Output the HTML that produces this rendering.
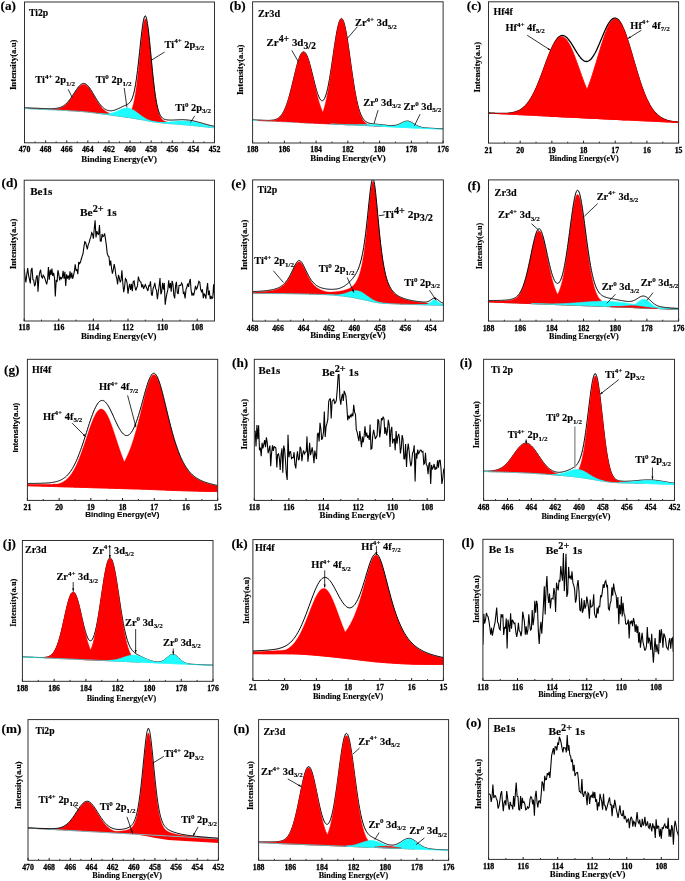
<!DOCTYPE html>
<html><head><meta charset="utf-8"><title>XPS spectra</title>
<style>html,body{margin:0;padding:0;background:#fff;}svg{display:block;will-change:transform;}text{stroke:#000;stroke-width:.14px;}.t text{stroke-width:.28px;}body{font-family:"Liberation Serif",serif;}</style></head>
<body>
<svg width="685" height="881" viewBox="0 0 685 881" font-family='"Liberation Serif", serif' font-weight="bold" fill="#000">
<rect width="685" height="881" fill="#fff"/>
<g id="pa">
<clipPath id="ca"><rect x="24.5" y="2" width="190" height="140.8"/></clipPath><g clip-path="url(#ca)"><path d="M27.5 108.5 28.5 108.5 29.5 108.6 30.5 108.6 31.5 108.7 32.5 108.7 33.5 108.8 34.5 108.8 35.5 108.9 36.5 108.9 37.5 109 38.5 109 39.5 109 40.5 109.1 41.5 109.1 42.5 109.2 43.5 109.2 44.5 109.2 45.5 109.3 46.5 109.3 47.5 109.3 48.5 109.3 49.5 109.4 50.5 109.4 51.5 109.4 52.5 109.3 53.5 109.3 54.5 109.2 55.5 109.1 56.5 109 57.5 108.8 58.5 108.6 59.5 108.3 60.5 108 61.5 107.6 62.5 107.1 63.5 106.5 64.5 105.8 65.5 105 66.5 104 67.5 103 68.5 101.9 69.5 100.6 70.5 99.3 71.5 97.9 72.5 96.4 73.5 94.9 74.5 93.3 75.5 91.8 76.5 90.3 77.5 88.9 78.5 87.6 79.5 86.5 80.5 85.6 81.5 84.9 82.5 84.4 83.5 84.2 84.5 84.3 85.5 84.7 86.5 85.3 87.5 86.2 88.5 87.3 89.5 88.6 90.5 90.1 91.5 91.7 92.5 93.4 93.5 95.1 94.5 96.8 95.5 98.5 96.5 100.2 97.5 101.8 98.5 103.3 99.5 104.7 100.5 106.1 101.5 107.3 102.5 108.4 103.5 109.4 104.5 110.2 105.5 111 106.5 111.7 107.5 112.3 108.5 112.8 109.5 113.3 110.5 113.7 111.5 114.1 112.5 114.4 113.5 114.7 114.5 114.9 115.5 115.1 116.5 115.3 117.5 115.5 118.5 115.7 119.5 115.9 120.5 116 121.5 116.2 122.5 116.4 123.5 116.5 124.5 116.7 125.5 116.8 126.5 117 127.5 117.1 128.5 117.3 129.5 117.5 130.5 117.6 131.5 117.8 132.5 117.9 133.5 118.1 134.5 118.3 135.5 118.5 136.5 118.6 137.5 118.8 138.5 119 139.5 119.2 140.5 119.4 L140.5 119.5 139.5 119.3 138.5 119.1 137.5 118.9 136.5 118.8 135.5 118.6 134.5 118.4 133.5 118.3 132.5 118.1 131.5 117.9 130.5 117.8 129.5 117.6 128.5 117.5 127.5 117.3 126.5 117.2 125.5 117.1 124.5 116.9 123.5 116.8 122.5 116.6 121.5 116.5 120.5 116.4 119.5 116.2 118.5 116.1 117.5 116 116.5 115.8 115.5 115.7 114.5 115.6 113.5 115.4 112.5 115.3 111.5 115.1 110.5 115 109.5 114.9 108.5 114.7 107.5 114.6 106.5 114.5 105.5 114.3 104.5 114.2 103.5 114.1 102.5 114 101.5 113.8 100.5 113.7 99.5 113.6 98.5 113.4 97.5 113.3 96.5 113.2 95.5 113 94.5 112.9 93.5 112.8 92.5 112.7 91.5 112.5 90.5 112.4 89.5 112.3 88.5 112.2 87.5 112.1 86.5 112 85.5 111.9 84.5 111.8 83.5 111.7 82.5 111.6 81.5 111.5 80.5 111.4 79.5 111.4 78.5 111.3 77.5 111.2 76.5 111.2 75.5 111.1 74.5 111 73.5 111 72.5 110.9 71.5 110.9 70.5 110.8 69.5 110.8 68.5 110.7 67.5 110.6 66.5 110.6 65.5 110.5 64.5 110.5 63.5 110.4 62.5 110.4 61.5 110.3 60.5 110.3 59.5 110.2 58.5 110.2 57.5 110.1 56.5 110.1 55.5 110 54.5 110 53.5 109.9 52.5 109.9 51.5 109.8 50.5 109.8 49.5 109.7 48.5 109.7 47.5 109.6 46.5 109.6 45.5 109.5 44.5 109.5 43.5 109.4 42.5 109.4 41.5 109.3 40.5 109.3 39.5 109.2 38.5 109.2 37.5 109.1 36.5 109.1 35.5 109 34.5 109 33.5 108.9 32.5 108.9 31.5 108.8 30.5 108.8 29.5 108.7 28.5 108.7 27.5 108.6Z" fill="#ff0000" stroke="#ff0000" stroke-width="0.3"/><path d="M67.5 110.5 68.5 110.6 69.5 110.6 70.5 110.7 71.5 110.7 72.5 110.8 73.5 110.8 74.5 110.9 75.5 110.9 76.5 111 77.5 111.1 78.5 111.1 79.5 111.2 80.5 111.3 81.5 111.4 82.5 111.4 83.5 111.5 84.5 111.6 85.5 111.7 86.5 111.8 87.5 111.9 88.5 112 89.5 112.1 90.5 112.2 91.5 112.3 92.5 112.4 93.5 112.5 94.5 112.6 95.5 112.8 96.5 112.9 97.5 113 98.5 113.1 99.5 113.2 100.5 113.3 101.5 113.5 102.5 113.6 103.5 113.7 104.5 113.8 105.5 113.9 106.5 114 107.5 114.1 108.5 114.2 109.5 114.3 110.5 114.4 111.5 114.5 112.5 114.6 113.5 114.7 114.5 114.8 115.5 114.9 116.5 115 117.5 115.1 118.5 115.1 119.5 115.2 120.5 115.3 121.5 115.3 122.5 115.3 123.5 115.3 124.5 115.3 125.5 115.1 126.5 114.9 127.5 114.6 128.5 114 129.5 113 130.5 111.7 131.5 109.7 132.5 107 133.5 103.4 134.5 98.7 135.5 92.8 136.5 85.7 137.5 77.5 138.5 68.2 139.5 58.4 140.5 48.3 141.5 38.8 142.5 30.3 143.5 23.8 144.5 19.7 145.5 18.6 146.5 20.7 147.5 25.7 148.5 33 149.5 42.1 150.5 52.2 151.5 62.6 152.5 72.7 153.5 82.1 154.5 90.5 155.5 97.7 156.5 103.6 157.5 108.4 158.5 112.1 159.5 114.9 160.5 117 161.5 118.6 162.5 119.7 163.5 120.4 164.5 121 165.5 121.5 166.5 121.8 167.5 122.1 168.5 122.3 169.5 122.5 170.5 122.6 171.5 122.8 172.5 122.9 173.5 123.1 174.5 123.2 175.5 123.3 176.5 123.4 177.5 123.5 178.5 123.7 179.5 123.8 180.5 123.9 181.5 124 182.5 124.1 183.5 124.2 184.5 124.3 185.5 124.4 186.5 124.5 187.5 124.6 188.5 124.7 189.5 124.8 190.5 124.9 191.5 125.1 192.5 125.2 193.5 125.3 194.5 125.4 195.5 125.5 196.5 125.6 197.5 125.8 198.5 125.9 199.5 126 200.5 126.1 201.5 126.2 202.5 126.4 203.5 126.5 204.5 126.6 205.5 126.7 206.5 126.8 207.5 126.9 208.5 127 209.5 127.2 210.5 127.3 211.5 127.4 212.5 127.5 213.5 127.6 214.5 127.7 L214.5 127.8 213.5 127.7 212.5 127.6 211.5 127.5 210.5 127.4 209.5 127.3 208.5 127.2 207.5 127.1 206.5 127 205.5 126.9 204.5 126.8 203.5 126.7 202.5 126.6 201.5 126.5 200.5 126.3 199.5 126.2 198.5 126.1 197.5 126 196.5 125.9 195.5 125.8 194.5 125.7 193.5 125.6 192.5 125.5 191.5 125.4 190.5 125.3 189.5 125.2 188.5 125.1 187.5 125 186.5 124.9 185.5 124.8 184.5 124.8 183.5 124.7 182.5 124.6 181.5 124.5 180.5 124.4 179.5 124.4 178.5 124.3 177.5 124.2 176.5 124.1 175.5 124.1 174.5 124 173.5 123.9 172.5 123.9 171.5 123.8 170.5 123.7 169.5 123.6 168.5 123.6 167.5 123.5 166.5 123.4 165.5 123.3 164.5 123.2 163.5 123.1 162.5 123 161.5 122.9 160.5 122.8 159.5 122.7 158.5 122.6 157.5 122.4 156.5 122.3 155.5 122.1 154.5 122 153.5 121.8 152.5 121.7 151.5 121.5 150.5 121.3 149.5 121.2 148.5 121 147.5 120.8 146.5 120.6 145.5 120.4 144.5 120.2 143.5 120 142.5 119.9 141.5 119.7 140.5 119.5 139.5 119.3 138.5 119.1 137.5 118.9 136.5 118.8 135.5 118.6 134.5 118.4 133.5 118.3 132.5 118.1 131.5 117.9 130.5 117.8 129.5 117.6 128.5 117.5 127.5 117.3 126.5 117.2 125.5 117.1 124.5 116.9 123.5 116.8 122.5 116.6 121.5 116.5 120.5 116.4 119.5 116.2 118.5 116.1 117.5 116 116.5 115.8 115.5 115.7 114.5 115.6 113.5 115.4 112.5 115.3 111.5 115.1 110.5 115 109.5 114.9 108.5 114.7 107.5 114.6 106.5 114.5 105.5 114.3 104.5 114.2 103.5 114.1 102.5 114 101.5 113.8 100.5 113.7 99.5 113.6 98.5 113.4 97.5 113.3 96.5 113.2 95.5 113 94.5 112.9 93.5 112.8 92.5 112.7 91.5 112.5 90.5 112.4 89.5 112.3 88.5 112.2 87.5 112.1 86.5 112 85.5 111.9 84.5 111.8 83.5 111.7 82.5 111.6 81.5 111.5 80.5 111.4 79.5 111.4 78.5 111.3 77.5 111.2 76.5 111.2 75.5 111.1 74.5 111 73.5 111 72.5 110.9 71.5 110.9 70.5 110.8 69.5 110.8 68.5 110.7 67.5 110.6Z" fill="#ff0000" stroke="#ff0000" stroke-width="0.3"/><path d="M99.5 113.4 100.5 113.5 101.5 113.6 102.5 113.7 103.5 113.7 104.5 113.8 105.5 113.8 106.5 113.7 107.5 113.7 108.5 113.6 109.5 113.5 110.5 113.3 111.5 113.1 112.5 112.8 113.5 112.5 114.5 112.1 115.5 111.8 116.5 111.4 117.5 110.9 118.5 110.5 119.5 110 120.5 109.6 121.5 109.1 122.5 108.8 123.5 108.4 124.5 108.2 125.5 108 126.5 107.9 127.5 107.9 128.5 108 129.5 108.2 130.5 108.5 131.5 108.9 132.5 109.4 133.5 109.9 134.5 110.6 135.5 111.3 136.5 112 137.5 112.7 138.5 113.5 139.5 114.3 140.5 115 141.5 115.8 142.5 116.5 143.5 117.1 144.5 117.7 145.5 118.3 146.5 118.9 147.5 119.4 148.5 119.8 149.5 120.2 150.5 120.6 151.5 120.9 152.5 121.2 153.5 121.5 154.5 121.7 155.5 121.9 156.5 122.1 157.5 122.3 L157.5 122.4 156.5 122.3 155.5 122.1 154.5 122 153.5 121.8 152.5 121.7 151.5 121.5 150.5 121.3 149.5 121.2 148.5 121 147.5 120.8 146.5 120.6 145.5 120.4 144.5 120.2 143.5 120 142.5 119.9 141.5 119.7 140.5 119.5 139.5 119.3 138.5 119.1 137.5 118.9 136.5 118.8 135.5 118.6 134.5 118.4 133.5 118.3 132.5 118.1 131.5 117.9 130.5 117.8 129.5 117.6 128.5 117.5 127.5 117.3 126.5 117.2 125.5 117.1 124.5 116.9 123.5 116.8 122.5 116.6 121.5 116.5 120.5 116.4 119.5 116.2 118.5 116.1 117.5 116 116.5 115.8 115.5 115.7 114.5 115.6 113.5 115.4 112.5 115.3 111.5 115.1 110.5 115 109.5 114.9 108.5 114.7 107.5 114.6 106.5 114.5 105.5 114.3 104.5 114.2 103.5 114.1 102.5 114 101.5 113.8 100.5 113.7 99.5 113.6Z" fill="#1ffcff" stroke="#1ffcff" stroke-width="0.3"/><path d="M149.5 121 150.5 121.2 151.5 121.3 152.5 121.5 153.5 121.6 154.5 121.7 155.5 121.8 156.5 121.9 157.5 122 158.5 122.1 159.5 122.1 160.5 122.1 161.5 122.2 162.5 122.2 163.5 122.2 164.5 122.2 165.5 122.1 166.5 122.1 167.5 122 168.5 122 169.5 121.9 170.5 121.8 171.5 121.7 172.5 121.6 173.5 121.5 174.5 121.4 175.5 121.3 176.5 121.2 177.5 121.1 178.5 121.1 179.5 121 180.5 120.9 181.5 120.9 182.5 120.9 183.5 120.9 184.5 120.9 185.5 120.9 186.5 120.9 187.5 121 188.5 121.1 189.5 121.2 190.5 121.4 191.5 121.5 192.5 121.7 193.5 121.9 194.5 122.1 195.5 122.3 196.5 122.5 197.5 122.8 198.5 123.1 199.5 123.3 200.5 123.6 201.5 123.9 202.5 124.2 203.5 124.4 204.5 124.7 205.5 125 206.5 125.3 207.5 125.5 208.5 125.8 209.5 126 210.5 126.2 211.5 126.5 212.5 126.7 213.5 126.9 214.5 127.1 L214.5 127.8 213.5 127.7 212.5 127.6 211.5 127.5 210.5 127.4 209.5 127.3 208.5 127.2 207.5 127.1 206.5 127 205.5 126.9 204.5 126.8 203.5 126.7 202.5 126.6 201.5 126.5 200.5 126.3 199.5 126.2 198.5 126.1 197.5 126 196.5 125.9 195.5 125.8 194.5 125.7 193.5 125.6 192.5 125.5 191.5 125.4 190.5 125.3 189.5 125.2 188.5 125.1 187.5 125 186.5 124.9 185.5 124.8 184.5 124.8 183.5 124.7 182.5 124.6 181.5 124.5 180.5 124.4 179.5 124.4 178.5 124.3 177.5 124.2 176.5 124.1 175.5 124.1 174.5 124 173.5 123.9 172.5 123.9 171.5 123.8 170.5 123.7 169.5 123.6 168.5 123.6 167.5 123.5 166.5 123.4 165.5 123.3 164.5 123.2 163.5 123.1 162.5 123 161.5 122.9 160.5 122.8 159.5 122.7 158.5 122.6 157.5 122.4 156.5 122.3 155.5 122.1 154.5 122 153.5 121.8 152.5 121.7 151.5 121.5 150.5 121.3 149.5 121.2Z" fill="#1ffcff" stroke="#1ffcff" stroke-width="0.3"/><path d="M24.5 108.5 25.5 108.5 26.5 108.6 27.5 108.6 28.5 108.7 29.5 108.7 30.5 108.8 31.5 108.8 32.5 108.9 33.5 108.9 34.5 109 35.5 109 36.5 109.1 37.5 109.1 38.5 109.2 39.5 109.2 40.5 109.3 41.5 109.3 42.5 109.4 43.5 109.4 44.5 109.5 45.5 109.5 46.5 109.6 47.5 109.6 48.5 109.7 49.5 109.7 50.5 109.8 51.5 109.8 52.5 109.9 53.5 109.9 54.5 110 55.5 110 56.5 110.1 57.5 110.1 58.5 110.2 59.5 110.2 60.5 110.3 61.5 110.3 62.5 110.4 63.5 110.4 64.5 110.5 65.5 110.5 66.5 110.6 67.5 110.6 68.5 110.7 69.5 110.8 70.5 110.8 71.5 110.9 72.5 110.9 73.5 111 74.5 111 75.5 111.1 76.5 111.2 77.5 111.2 78.5 111.3 79.5 111.4 80.5 111.4 81.5 111.5 82.5 111.6 83.5 111.7 84.5 111.8 85.5 111.9 86.5 112 87.5 112.1 88.5 112.2 89.5 112.3 90.5 112.4 91.5 112.5 92.5 112.7 93.5 112.8 94.5 112.9 95.5 113 96.5 113.2 97.5 113.3 98.5 113.4 99.5 113.6 100.5 113.7 101.5 113.8 102.5 114 103.5 114.1 104.5 114.2 105.5 114.3 106.5 114.5 107.5 114.6 108.5 114.7 109.5 114.9 110.5 115 111.5 115.1 112.5 115.3 113.5 115.4 114.5 115.6 115.5 115.7 116.5 115.8 117.5 116 118.5 116.1 119.5 116.2 120.5 116.4 121.5 116.5 122.5 116.6 123.5 116.8 124.5 116.9 125.5 117.1 126.5 117.2 127.5 117.3 128.5 117.5 129.5 117.6 130.5 117.8 131.5 117.9 132.5 118.1 133.5 118.3 134.5 118.4 135.5 118.6 136.5 118.8 137.5 118.9 138.5 119.1 139.5 119.3 140.5 119.5 141.5 119.7 142.5 119.9 143.5 120 144.5 120.2 145.5 120.4 146.5 120.6 147.5 120.8 148.5 121 149.5 121.2 150.5 121.3 151.5 121.5 152.5 121.7 153.5 121.8 154.5 122 155.5 122.1 156.5 122.3 157.5 122.4 158.5 122.6 159.5 122.7 160.5 122.8 161.5 122.9 162.5 123 163.5 123.1 164.5 123.2 165.5 123.3 166.5 123.4 167.5 123.5 168.5 123.6 169.5 123.6 170.5 123.7 171.5 123.8 172.5 123.9 173.5 123.9 174.5 124 175.5 124.1 176.5 124.1 177.5 124.2 178.5 124.3 179.5 124.4 180.5 124.4 181.5 124.5 182.5 124.6 183.5 124.7 184.5 124.8 185.5 124.8 186.5 124.9 187.5 125 188.5 125.1 189.5 125.2 190.5 125.3 191.5 125.4 192.5 125.5 193.5 125.6 194.5 125.7 195.5 125.8 196.5 125.9 197.5 126 198.5 126.1 199.5 126.2 200.5 126.3 201.5 126.5 202.5 126.6 203.5 126.7 204.5 126.8 205.5 126.9 206.5 127 207.5 127.1 208.5 127.2 209.5 127.3 210.5 127.4 211.5 127.5 212.5 127.6 213.5 127.7 214.5 127.8" fill="none" stroke="#1ffcff" stroke-width="0.8"/><path d="M24.5 107.7 25.5 107.8 26.5 107.8 27.5 107.8 28.5 107.9 29.5 107.9 30.5 108 31.5 108 32.5 108.1 33.5 108.1 34.5 108.2 35.5 108.2 36.5 108.2 37.5 108.3 38.5 108.3 39.5 108.4 40.5 108.4 41.5 108.5 42.5 108.5 43.5 108.5 44.5 108.6 45.5 108.6 46.5 108.6 47.5 108.6 48.5 108.7 49.5 108.7 50.5 108.7 51.5 108.7 52.5 108.6 53.5 108.6 54.5 108.5 55.5 108.4 56.5 108.3 57.5 108.1 58.5 107.9 59.5 107.6 60.5 107.3 61.5 106.9 62.5 106.4 63.5 105.8 64.5 105.1 65.5 104.3 66.5 103.3 67.5 102.3 68.5 101.2 69.5 99.9 70.5 98.6 71.5 97.1 72.5 95.7 73.5 94.1 74.5 92.6 75.5 91 76.5 89.6 77.5 88.2 78.5 86.9 79.5 85.7 80.5 84.8 81.5 84.1 82.5 83.6 83.5 83.4 84.5 83.5 85.5 83.9 86.5 84.5 87.5 85.4 88.5 86.5 89.5 87.8 90.5 89.3 91.5 90.8 92.5 92.5 93.5 94.2 94.5 95.9 95.5 97.6 96.5 99.2 97.5 100.8 98.5 102.3 99.5 103.7 100.5 105 101.5 106.1 102.5 107.1 103.5 108 104.5 108.8 105.5 109.4 106.5 109.9 107.5 110.3 108.5 110.6 109.5 110.7 110.5 110.8 111.5 110.8 112.5 110.6 113.5 110.4 114.5 110.2 115.5 109.8 116.5 109.4 117.5 109 118.5 108.5 119.5 108.1 120.5 107.6 121.5 107.1 122.5 106.6 123.5 106.1 124.5 105.7 125.5 105.3 126.5 104.8 127.5 104.3 128.5 103.7 129.5 102.8 130.5 101.6 131.5 99.9 132.5 97.5 133.5 94.3 134.5 90.1 135.5 84.7 136.5 78.2 137.5 70.5 138.5 61.9 139.5 52.6 140.5 43.1 141.5 34.1 142.5 26.2 143.5 20.1 144.5 16.5 145.5 15.8 146.5 18.2 147.5 23.5 148.5 31.1 149.5 40.4 150.5 50.6 151.5 61.1 152.5 71.4 153.5 80.9 154.5 89.3 155.5 96.5 156.5 102.4 157.5 107.2 158.5 110.9 159.5 113.6 160.5 115.7 161.5 117.1 162.5 118.1 163.5 118.8 164.5 119.3 165.5 119.6 166.5 119.8 167.5 119.9 168.5 120 169.5 120 170.5 120.1 171.5 120.1 172.5 120 173.5 120 174.5 120 175.5 119.9 176.5 119.9 177.5 119.8 178.5 119.8 179.5 119.8 180.5 119.7 181.5 119.7 182.5 119.7 183.5 119.7 184.5 119.8 185.5 119.8 186.5 119.9 187.5 120 188.5 120.1 189.5 120.2 190.5 120.4 191.5 120.5 192.5 120.7 193.5 120.9 194.5 121.2 195.5 121.4 196.5 121.6 197.5 121.9 198.5 122.2 199.5 122.5 200.5 122.7 201.5 123 202.5 123.3 203.5 123.6 204.5 123.9 205.5 124.2 206.5 124.4 207.5 124.7 208.5 125 209.5 125.2 210.5 125.5 211.5 125.7 212.5 125.9 213.5 126.1 214.5 126.3" fill="none" stroke="#000" stroke-width="1" stroke-linejoin="round"/></g>
<path d="M24.5 142.8 v-2.4M45.61 142.8 v-2.4M66.72 142.8 v-2.4M87.83 142.8 v-2.4M108.94 142.8 v-2.4M130.06 142.8 v-2.4M151.17 142.8 v-2.4M172.28 142.8 v-2.4M193.39 142.8 v-2.4M214.5 142.8 v-2.4" stroke="#000" stroke-width="0.9" fill="none"/><path d="M35.06 142.8 v-1.4M56.17 142.8 v-1.4M77.28 142.8 v-1.4M98.39 142.8 v-1.4M119.5 142.8 v-1.4M140.61 142.8 v-1.4M161.72 142.8 v-1.4M182.83 142.8 v-1.4M203.94 142.8 v-1.4" stroke="#000" stroke-width="0.8" fill="none"/><rect x="24.5" y="2" width="190" height="140.8" fill="none" stroke="#262626" stroke-width="0.95"/><g class="t" font-size="7.8" text-anchor="middle"><text x="24.5" y="152.2">470</text><text x="45.61" y="152.2">468</text><text x="66.72" y="152.2">466</text><text x="87.83" y="152.2">464</text><text x="108.94" y="152.2">462</text><text x="130.06" y="152.2">460</text><text x="151.17" y="152.2">458</text><text x="172.28" y="152.2">456</text><text x="193.39" y="152.2">454</text><text x="214.5" y="152.2">452</text></g><text x="119.1" y="161.6" font-size="8.8" text-anchor="middle" font-family='"Liberation Serif", serif'>Binding Energy(eV)</text><text transform="translate(16 64.8) rotate(-90)" font-size="8.8" text-anchor="middle" font-family='"Liberation Serif", serif'>Intensity(a.u)</text><text x="0.5" y="10.2" font-size="13.2">(a)</text><text x="29" y="15.6" font-size="9.7">Ti2p</text>
<line x1="68.16" y1="89.31" x2="72.19" y2="97.37" stroke="#000" stroke-width="0.8"/>
<line x1="124.23" y1="87.97" x2="126.92" y2="107.45" stroke="#000" stroke-width="0.8"/>
<line x1="164.53" y1="52.04" x2="151.09" y2="60.44" stroke="#000" stroke-width="0.8"/>
<line x1="194.74" y1="115.84" x2="190.38" y2="122.55" stroke="#000" stroke-width="0.8"/>
<text x="35.3" y="83.3" font-size="10.4" text-anchor="start"><tspan dy="0">Ti</tspan><tspan dy="-4.26" font-size="7.07">4+</tspan><tspan dy="4.26"> 2p</tspan><tspan dy="2.5" font-size="7.07">1/2</tspan></text>
<text x="95.7" y="83.3" font-size="10.4" text-anchor="start"><tspan dy="0">Ti</tspan><tspan dy="-4.26" font-size="7.07">0</tspan><tspan dy="4.26"> 2p</tspan><tspan dy="2.5" font-size="7.07">1/2</tspan></text>
<text x="164.5" y="47.7" font-size="10.4" text-anchor="start"><tspan dy="0">Ti</tspan><tspan dy="-4.26" font-size="7.07">4+</tspan><tspan dy="4.26"> 2p</tspan><tspan dy="2.5" font-size="7.07">3/2</tspan></text>
<text x="175.3" y="110.8" font-size="10.4" text-anchor="start"><tspan dy="0">Ti</tspan><tspan dy="-4.26" font-size="7.07">0</tspan><tspan dy="4.26"> 2p</tspan><tspan dy="2.5" font-size="7.07">3/2</tspan></text>
</g>
<g id="pb">
<clipPath id="cb"><rect x="252.6" y="1.8" width="190.5" height="141.2"/></clipPath><g clip-path="url(#cb)"><path d="M252.6 119.8 253.6 119.8 254.6 119.9 255.6 119.9 256.6 120 257.6 120 258.6 120.1 259.6 120.1 260.6 120.1 261.6 120.2 262.6 120.2 263.6 120.3 264.6 120.3 265.6 120.3 266.6 120.4 267.6 120.4 268.6 120.4 269.6 120.4 270.6 120.3 271.6 120.2 272.6 120.1 273.6 120 274.6 119.7 275.6 119.4 276.6 119 277.6 118.5 278.6 117.9 279.6 117.1 280.6 116 281.6 114.8 282.6 113.4 283.6 111.6 284.6 109.6 285.6 107.3 286.6 104.7 287.6 101.7 288.6 98.5 289.6 95 290.6 91.2 291.6 87.2 292.6 83.1 293.6 78.9 294.6 74.7 295.6 70.6 296.6 66.6 297.6 63 298.6 59.7 299.6 56.9 300.6 54.6 301.6 53 302.6 52 303.6 51.7 304.6 52.1 305.6 53.2 306.6 54.9 307.6 57.2 308.6 60.1 309.6 63.4 310.6 67.1 311.6 71 312.6 75 313.6 79.1 314.6 83.1 315.6 86.9 316.6 90.4 317.6 93.6 318.6 96.2 319.6 98.4 320.6 99.9 321.6 100.7 322.6 100.7 323.6 100 324.6 98.4 325.6 96 326.6 92.8 327.6 88.7 328.6 83.9 329.6 78.4 330.6 72.3 331.6 65.8 332.6 59 333.6 52.1 334.6 45.3 335.6 38.9 336.6 33 337.6 27.9 338.6 23.7 339.6 20.7 340.6 18.9 341.6 18.4 342.6 19.3 343.6 21.5 344.6 24.9 345.6 29.4 346.6 34.8 347.6 41 348.6 47.8 349.6 54.9 350.6 62.2 351.6 69.4 352.6 76.3 353.6 82.9 354.6 89.1 355.6 94.7 356.6 99.7 357.6 104.1 358.6 108 359.6 111.2 360.6 113.9 361.6 116.2 362.6 118 363.6 119.4 364.6 120.5 365.6 121.4 366.6 122.1 367.6 122.6 368.6 123 369.6 123.3 370.6 123.5 371.6 123.6 372.6 123.8 373.6 123.9 374.6 124 375.6 124.1 376.6 124.2 377.6 124.3 378.6 124.4 379.6 124.5 380.6 124.6 381.6 124.7 382.6 124.8 383.6 124.9 384.6 125 385.6 125.1 386.6 125.3 387.6 125.4 388.6 125.5 389.6 125.5 390.6 125.6 391.6 125.6 392.6 125.6 393.6 125.6 394.6 125.4 395.6 125.3 396.6 125 397.6 124.7 398.6 124.3 399.6 123.9 400.6 123.4 401.6 122.9 402.6 122.4 403.6 122 404.6 121.6 405.6 121.3 406.6 121.1 407.6 121.1 408.6 121.2 409.6 121.5 410.6 121.9 411.6 122.4 412.6 123 413.6 123.6 414.6 124.2 415.6 124.8 416.6 125.4 417.6 125.9 418.6 126.3 419.6 126.7 420.6 127 421.6 127.3 422.6 127.5 423.6 127.6 424.6 127.8 425.6 127.9 426.6 128 427.6 128 428.6 128.1 429.6 128.2 430.6 128.2 431.6 128.3 432.6 128.3 433.6 128.4 434.6 128.4 435.6 128.5 436.6 128.5 437.6 128.6 438.6 128.6 439.6 128.7 440.6 128.7 441.6 128.8 442.6 128.8 443.1 128.8" fill="none" stroke="#000" stroke-width="1" stroke-linejoin="round"/><path d="M252.6 120.2 253.6 120.3 254.6 120.3 255.6 120.4 256.6 120.4 257.6 120.5 258.6 120.5 259.6 120.6 260.6 120.6 261.6 120.7 262.6 120.7 263.6 120.7 264.6 120.8 265.6 120.8 266.6 120.9 267.6 120.9 268.6 121 269.6 121 270.6 121.1 271.6 121.1 272.6 121.2 273.6 121.2 274.6 121.3 275.6 121.3 276.6 121.4 277.6 121.4 278.6 121.5 279.6 121.5 280.6 121.6 281.6 121.6 282.6 121.7 283.6 121.7 284.6 121.7 285.6 121.8 286.6 121.8 287.6 121.9 288.6 121.9 289.6 122 290.6 122 291.6 122.1 292.6 122.1 293.6 122.2 294.6 122.2 295.6 122.3 296.6 122.3 297.6 122.4 298.6 122.4 299.6 122.5 300.6 122.5 301.6 122.6 302.6 122.6 303.6 122.6 304.6 122.7 305.6 122.7 306.6 122.8 307.6 122.8 308.6 122.9 309.6 122.9 310.6 123 311.6 123 312.6 123.1 313.6 123.1 314.6 123.2 315.6 123.2 316.6 123.3 317.6 123.3 318.6 123.4 319.6 123.4 320.6 123.5 321.6 123.5 322.6 123.6 323.6 123.6 324.6 123.6 325.6 123.7 326.6 123.7 327.6 123.8 328.6 123.8 329.6 123.9 330.6 123.9 331.6 124 332.6 124 333.6 124.1 334.6 124.1 335.6 124.2 336.6 124.2 337.6 124.3 338.6 124.3 339.6 124.4 340.6 124.4 341.6 124.5 342.6 124.5 343.6 124.6 344.6 124.6 345.6 124.6 346.6 124.7 347.6 124.7 348.6 124.8 349.6 124.8 350.6 124.9 351.6 124.9 352.6 125 353.6 125 354.6 125.1 355.6 125.1 356.6 125.2 357.6 125.2 358.6 125.3 359.6 125.3 360.6 125.4 361.6 125.4 362.6 125.5 363.6 125.5 364.6 125.5 365.6 125.6 366.6 125.6 367.6 125.7 368.6 125.7 369.6 125.8 370.6 125.8 371.6 125.9 372.6 125.9 373.6 126 374.6 126 375.6 126.1 376.6 126.1 377.6 126.2 378.6 126.2 379.6 126.3 380.6 126.3 381.6 126.4 382.6 126.4 383.6 126.5 384.6 126.5 385.6 126.5 386.6 126.6 387.6 126.6 388.6 126.7 389.6 126.7 390.6 126.8 391.6 126.8 392.6 126.9 393.6 126.9 394.6 127 395.6 127 396.6 127.1 397.6 127.1 398.6 127.2 399.6 127.2 400.6 127.3 401.6 127.3 402.6 127.4 403.6 127.4 404.6 127.4 405.6 127.5 406.6 127.5 407.6 127.6 408.6 127.6 409.6 127.7 410.6 127.7 411.6 127.8 412.6 127.8 413.6 127.9 414.6 127.9 415.6 128 416.6 128 417.6 128.1 418.6 128.1 419.6 128.2 420.6 128.2 421.6 128.3 422.6 128.3 423.6 128.4 424.6 128.4 425.6 128.4 426.6 128.5 427.6 128.5 428.6 128.6 429.6 128.6 430.6 128.7 431.6 128.7 432.6 128.8 433.6 128.8 434.6 128.9 435.6 128.9 436.6 129 437.6 129 438.6 129.1 439.6 129.1 440.6 129.2 441.6 129.2 442.6 129.3 443.1 129.3" fill="none" stroke="#1ffcff" stroke-width="0.8"/><path d="M257.6 120.5 258.6 120.5 259.6 120.6 260.6 120.6 261.6 120.6 262.6 120.7 263.6 120.7 264.6 120.8 265.6 120.8 266.6 120.8 267.6 120.8 268.6 120.8 269.6 120.8 270.6 120.8 271.6 120.7 272.6 120.6 273.6 120.4 274.6 120.2 275.6 119.9 276.6 119.5 277.6 119 278.6 118.3 279.6 117.5 280.6 116.5 281.6 115.3 282.6 113.8 283.6 112.1 284.6 110.1 285.6 107.7 286.6 105.1 287.6 102.2 288.6 98.9 289.6 95.4 290.6 91.6 291.6 87.7 292.6 83.5 293.6 79.3 294.6 75.1 295.6 71 296.6 67.1 297.6 63.4 298.6 60.2 299.6 57.4 300.6 55.1 301.6 53.4 302.6 52.5 303.6 52.1 304.6 52.5 305.6 53.6 306.6 55.4 307.6 57.7 308.6 60.6 309.6 64 310.6 67.7 311.6 71.8 312.6 76 313.6 80.3 314.6 84.6 315.6 88.8 316.6 92.9 317.6 96.7 318.6 100.4 319.6 103.7 320.6 106.7 321.6 109.5 322.6 111.9 323.6 114 324.6 115.8 325.6 117.4 326.6 118.7 327.6 119.8 328.6 120.7 329.6 121.4 330.6 122.1 331.6 122.6 332.6 123 333.6 123.3 334.6 123.5 335.6 123.7 336.6 123.9 337.6 124 338.6 124.2 339.6 124.2 340.6 124.3 341.6 124.4 342.6 124.5 343.6 124.5 344.6 124.6 345.6 124.6 346.6 124.7 347.6 124.7 348.6 124.8 349.6 124.8 L349.6 124.8 348.6 124.8 347.6 124.7 346.6 124.7 345.6 124.6 344.6 124.6 343.6 124.6 342.6 124.5 341.6 124.5 340.6 124.4 339.6 124.4 338.6 124.3 337.6 124.3 336.6 124.2 335.6 124.2 334.6 124.1 333.6 124.1 332.6 124 331.6 124 330.6 123.9 329.6 123.9 328.6 123.8 327.6 123.8 326.6 123.7 325.6 123.7 324.6 123.6 323.6 123.6 322.6 123.6 321.6 123.5 320.6 123.5 319.6 123.4 318.6 123.4 317.6 123.3 316.6 123.3 315.6 123.2 314.6 123.2 313.6 123.1 312.6 123.1 311.6 123 310.6 123 309.6 122.9 308.6 122.9 307.6 122.8 306.6 122.8 305.6 122.7 304.6 122.7 303.6 122.6 302.6 122.6 301.6 122.6 300.6 122.5 299.6 122.5 298.6 122.4 297.6 122.4 296.6 122.3 295.6 122.3 294.6 122.2 293.6 122.2 292.6 122.1 291.6 122.1 290.6 122 289.6 122 288.6 121.9 287.6 121.9 286.6 121.8 285.6 121.8 284.6 121.7 283.6 121.7 282.6 121.7 281.6 121.6 280.6 121.6 279.6 121.5 278.6 121.5 277.6 121.4 276.6 121.4 275.6 121.3 274.6 121.3 273.6 121.2 272.6 121.2 271.6 121.1 270.6 121.1 269.6 121 268.6 121 267.6 120.9 266.6 120.9 265.6 120.8 264.6 120.8 263.6 120.7 262.6 120.7 261.6 120.7 260.6 120.6 259.6 120.6 258.6 120.5 257.6 120.5Z" fill="#ff0000" stroke="#ff0000" stroke-width="0.5"/><path d="M299.6 122.5 300.6 122.5 301.6 122.5 302.6 122.6 303.6 122.6 304.6 122.7 305.6 122.7 306.6 122.7 307.6 122.8 308.6 122.8 309.6 122.8 310.6 122.7 311.6 122.7 312.6 122.6 313.6 122.4 314.6 122.2 315.6 121.8 316.6 121.3 317.6 120.6 318.6 119.7 319.6 118.5 320.6 117 321.6 115.2 322.6 112.9 323.6 110.1 324.6 106.7 325.6 102.8 326.6 98.3 327.6 93.2 328.6 87.5 329.6 81.3 330.6 74.7 331.6 67.7 332.6 60.5 333.6 53.4 334.6 46.4 335.6 39.8 336.6 33.8 337.6 28.6 338.6 24.3 339.6 21.3 340.6 19.5 341.6 19 342.6 19.8 343.6 22 344.6 25.4 345.6 29.9 346.6 35.4 347.6 41.6 348.6 48.4 349.6 55.5 350.6 62.8 351.6 70.1 352.6 77.1 353.6 83.7 354.6 89.9 355.6 95.6 356.6 100.7 357.6 105.2 358.6 109.1 359.6 112.4 360.6 115.2 361.6 117.5 362.6 119.4 363.6 120.9 364.6 122.1 365.6 123 366.6 123.8 367.6 124.4 368.6 124.8 369.6 125.1 370.6 125.4 371.6 125.6 372.6 125.7 373.6 125.8 374.6 125.9 375.6 126 376.6 126.1 377.6 126.1 378.6 126.2 379.6 126.3 380.6 126.3 381.6 126.4 382.6 126.4 383.6 126.5 L383.6 126.5 382.6 126.4 381.6 126.4 380.6 126.3 379.6 126.3 378.6 126.2 377.6 126.2 376.6 126.1 375.6 126.1 374.6 126 373.6 126 372.6 125.9 371.6 125.9 370.6 125.8 369.6 125.8 368.6 125.7 367.6 125.7 366.6 125.6 365.6 125.6 364.6 125.5 363.6 125.5 362.6 125.5 361.6 125.4 360.6 125.4 359.6 125.3 358.6 125.3 357.6 125.2 356.6 125.2 355.6 125.1 354.6 125.1 353.6 125 352.6 125 351.6 124.9 350.6 124.9 349.6 124.8 348.6 124.8 347.6 124.7 346.6 124.7 345.6 124.6 344.6 124.6 343.6 124.6 342.6 124.5 341.6 124.5 340.6 124.4 339.6 124.4 338.6 124.3 337.6 124.3 336.6 124.2 335.6 124.2 334.6 124.1 333.6 124.1 332.6 124 331.6 124 330.6 123.9 329.6 123.9 328.6 123.8 327.6 123.8 326.6 123.7 325.6 123.7 324.6 123.6 323.6 123.6 322.6 123.6 321.6 123.5 320.6 123.5 319.6 123.4 318.6 123.4 317.6 123.3 316.6 123.3 315.6 123.2 314.6 123.2 313.6 123.1 312.6 123.1 311.6 123 310.6 123 309.6 122.9 308.6 122.9 307.6 122.8 306.6 122.8 305.6 122.7 304.6 122.7 303.6 122.6 302.6 122.6 301.6 122.6 300.6 122.5 299.6 122.5Z" fill="#ff0000" stroke="#ff0000" stroke-width="0.5"/><path d="M330.6 123.9 331.6 124 332.6 124 333.6 124.1 334.6 124.1 335.6 124.2 336.6 124.2 337.6 124.3 338.6 124.3 339.6 124.3 340.6 124.4 341.6 124.4 342.6 124.5 343.6 124.5 344.6 124.5 345.6 124.6 346.6 124.6 347.6 124.6 348.6 124.6 349.6 124.7 350.6 124.7 351.6 124.7 352.6 124.7 353.6 124.7 354.6 124.7 355.6 124.7 356.6 124.7 357.6 124.6 358.6 124.6 359.6 124.6 360.6 124.6 361.6 124.5 362.6 124.5 363.6 124.5 364.6 124.5 365.6 124.4 366.6 124.4 367.6 124.4 368.6 124.4 369.6 124.4 370.6 124.4 371.6 124.4 372.6 124.4 373.6 124.5 374.6 124.5 375.6 124.6 376.6 124.7 377.6 124.7 378.6 124.8 379.6 124.9 380.6 125 381.6 125.1 382.6 125.2 383.6 125.4 384.6 125.5 385.6 125.6 386.6 125.7 387.6 125.9 388.6 126 389.6 126.1 390.6 126.2 391.6 126.3 392.6 126.4 393.6 126.5 394.6 126.6 395.6 126.7 396.6 126.8 397.6 126.9 398.6 127 399.6 127.1 400.6 127.1 401.6 127.2 402.6 127.3 403.6 127.3 404.6 127.4 405.6 127.5 406.6 127.5 407.6 127.6 408.6 127.6 409.6 127.7 410.6 127.7 411.6 127.8 412.6 127.8 413.6 127.9 414.6 127.9 415.6 128 416.6 128 417.6 128.1 L417.6 128.1 416.6 128 415.6 128 414.6 127.9 413.6 127.9 412.6 127.8 411.6 127.8 410.6 127.7 409.6 127.7 408.6 127.6 407.6 127.6 406.6 127.5 405.6 127.5 404.6 127.4 403.6 127.4 402.6 127.4 401.6 127.3 400.6 127.3 399.6 127.2 398.6 127.2 397.6 127.1 396.6 127.1 395.6 127 394.6 127 393.6 126.9 392.6 126.9 391.6 126.8 390.6 126.8 389.6 126.7 388.6 126.7 387.6 126.6 386.6 126.6 385.6 126.5 384.6 126.5 383.6 126.5 382.6 126.4 381.6 126.4 380.6 126.3 379.6 126.3 378.6 126.2 377.6 126.2 376.6 126.1 375.6 126.1 374.6 126 373.6 126 372.6 125.9 371.6 125.9 370.6 125.8 369.6 125.8 368.6 125.7 367.6 125.7 366.6 125.6 365.6 125.6 364.6 125.5 363.6 125.5 362.6 125.5 361.6 125.4 360.6 125.4 359.6 125.3 358.6 125.3 357.6 125.2 356.6 125.2 355.6 125.1 354.6 125.1 353.6 125 352.6 125 351.6 124.9 350.6 124.9 349.6 124.8 348.6 124.8 347.6 124.7 346.6 124.7 345.6 124.6 344.6 124.6 343.6 124.6 342.6 124.5 341.6 124.5 340.6 124.4 339.6 124.4 338.6 124.3 337.6 124.3 336.6 124.2 335.6 124.2 334.6 124.1 333.6 124.1 332.6 124 331.6 124 330.6 123.9Z" fill="#1ffcff" stroke="#1ffcff" stroke-width="0.5"/><path d="M381.6 126.4 382.6 126.4 383.6 126.4 384.6 126.5 385.6 126.5 386.6 126.6 387.6 126.6 388.6 126.6 389.6 126.6 390.6 126.6 391.6 126.6 392.6 126.5 393.6 126.4 394.6 126.2 395.6 126 396.6 125.7 397.6 125.4 398.6 125 399.6 124.5 400.6 124 401.6 123.5 402.6 122.9 403.6 122.5 404.6 122.1 405.6 121.8 406.6 121.6 407.6 121.6 408.6 121.7 409.6 122 410.6 122.4 411.6 122.9 412.6 123.4 413.6 124 414.6 124.6 415.6 125.2 416.6 125.8 417.6 126.3 418.6 126.8 419.6 127.1 420.6 127.5 421.6 127.7 422.6 127.9 423.6 128.1 424.6 128.2 425.6 128.3 426.6 128.4 427.6 128.5 428.6 128.6 429.6 128.6 430.6 128.7 431.6 128.7 432.6 128.8 433.6 128.8 L433.6 128.8 432.6 128.8 431.6 128.7 430.6 128.7 429.6 128.6 428.6 128.6 427.6 128.5 426.6 128.5 425.6 128.4 424.6 128.4 423.6 128.4 422.6 128.3 421.6 128.3 420.6 128.2 419.6 128.2 418.6 128.1 417.6 128.1 416.6 128 415.6 128 414.6 127.9 413.6 127.9 412.6 127.8 411.6 127.8 410.6 127.7 409.6 127.7 408.6 127.6 407.6 127.6 406.6 127.5 405.6 127.5 404.6 127.4 403.6 127.4 402.6 127.4 401.6 127.3 400.6 127.3 399.6 127.2 398.6 127.2 397.6 127.1 396.6 127.1 395.6 127 394.6 127 393.6 126.9 392.6 126.9 391.6 126.8 390.6 126.8 389.6 126.7 388.6 126.7 387.6 126.6 386.6 126.6 385.6 126.5 384.6 126.5 383.6 126.5 382.6 126.4 381.6 126.4Z" fill="#1ffcff" stroke="#1ffcff" stroke-width="0.5"/></g>
<path d="M252.6 143 v-2.4M284.35 143 v-2.4M316.1 143 v-2.4M347.85 143 v-2.4M379.6 143 v-2.4M411.35 143 v-2.4M443.1 143 v-2.4" stroke="#000" stroke-width="0.9" fill="none"/><path d="M268.48 143 v-1.4M300.23 143 v-1.4M331.98 143 v-1.4M363.73 143 v-1.4M395.48 143 v-1.4M427.23 143 v-1.4" stroke="#000" stroke-width="0.8" fill="none"/><rect x="252.6" y="1.8" width="190.5" height="141.2" fill="none" stroke="#262626" stroke-width="0.95"/><g class="t" font-size="7.8" text-anchor="middle"><text x="252.6" y="152.4">188</text><text x="284.35" y="152.4">186</text><text x="316.1" y="152.4">184</text><text x="347.85" y="152.4">182</text><text x="379.6" y="152.4">180</text><text x="411.35" y="152.4">178</text><text x="443.1" y="152.4">176</text></g><text x="348.05" y="161.2" font-size="8.8" text-anchor="middle" font-family='"Liberation Serif", serif'>Binding Energy(eV)</text><text transform="translate(243.3 69.8) rotate(-90)" font-size="8.8" text-anchor="middle" font-family='"Liberation Serif", serif'>Intensity(a.u)</text><text x="229.6" y="10.4" font-size="13.2">(b)</text><text x="258" y="16.7" font-size="10.2">Zr3d</text>
<line x1="291.8" y1="50.36" x2="298.51" y2="62.12" stroke="#000" stroke-width="0.8"/>
<line x1="357.27" y1="26.86" x2="347.2" y2="38.61" stroke="#000" stroke-width="0.8"/>
<line x1="378.09" y1="110.13" x2="374.06" y2="123.56" stroke="#000" stroke-width="0.8"/>
<line x1="420.06" y1="114.16" x2="414.35" y2="125.91" stroke="#000" stroke-width="0.8"/>
<text x="266.6" y="46.3" font-size="10.9" text-anchor="start"><tspan dy="0">Zr</tspan><tspan dy="-4.14" font-size="9.81">4+</tspan><tspan dy="4.14"> 3d</tspan><tspan dy="2.4" font-size="9.81">3/2</tspan></text>
<text x="355" y="26.2" font-size="10.4" text-anchor="start"><tspan dy="0">Zr</tspan><tspan dy="-4.26" font-size="7.07">4+</tspan><tspan dy="4.26"> 3d</tspan><tspan dy="2.5" font-size="7.07">5/2</tspan></text>
<text x="363.3" y="105.8" font-size="10.4" text-anchor="start"><tspan dy="0">Zr</tspan><tspan dy="-4.26" font-size="7.07">0</tspan><tspan dy="4.26"> 3d</tspan><tspan dy="2.5" font-size="7.07">3/2</tspan></text>
<text x="403.6" y="109.8" font-size="10.4" text-anchor="start"><tspan dy="0">Zr</tspan><tspan dy="-4.26" font-size="7.07">0</tspan><tspan dy="4.26"> 3d</tspan><tspan dy="2.5" font-size="7.07">5/2</tspan></text>
</g>
<g id="pc">
<clipPath id="cc"><rect x="488.5" y="1.8" width="190.1" height="141.3"/></clipPath><g clip-path="url(#cc)"><path d="M488.5 113 489.5 113 490.5 113.1 491.5 113.1 492.5 113.2 493.5 113.2 494.5 113.2 495.5 113.3 496.5 113.3 497.5 113.4 498.5 113.4 499.5 113.4 500.5 113.4 501.5 113.4 502.5 113.4 503.5 113.4 504.5 113.4 505.5 113.4 506.5 113.4 507.5 113.3 508.5 113.2 509.5 113.1 510.5 113 511.5 112.9 512.5 112.7 513.5 112.5 514.5 112.2 515.5 112 516.5 111.6 517.5 111.2 518.5 110.8 519.5 110.3 520.5 109.7 521.5 109.1 522.5 108.3 523.5 107.5 524.5 106.6 525.5 105.6 526.5 104.5 527.5 103.3 528.5 102 529.5 100.6 530.5 99 531.5 97.4 532.5 95.6 533.5 93.7 534.5 91.7 535.5 89.6 536.5 87.4 537.5 85.1 538.5 82.6 539.5 80.1 540.5 77.6 541.5 74.9 542.5 72.2 543.5 69.5 544.5 66.8 545.5 64 546.5 61.3 547.5 58.7 548.5 56 549.5 53.5 550.5 51.1 551.5 48.7 552.5 46.5 553.5 44.5 554.5 42.7 555.5 41 556.5 39.5 557.5 38.3 558.5 37.3 559.5 36.5 560.5 35.9 561.5 35.6 562.5 35.5 563.5 35.6 564.5 36 565.5 36.6 566.5 37.4 567.5 38.3 568.5 39.5 569.5 40.8 570.5 42.2 571.5 43.7 572.5 45.3 573.5 46.9 574.5 48.6 575.5 50.3 576.5 51.9 577.5 53.5 578.5 55 579.5 56.4 580.5 57.7 581.5 58.8 582.5 59.8 583.5 60.5 584.5 61.1 585.5 61.4 586.5 61.5 587.5 61.4 588.5 61 589.5 60.4 590.5 59.6 591.5 58.5 592.5 57.2 593.5 55.7 594.5 54 595.5 52.2 596.5 50.2 597.5 48 598.5 45.8 599.5 43.5 600.5 41.1 601.5 38.7 602.5 36.3 603.5 33.9 604.5 31.6 605.5 29.4 606.5 27.4 607.5 25.4 608.5 23.7 609.5 22.2 610.5 20.8 611.5 19.8 612.5 18.9 613.5 18.4 614.5 18.1 615.5 18.2 616.5 18.5 617.5 19.1 618.5 20 619.5 21.2 620.5 22.7 621.5 24.4 622.5 26.4 623.5 28.7 624.5 31.1 625.5 33.8 626.5 36.6 627.5 39.6 628.5 42.8 629.5 46 630.5 49.4 631.5 52.8 632.5 56.2 633.5 59.7 634.5 63.1 635.5 66.5 636.5 69.9 637.5 73.3 638.5 76.5 639.5 79.7 640.5 82.7 641.5 85.7 642.5 88.5 643.5 91.2 644.5 93.8 645.5 96.2 646.5 98.5 647.5 100.6 648.5 102.6 649.5 104.5 650.5 106.2 651.5 107.8 652.5 109.3 653.5 110.7 654.5 111.9 655.5 113 656.5 114.1 657.5 115 658.5 115.8 659.5 116.6 660.5 117.3 661.5 117.9 662.5 118.4 663.5 118.9 664.5 119.3 665.5 119.7 666.5 120.1 667.5 120.4 668.5 120.6 669.5 120.9 670.5 121.1 671.5 121.3 672.5 121.5 673.5 121.6 674.5 121.8 675.5 121.9 676.5 122 677.5 122.1 678.5 122.2 678.6 122.2" fill="none" stroke="#000" stroke-width="1.3" stroke-linejoin="round"/><path d="M498.5 113.5 499.5 113.6 500.5 113.6 501.5 113.6 502.5 113.6 503.5 113.6 504.5 113.6 505.5 113.5 506.5 113.5 507.5 113.5 508.5 113.4 509.5 113.3 510.5 113.2 511.5 113 512.5 112.9 513.5 112.6 514.5 112.4 515.5 112.1 516.5 111.8 517.5 111.4 518.5 110.9 519.5 110.4 520.5 109.9 521.5 109.2 522.5 108.5 523.5 107.7 524.5 106.8 525.5 105.8 526.5 104.7 527.5 103.5 528.5 102.2 529.5 100.7 530.5 99.2 531.5 97.5 532.5 95.8 533.5 93.9 534.5 91.9 535.5 89.8 536.5 87.5 537.5 85.2 538.5 82.8 539.5 80.3 540.5 77.7 541.5 75.1 542.5 72.4 543.5 69.7 544.5 67 545.5 64.2 546.5 61.5 547.5 58.9 548.5 56.3 549.5 53.8 550.5 51.3 551.5 49 552.5 46.9 553.5 44.9 554.5 43.1 555.5 41.5 556.5 40.1 557.5 38.9 558.5 38 559.5 37.3 560.5 36.9 561.5 36.8 562.5 36.9 563.5 37.2 564.5 37.9 565.5 38.7 566.5 39.8 567.5 41.2 568.5 42.8 569.5 44.6 570.5 46.5 571.5 48.7 572.5 51 573.5 53.4 574.5 56 575.5 58.7 576.5 61.4 577.5 64.2 578.5 67 579.5 69.8 580.5 72.6 581.5 75.4 582.5 78.2 583.5 80.9 584.5 83.6 585.5 86.1 586.5 88.6 587.5 91 588.5 93.3 589.5 95.4 590.5 97.5 591.5 99.4 592.5 101.3 593.5 103 594.5 104.6 595.5 106 596.5 107.4 597.5 108.7 598.5 109.8 599.5 110.9 600.5 111.8 601.5 112.7 602.5 113.5 603.5 114.2 604.5 114.9 605.5 115.4 606.5 116 607.5 116.4 608.5 116.8 609.5 117.2 610.5 117.5 611.5 117.8 612.5 118.1 613.5 118.3 614.5 118.5 615.5 118.7 616.5 118.9 617.5 119 618.5 119.2 619.5 119.3 620.5 119.4 621.5 119.5 622.5 119.6 623.5 119.7 624.5 119.7 625.5 119.8 L625.5 119.9 624.5 119.9 623.5 119.8 622.5 119.8 621.5 119.7 620.5 119.7 619.5 119.6 618.5 119.6 617.5 119.5 616.5 119.5 615.5 119.4 614.5 119.4 613.5 119.3 612.5 119.3 611.5 119.2 610.5 119.2 609.5 119.1 608.5 119.1 607.5 119 606.5 119 605.5 118.9 604.5 118.9 603.5 118.8 602.5 118.8 601.5 118.7 600.5 118.7 599.5 118.6 598.5 118.6 597.5 118.5 596.5 118.5 595.5 118.4 594.5 118.4 593.5 118.3 592.5 118.3 591.5 118.2 590.5 118.2 589.5 118.1 588.5 118.1 587.5 118 586.5 118 585.5 117.9 584.5 117.9 583.5 117.8 582.5 117.8 581.5 117.7 580.5 117.7 579.5 117.6 578.5 117.6 577.5 117.5 576.5 117.5 575.5 117.4 574.5 117.4 573.5 117.3 572.5 117.3 571.5 117.2 570.5 117.2 569.5 117.1 568.5 117.1 567.5 117.1 566.5 117 565.5 117 564.5 116.9 563.5 116.9 562.5 116.8 561.5 116.8 560.5 116.7 559.5 116.7 558.5 116.6 557.5 116.6 556.5 116.5 555.5 116.5 554.5 116.4 553.5 116.4 552.5 116.3 551.5 116.3 550.5 116.2 549.5 116.2 548.5 116.1 547.5 116.1 546.5 116 545.5 116 544.5 115.9 543.5 115.9 542.5 115.8 541.5 115.8 540.5 115.7 539.5 115.7 538.5 115.6 537.5 115.6 536.5 115.5 535.5 115.5 534.5 115.4 533.5 115.4 532.5 115.3 531.5 115.3 530.5 115.2 529.5 115.2 528.5 115.1 527.5 115.1 526.5 115 525.5 115 524.5 114.9 523.5 114.9 522.5 114.8 521.5 114.8 520.5 114.7 519.5 114.7 518.5 114.6 517.5 114.6 516.5 114.5 515.5 114.5 514.5 114.4 513.5 114.4 512.5 114.3 511.5 114.3 510.5 114.2 509.5 114.2 508.5 114.1 507.5 114.1 506.5 114 505.5 114 504.5 113.9 503.5 113.9 502.5 113.8 501.5 113.8 500.5 113.7 499.5 113.7 498.5 113.6Z" fill="#ff0000" stroke="#ff0000" stroke-width="1"/><path d="M549.5 116.1 550.5 116.1 551.5 116.1 552.5 116.1 553.5 116.1 554.5 116.1 555.5 116.1 556.5 116.1 557.5 116 558.5 116 559.5 115.9 560.5 115.8 561.5 115.7 562.5 115.6 563.5 115.4 564.5 115.2 565.5 114.9 566.5 114.7 567.5 114.3 568.5 113.9 569.5 113.5 570.5 113 571.5 112.4 572.5 111.7 573.5 111 574.5 110.2 575.5 109.2 576.5 108.2 577.5 107.1 578.5 105.8 579.5 104.4 580.5 102.9 581.5 101.3 582.5 99.5 583.5 97.6 584.5 95.6 585.5 93.4 586.5 91 587.5 88.6 588.5 86 589.5 83.3 590.5 80.4 591.5 77.5 592.5 74.4 593.5 71.2 594.5 68 595.5 64.7 596.5 61.4 597.5 58.1 598.5 54.7 599.5 51.4 600.5 48.1 601.5 44.8 602.5 41.7 603.5 38.7 604.5 35.8 605.5 33.1 606.5 30.5 607.5 28.2 608.5 26.1 609.5 24.2 610.5 22.6 611.5 21.3 612.5 20.3 613.5 19.5 614.5 19.1 615.5 19 616.5 19.2 617.5 19.7 618.5 20.6 619.5 21.7 620.5 23.1 621.5 24.8 622.5 26.8 623.5 29 624.5 31.4 625.5 34.1 626.5 36.9 627.5 39.9 628.5 43 629.5 46.2 630.5 49.6 631.5 52.9 632.5 56.4 633.5 59.8 634.5 63.3 635.5 66.7 636.5 70.1 637.5 73.4 638.5 76.7 639.5 79.8 640.5 82.9 641.5 85.8 642.5 88.7 643.5 91.4 644.5 93.9 645.5 96.3 646.5 98.6 647.5 100.8 648.5 102.8 649.5 104.6 650.5 106.4 651.5 108 652.5 109.5 653.5 110.8 654.5 112 655.5 113.2 656.5 114.2 657.5 115.1 658.5 116 659.5 116.7 660.5 117.4 661.5 118 662.5 118.6 663.5 119.1 664.5 119.5 665.5 119.9 666.5 120.2 667.5 120.5 668.5 120.8 669.5 121 670.5 121.3 671.5 121.4 672.5 121.6 673.5 121.8 674.5 121.9 675.5 122 676.5 122.1 677.5 122.2 678.5 122.3 678.6 122.3 L678.6 122.5 678.5 122.5 677.5 122.5 676.5 122.4 675.5 122.4 674.5 122.3 673.5 122.3 672.5 122.2 671.5 122.2 670.5 122.1 669.5 122.1 668.5 122 667.5 122 666.5 121.9 665.5 121.9 664.5 121.8 663.5 121.8 662.5 121.7 661.5 121.7 660.5 121.6 659.5 121.6 658.5 121.5 657.5 121.5 656.5 121.4 655.5 121.4 654.5 121.3 653.5 121.3 652.5 121.2 651.5 121.2 650.5 121.1 649.5 121.1 648.5 121.1 647.5 121 646.5 121 645.5 120.9 644.5 120.9 643.5 120.8 642.5 120.8 641.5 120.7 640.5 120.7 639.5 120.6 638.5 120.6 637.5 120.5 636.5 120.5 635.5 120.4 634.5 120.4 633.5 120.3 632.5 120.3 631.5 120.2 630.5 120.2 629.5 120.1 628.5 120.1 627.5 120 626.5 120 625.5 119.9 624.5 119.9 623.5 119.8 622.5 119.8 621.5 119.7 620.5 119.7 619.5 119.6 618.5 119.6 617.5 119.5 616.5 119.5 615.5 119.4 614.5 119.4 613.5 119.3 612.5 119.3 611.5 119.2 610.5 119.2 609.5 119.1 608.5 119.1 607.5 119 606.5 119 605.5 118.9 604.5 118.9 603.5 118.8 602.5 118.8 601.5 118.7 600.5 118.7 599.5 118.6 598.5 118.6 597.5 118.5 596.5 118.5 595.5 118.4 594.5 118.4 593.5 118.3 592.5 118.3 591.5 118.2 590.5 118.2 589.5 118.1 588.5 118.1 587.5 118 586.5 118 585.5 117.9 584.5 117.9 583.5 117.8 582.5 117.8 581.5 117.7 580.5 117.7 579.5 117.6 578.5 117.6 577.5 117.5 576.5 117.5 575.5 117.4 574.5 117.4 573.5 117.3 572.5 117.3 571.5 117.2 570.5 117.2 569.5 117.1 568.5 117.1 567.5 117.1 566.5 117 565.5 117 564.5 116.9 563.5 116.9 562.5 116.8 561.5 116.8 560.5 116.7 559.5 116.7 558.5 116.6 557.5 116.6 556.5 116.5 555.5 116.5 554.5 116.4 553.5 116.4 552.5 116.3 551.5 116.3 550.5 116.2 549.5 116.2Z" fill="#ff0000" stroke="#ff0000" stroke-width="1"/><path d="M488.5 113.2 489.5 113.2 490.5 113.2 491.5 113.3 492.5 113.3 493.5 113.4 494.5 113.4 495.5 113.5 496.5 113.5 497.5 113.6 498.5 113.6 499.5 113.7 500.5 113.7 501.5 113.8 502.5 113.8 503.5 113.9 504.5 113.9 505.5 114 506.5 114 507.5 114.1 508.5 114.1 509.5 114.2 510.5 114.2 511.5 114.3 512.5 114.3 513.5 114.4 514.5 114.4 515.5 114.5 516.5 114.5 517.5 114.6 518.5 114.6 519.5 114.7 520.5 114.7 521.5 114.8 522.5 114.8 523.5 114.9 524.5 114.9 525.5 115 526.5 115 527.5 115.1 528.5 115.1 529.5 115.2 530.5 115.2 531.5 115.3 532.5 115.3 533.5 115.4 534.5 115.4 535.5 115.5 536.5 115.5 537.5 115.6 538.5 115.6 539.5 115.7 540.5 115.7 541.5 115.8 542.5 115.8 543.5 115.9 544.5 115.9 545.5 116 546.5 116 547.5 116.1 548.5 116.1 549.5 116.2 550.5 116.2 551.5 116.3 552.5 116.3 553.5 116.4 554.5 116.4 555.5 116.5 556.5 116.5 557.5 116.6 558.5 116.6 559.5 116.7 560.5 116.7 561.5 116.8 562.5 116.8 563.5 116.9 564.5 116.9 565.5 117 566.5 117 567.5 117.1 568.5 117.1 569.5 117.1 570.5 117.2 571.5 117.2 572.5 117.3 573.5 117.3 574.5 117.4 575.5 117.4 576.5 117.5 577.5 117.5 578.5 117.6 579.5 117.6 580.5 117.7 581.5 117.7 582.5 117.8 583.5 117.8 584.5 117.9 585.5 117.9 586.5 118 587.5 118 588.5 118.1 589.5 118.1 590.5 118.2 591.5 118.2 592.5 118.3 593.5 118.3 594.5 118.4 595.5 118.4 596.5 118.5 597.5 118.5 598.5 118.6 599.5 118.6 600.5 118.7 601.5 118.7 602.5 118.8 603.5 118.8 604.5 118.9 605.5 118.9 606.5 119 607.5 119 608.5 119.1 609.5 119.1 610.5 119.2 611.5 119.2 612.5 119.3 613.5 119.3 614.5 119.4 615.5 119.4 616.5 119.5 617.5 119.5 618.5 119.6 619.5 119.6 620.5 119.7 621.5 119.7 622.5 119.8 623.5 119.8 624.5 119.9 625.5 119.9 626.5 120 627.5 120 628.5 120.1 629.5 120.1 630.5 120.2 631.5 120.2 632.5 120.3 633.5 120.3 634.5 120.4 635.5 120.4 636.5 120.5 637.5 120.5 638.5 120.6 639.5 120.6 640.5 120.7 641.5 120.7 642.5 120.8 643.5 120.8 644.5 120.9 645.5 120.9 646.5 121 647.5 121 648.5 121.1 649.5 121.1 650.5 121.1 651.5 121.2 652.5 121.2 653.5 121.3 654.5 121.3 655.5 121.4 656.5 121.4 657.5 121.5 658.5 121.5 659.5 121.6 660.5 121.6 661.5 121.7 662.5 121.7 663.5 121.8 664.5 121.8 665.5 121.9 666.5 121.9 667.5 122 668.5 122 669.5 122.1 670.5 122.1 671.5 122.2 672.5 122.2 673.5 122.3 674.5 122.3 675.5 122.4 676.5 122.4 677.5 122.5 678.5 122.5 678.6 122.5" fill="none" stroke="#ff0000" stroke-width="0.8"/></g>
<path d="M488.5 143.1 v-2.4M520.18 143.1 v-2.4M551.87 143.1 v-2.4M583.55 143.1 v-2.4M615.23 143.1 v-2.4M646.92 143.1 v-2.4M678.6 143.1 v-2.4" stroke="#000" stroke-width="0.9" fill="none"/><path d="M504.34 143.1 v-1.4M536.02 143.1 v-1.4M567.71 143.1 v-1.4M599.39 143.1 v-1.4M631.08 143.1 v-1.4M662.76 143.1 v-1.4" stroke="#000" stroke-width="0.8" fill="none"/><rect x="488.5" y="1.8" width="190.1" height="141.3" fill="none" stroke="#262626" stroke-width="0.95"/><g class="t" font-size="7.8" text-anchor="middle"><text x="488.5" y="152.5">21</text><text x="520.18" y="152.5">20</text><text x="551.87" y="152.5">19</text><text x="583.55" y="152.5">18</text><text x="615.23" y="152.5">17</text><text x="646.92" y="152.5">16</text><text x="678.6" y="152.5">15</text></g><text x="584.05" y="160.5" font-size="8.05" text-anchor="middle" font-family='"Liberation Serif", serif'>Binding Energy(eV)</text><text transform="translate(480.2 67.2) rotate(-90)" font-size="8.8" text-anchor="middle" font-family='"Liberation Serif", serif'>Intensity(a.u)</text><text x="466.8" y="10.4" font-size="13.2">(c)</text><text x="493.4" y="15.2" font-size="10">Hf4f</text>
<line x1="527.19" y1="35.26" x2="550.69" y2="50.36" stroke="#000" stroke-width="0.8"/><path d="M550.69 50.36 L547.63 49.58 L548.71 47.9 Z" fill="#000"/>
<line x1="641.35" y1="30.22" x2="627.92" y2="38.61" stroke="#000" stroke-width="0.8"/><path d="M627.92 38.61 L629.93 36.18 L630.99 37.87 Z" fill="#000"/>
<text x="505.4" y="30.9" font-size="10.4" text-anchor="start"><tspan dy="0">Hf</tspan><tspan dy="-4.26" font-size="7.07">4+</tspan><tspan dy="4.26"> 4f</tspan><tspan dy="2.5" font-size="7.07">5/2</tspan></text>
<text x="630.3" y="28.5" font-size="10.4" text-anchor="start"><tspan dy="0">Hf</tspan><tspan dy="-4.26" font-size="7.07">4+</tspan><tspan dy="4.26"> 4f</tspan><tspan dy="2.5" font-size="7.07">7/2</tspan></text>
</g>
<g id="pd">
<clipPath id="cd"><rect x="24.2" y="180.2" width="190.3" height="140.8"/></clipPath><g clip-path="url(#cd)"><path d="M24.2 268.5 25.1 277.3 25.9 282.4 26.8 274.2 27.7 268.1 28.5 274.8 29.4 279.2 30.3 283.4 31.1 270.4 32 267.9 32.9 279.6 33.7 280.1 34.6 286.2 35.4 284 36.3 277.1 37.2 275.2 38 291.7 38.9 277.6 39.8 272.2 40.6 269.7 41.5 276.6 42.4 278 43.2 275.3 44.1 276.5 45 278.7 45.8 281.5 46.7 284.3 47.6 279.5 48.4 267.1 49.3 279.7 50.2 269.7 51 275 51.9 268.6 52.7 275.9 53.6 272.8 54.5 277.8 55.3 296.5 56.2 279.9 57.1 282 57.9 270.2 58.8 274.2 59.7 280.5 60.5 276.9 61.4 278.8 62.3 277.6 63.1 270.8 64 278.6 64.9 271.9 65.7 285.9 66.6 274.4 67.5 278.7 68.3 275.5 69.2 279.8 70 271.3 70.9 278.4 71.8 272.7 72.6 278.8 73.5 275.5 74.4 271.2 75.2 264.4 76.1 271 77 269.3 77.8 274.1 78.7 262.1 79.6 263.7 80.4 262.3 81.3 259 82.2 256.2 83 253.7 83.9 247.1 84.8 241.8 85.6 242.4 86.5 245.9 87.3 249.3 88.2 244.9 89.1 242.7 89.9 239.3 90.8 236.9 91.7 232.7 92.5 234 93.4 238.6 94.3 228.2 95.1 220.2 96 237.4 96.9 231.2 97.7 233.8 98.6 234.3 99.5 225.1 100.3 241.1 101.2 241.2 102.1 234 102.9 236.7 103.8 236 104.6 233.3 105.5 239.2 106.4 245.6 107.2 253.3 108.1 256 109 256.8 109.8 265.7 110.7 260.5 111.6 268.7 112.4 273.6 113.3 269.7 114.2 264 115 268.4 115.9 275.3 116.8 278.6 117.6 284.3 118.5 274.8 119.4 278.2 120.2 282.4 121.1 279.9 121.9 270.3 122.8 283 123.7 292.1 124.5 287.7 125.4 278.7 126.3 279.8 127.1 283.1 128 293.6 128.9 287.1 129.7 283.8 130.6 289.8 131.5 283.8 132.3 291.3 133.2 281.6 134.1 280.9 134.9 286.4 135.8 290.5 136.7 287.8 137.5 285.9 138.4 276.5 139.2 280.1 140.1 281.5 141 282.2 141.8 287.4 142.7 284.3 143.6 288.9 144.4 286.8 145.3 284.7 146.2 286.7 147 288.7 147.9 291 148.8 285.6 149.6 286 150.5 281.4 151.4 294.1 152.2 295.7 153.1 288.5 154 286.2 154.8 282.8 155.7 288.7 156.5 290.1 157.4 299.1 158.3 292 159.1 286.2 160 278 160.9 294.3 161.7 291.7 162.6 282.8 163.5 289.7 164.3 282.9 165.2 304.8 166.1 297.8 166.9 293.6 167.8 289.9 168.7 280.4 169.5 288.2 170.4 283.1 171.2 291.8 172.1 280.8 173 284.4 173.8 294.9 174.7 298.3 175.6 285.6 176.4 281.8 177.3 292.5 178.2 294 179 285.4 179.9 285.3 180.8 285.4 181.6 282.9 182.5 284.8 183.4 293.9 184.2 292.6 185.1 298.4 186 289.4 186.8 287.5 187.7 283.5 188.6 286.9 189.4 282 190.3 279 191.1 290.2 192 295.6 192.9 293.4 193.7 295.5 194.6 291 195.5 285.9 196.3 289.2 197.2 287.9 198.1 284.4 198.9 281.4 199.8 282.3 200.7 289.7 201.5 291.8 202.4 289.3 203.3 298.1 204.1 293.9 205 295.1 205.9 298.7 206.7 289.8 207.6 283 208.4 295.2 209.3 290.5 210.2 299 211 296 211.9 298.5 212.8 297.8 213.6 284.2 214.5 295.3" fill="none" stroke="#000" stroke-width="1.08" stroke-linejoin="miter" stroke-miterlimit="3"/></g>
<path d="M24.2 321 v-2.4M58.8 321 v-2.4M93.4 321 v-2.4M128 321 v-2.4M162.6 321 v-2.4M197.2 321 v-2.4" stroke="#000" stroke-width="0.9" fill="none"/><path d="M41.5 321 v-1.4M76.1 321 v-1.4M110.7 321 v-1.4M145.3 321 v-1.4M179.9 321 v-1.4" stroke="#000" stroke-width="0.8" fill="none"/><rect x="24.2" y="180.2" width="190.3" height="140.8" fill="none" stroke="#262626" stroke-width="0.95"/><g class="t" font-size="7.8" text-anchor="middle"><text x="24.2" y="330.4">118</text><text x="58.8" y="330.4">116</text><text x="93.4" y="330.4">114</text><text x="128" y="330.4">112</text><text x="162.6" y="330.4">110</text><text x="197.2" y="330.4">108</text></g><text x="118.75" y="338.6" font-size="8.8" text-anchor="middle" font-family='"Liberation Serif", serif'>Binding Energy(eV)</text><text transform="translate(16.1 243.9) rotate(-90)" font-size="8.8" text-anchor="middle" font-family='"Liberation Serif", serif'>Intensity(a.u)</text><text x="1.6" y="186.8" font-size="13.2">(d)</text><text x="30.2" y="195.1" font-size="11.1">Be1s</text>
<text x="80" y="216.3" font-size="11.4" text-anchor="start"><tspan dy="0">Be</tspan><tspan dy="-4.33" font-size="10.26">2+</tspan><tspan dy="4.33"> 1s</tspan></text>
</g>
<g id="pe">
<clipPath id="ce"><rect x="252.6" y="179.9" width="190.8" height="141.2"/></clipPath><g clip-path="url(#ce)"><path d="M252.6 292.2 253.6 292.2 254.6 292.2 255.6 292.1 256.6 292.1 257.6 292 258.6 292 259.6 291.9 260.6 291.8 261.6 291.8 262.6 291.7 263.6 291.6 264.6 291.5 265.6 291.4 266.6 291.3 267.6 291.2 268.6 291.1 269.6 290.9 270.6 290.8 271.6 290.6 272.6 290.4 273.6 290.2 274.6 289.9 275.6 289.6 276.6 289.3 277.6 288.9 278.6 288.5 279.6 288 280.6 287.5 281.6 286.8 282.6 286.1 283.6 285.2 284.6 284.3 285.6 283.1 286.6 281.9 287.6 280.5 288.6 278.9 289.6 277.2 290.6 275.4 291.6 273.4 292.6 271.3 293.6 269.2 294.6 267.1 295.6 265.2 296.6 263.6 297.6 262.4 298.6 261.8 299.6 261.8 300.6 262.3 301.6 263.5 302.6 265.1 303.6 267 304.6 269.1 305.6 271.2 306.6 273.3 307.6 275.4 308.6 277.3 309.6 279.1 310.6 280.7 311.6 282.2 312.6 283.5 313.6 284.7 314.6 285.7 315.6 286.6 316.6 287.4 317.6 288.1 318.6 288.8 319.6 289.3 320.6 289.8 321.6 290.2 322.6 290.6 323.6 290.9 324.6 291.2 325.6 291.5 326.6 291.7 327.6 292 328.6 292.2 329.6 292.4 330.6 292.6 331.6 292.8 332.6 293 333.6 293.2 334.6 293.4 335.6 293.6 336.6 293.8 337.6 293.9 338.6 294.1 339.6 294.3 340.6 294.4 341.6 294.6 342.6 294.8 343.6 294.9 344.6 295.1 345.6 295.3 346.6 295.5 347.6 295.6 348.6 295.8 349.6 296 350.6 296.2 351.6 296.4 352.6 296.6 353.6 296.8 354.6 297 355.6 297.2 356.6 297.5 357.6 297.7 358.6 297.9 359.6 298.1 360.6 298.4 361.6 298.6 362.6 298.8 363.6 299.1 364.6 299.3 365.6 299.5 366.6 299.8 367.6 300 368.6 300.3 369.6 300.5 370.6 300.7 371.6 301 372.6 301.2 373.6 301.4 374.6 301.7 375.6 301.9 376.6 302 377.6 302.2 378.6 302.4 379.6 302.5 380.6 302.6 381.6 302.7 382.6 302.8 383.6 302.9 384.6 303 385.6 303.1 386.6 303.1 387.6 303.2 388.6 303.3 389.6 303.3 390.6 303.4 391.6 303.5 392.6 303.5 393.6 303.6 394.6 303.6 395.6 303.7 396.6 303.7 397.6 303.8 398.6 303.8 399.6 303.9 400.6 303.9 401.6 304 402.6 304 403.6 304 404.6 304.1 405.6 304.1 406.6 304.1 407.6 304.1 408.6 304.2 409.6 304.2 410.6 304.2 411.6 304.3 412.6 304.3 413.6 304.3 414.6 304.3 415.6 304.4 416.6 304.4 417.6 304.4 418.6 304.5 419.6 304.5 420.6 304.5 421.6 304.5 422.6 304.6 423.6 304.6 424.6 304.6 425.6 304.7 426.6 304.7 427.6 304.7 428.6 304.7 429.6 304.8 430.6 304.8 431.6 304.8 432.6 304.8 433.6 304.9 434.6 304.9 435.6 304.9 436.6 305 437.6 305 438.6 305 439.6 305 440.6 305.1 441.6 305.1 442.6 305.1 L442.6 305.2 441.6 305.2 440.6 305.2 439.6 305.2 438.6 305.1 437.6 305.1 436.6 305.1 435.6 305.1 434.6 305 433.6 305 432.6 305 431.6 305 430.6 304.9 429.6 304.9 428.6 304.9 427.6 304.9 426.6 304.8 425.6 304.8 424.6 304.8 423.6 304.8 422.6 304.7 421.6 304.7 420.6 304.7 419.6 304.7 418.6 304.6 417.6 304.6 416.6 304.6 415.6 304.6 414.6 304.5 413.6 304.5 412.6 304.5 411.6 304.5 410.6 304.4 409.6 304.4 408.6 304.4 407.6 304.4 406.6 304.3 405.6 304.3 404.6 304.3 403.6 304.2 402.6 304.2 401.6 304.2 400.6 304.2 399.6 304.1 398.6 304.1 397.6 304 396.6 304 395.6 303.9 394.6 303.9 393.6 303.8 392.6 303.8 391.6 303.7 390.6 303.7 389.6 303.6 388.6 303.6 387.6 303.5 386.6 303.5 385.6 303.4 384.6 303.3 383.6 303.3 382.6 303.2 381.6 303.1 380.6 303 379.6 302.9 378.6 302.8 377.6 302.6 376.6 302.5 375.6 302.3 374.6 302.1 373.6 301.9 372.6 301.7 371.6 301.4 370.6 301.2 369.6 301 368.6 300.8 367.6 300.5 366.6 300.3 365.6 300.1 364.6 299.9 363.6 299.6 362.6 299.4 361.6 299.2 360.6 299 359.6 298.8 358.6 298.6 357.6 298.4 356.6 298.2 355.6 298 354.6 297.8 353.6 297.6 352.6 297.5 351.6 297.3 350.6 297.1 349.6 297 348.6 296.8 347.6 296.7 346.6 296.5 345.6 296.4 344.6 296.3 343.6 296.1 342.6 296 341.6 295.9 340.6 295.8 339.6 295.7 338.6 295.6 337.6 295.5 336.6 295.4 335.6 295.3 334.6 295.2 333.6 295.1 332.6 295 331.6 295 330.6 294.9 329.6 294.8 328.6 294.8 327.6 294.7 326.6 294.7 325.6 294.6 324.6 294.6 323.6 294.6 322.6 294.5 321.6 294.5 320.6 294.5 319.6 294.4 318.6 294.4 317.6 294.4 316.6 294.4 315.6 294.3 314.6 294.3 313.6 294.3 312.6 294.3 311.6 294.2 310.6 294.2 309.6 294.2 308.6 294.1 307.6 294.1 306.6 294.1 305.6 294.1 304.6 294 303.6 294 302.6 294 301.6 294 300.6 293.9 299.6 293.9 298.6 293.9 297.6 293.9 296.6 293.8 295.6 293.8 294.6 293.8 293.6 293.8 292.6 293.7 291.6 293.7 290.6 293.7 289.6 293.7 288.6 293.7 287.6 293.7 286.6 293.7 285.6 293.6 284.6 293.6 283.6 293.6 282.6 293.6 281.6 293.6 280.6 293.6 279.6 293.6 278.6 293.6 277.6 293.6 276.6 293.6 275.6 293.5 274.6 293.5 273.6 293.5 272.6 293.5 271.6 293.5 270.6 293.5 269.6 293.5 268.6 293.5 267.6 293.5 266.6 293.5 265.6 293.4 264.6 293.4 263.6 293.4 262.6 293.4 261.6 293.4 260.6 293.4 259.6 293.4 258.6 293.4 257.6 293.4 256.6 293.4 255.6 293.3 254.6 293.3 253.6 293.3 252.6 293.3Z" fill="#ff0000" stroke="#ff0000" stroke-width="0.3"/><path d="M252.6 293 253.6 293 254.6 293 255.6 293 256.6 293 257.6 293 258.6 293 259.6 293 260.6 293 261.6 293 262.6 293 263.6 293 264.6 293 265.6 293 266.6 293 267.6 293 268.6 293 269.6 293 270.6 293 271.6 293 272.6 293 273.6 293 274.6 293 275.6 293 276.6 293 277.6 293 278.6 293 279.6 293 280.6 293 281.6 293 282.6 293 283.6 293 284.6 293 285.6 293 286.6 293 287.6 293 288.6 292.9 289.6 292.9 290.6 292.9 291.6 292.9 292.6 292.9 293.6 292.9 294.6 292.9 295.6 292.9 296.6 292.9 297.6 292.9 298.6 292.9 299.6 292.9 300.6 292.9 301.6 292.9 302.6 292.9 303.6 292.9 304.6 292.9 305.6 292.9 306.6 292.9 307.6 292.9 308.6 292.9 309.6 292.9 310.6 292.9 311.6 292.8 312.6 292.8 313.6 292.8 314.6 292.8 315.6 292.8 316.6 292.7 317.6 292.7 318.6 292.7 319.6 292.6 320.6 292.6 321.6 292.5 322.6 292.5 323.6 292.4 324.6 292.4 325.6 292.3 326.6 292.3 327.6 292.2 328.6 292.2 329.6 292.1 330.6 292 331.6 292 332.6 291.9 333.6 291.8 334.6 291.8 335.6 291.7 336.6 291.6 337.6 291.5 338.6 291.3 339.6 291.2 340.6 291 341.6 290.8 342.6 290.6 343.6 290.4 344.6 290.1 345.6 289.8 346.6 289.5 347.6 289.1 348.6 288.7 349.6 288.2 350.6 287.6 351.6 286.9 352.6 286.1 353.6 285.2 354.6 284.1 355.6 282.7 356.6 281.1 357.6 279.1 358.6 276.7 359.6 273.8 360.6 270.2 361.6 266 362.6 260.9 363.6 254.9 364.6 247.9 365.6 239.8 366.6 230.8 367.6 221 368.6 210.7 369.6 200.6 370.6 191.6 371.6 184.9 372.6 181.5 373.6 182.1 374.6 186.7 375.6 194.3 376.6 204 377.6 214.6 378.6 225.3 379.6 235.3 380.6 244.5 381.6 252.6 382.6 259.7 383.6 265.9 384.6 271.1 385.6 275.4 386.6 279.1 387.6 282.2 388.6 284.8 389.6 286.9 390.6 288.7 391.6 290.3 392.6 291.6 393.6 292.7 394.6 293.7 395.6 294.6 396.6 295.3 397.6 296 398.6 296.6 399.6 297.2 400.6 297.7 401.6 298.1 402.6 298.5 403.6 298.9 404.6 299.3 405.6 299.6 406.6 299.9 407.6 300.1 408.6 300.4 409.6 300.6 410.6 300.8 411.6 301 412.6 301.2 413.6 301.4 414.6 301.6 415.6 301.7 416.6 301.9 417.6 302 418.6 302.2 419.6 302.3 420.6 302.4 421.6 302.5 422.6 302.6 423.6 302.7 424.6 302.8 425.6 302.9 426.6 303 427.6 303.1 428.6 303.2 429.6 303.3 430.6 303.4 431.6 303.4 432.6 303.5 433.6 303.6 434.6 303.7 435.6 303.7 436.6 303.8 437.6 303.9 438.6 303.9 439.6 304 440.6 304 441.6 304.1 442.6 304.1 443.4 304.2 L443.4 305.2 442.6 305.2 441.6 305.2 440.6 305.2 439.6 305.2 438.6 305.1 437.6 305.1 436.6 305.1 435.6 305.1 434.6 305 433.6 305 432.6 305 431.6 305 430.6 304.9 429.6 304.9 428.6 304.9 427.6 304.9 426.6 304.8 425.6 304.8 424.6 304.8 423.6 304.8 422.6 304.7 421.6 304.7 420.6 304.7 419.6 304.7 418.6 304.6 417.6 304.6 416.6 304.6 415.6 304.6 414.6 304.5 413.6 304.5 412.6 304.5 411.6 304.5 410.6 304.4 409.6 304.4 408.6 304.4 407.6 304.4 406.6 304.3 405.6 304.3 404.6 304.3 403.6 304.2 402.6 304.2 401.6 304.2 400.6 304.2 399.6 304.1 398.6 304.1 397.6 304 396.6 304 395.6 303.9 394.6 303.9 393.6 303.8 392.6 303.8 391.6 303.7 390.6 303.7 389.6 303.6 388.6 303.6 387.6 303.5 386.6 303.5 385.6 303.4 384.6 303.3 383.6 303.3 382.6 303.2 381.6 303.1 380.6 303 379.6 302.9 378.6 302.8 377.6 302.6 376.6 302.5 375.6 302.3 374.6 302.1 373.6 301.9 372.6 301.7 371.6 301.4 370.6 301.2 369.6 301 368.6 300.8 367.6 300.5 366.6 300.3 365.6 300.1 364.6 299.9 363.6 299.6 362.6 299.4 361.6 299.2 360.6 299 359.6 298.8 358.6 298.6 357.6 298.4 356.6 298.2 355.6 298 354.6 297.8 353.6 297.6 352.6 297.5 351.6 297.3 350.6 297.1 349.6 297 348.6 296.8 347.6 296.7 346.6 296.5 345.6 296.4 344.6 296.3 343.6 296.1 342.6 296 341.6 295.9 340.6 295.8 339.6 295.7 338.6 295.6 337.6 295.5 336.6 295.4 335.6 295.3 334.6 295.2 333.6 295.1 332.6 295 331.6 295 330.6 294.9 329.6 294.8 328.6 294.8 327.6 294.7 326.6 294.7 325.6 294.6 324.6 294.6 323.6 294.6 322.6 294.5 321.6 294.5 320.6 294.5 319.6 294.4 318.6 294.4 317.6 294.4 316.6 294.4 315.6 294.3 314.6 294.3 313.6 294.3 312.6 294.3 311.6 294.2 310.6 294.2 309.6 294.2 308.6 294.1 307.6 294.1 306.6 294.1 305.6 294.1 304.6 294 303.6 294 302.6 294 301.6 294 300.6 293.9 299.6 293.9 298.6 293.9 297.6 293.9 296.6 293.8 295.6 293.8 294.6 293.8 293.6 293.8 292.6 293.7 291.6 293.7 290.6 293.7 289.6 293.7 288.6 293.7 287.6 293.7 286.6 293.7 285.6 293.6 284.6 293.6 283.6 293.6 282.6 293.6 281.6 293.6 280.6 293.6 279.6 293.6 278.6 293.6 277.6 293.6 276.6 293.6 275.6 293.5 274.6 293.5 273.6 293.5 272.6 293.5 271.6 293.5 270.6 293.5 269.6 293.5 268.6 293.5 267.6 293.5 266.6 293.5 265.6 293.4 264.6 293.4 263.6 293.4 262.6 293.4 261.6 293.4 260.6 293.4 259.6 293.4 258.6 293.4 257.6 293.4 256.6 293.4 255.6 293.3 254.6 293.3 253.6 293.3 252.6 293.3Z" fill="#ff0000" stroke="#ff0000" stroke-width="0.3"/><path d="M326.6 294.6 327.6 294.6 328.6 294.6 329.6 294.7 330.6 294.7 331.6 294.7 332.6 294.7 333.6 294.8 334.6 294.8 335.6 294.8 336.6 294.7 337.6 294.7 338.6 294.6 339.6 294.5 340.6 294.3 341.6 294.1 342.6 293.9 343.6 293.7 344.6 293.4 345.6 293.1 346.6 292.8 347.6 292.4 348.6 292.1 349.6 291.7 350.6 291.4 351.6 291.1 352.6 290.9 353.6 290.7 354.6 290.6 355.6 290.5 356.6 290.6 357.6 290.7 358.6 290.9 359.6 291.2 360.6 291.6 361.6 292.1 362.6 292.7 363.6 293.3 364.6 294 365.6 294.7 366.6 295.4 367.6 296.1 368.6 296.8 369.6 297.5 370.6 298.2 371.6 298.8 372.6 299.4 373.6 300 374.6 300.5 375.6 300.9 376.6 301.3 377.6 301.7 378.6 302 379.6 302.3 380.6 302.5 381.6 302.7 382.6 302.9 383.6 303 384.6 303.1 385.6 303.2 386.6 303.3 387.6 303.4 388.6 303.5 L388.6 303.6 387.6 303.5 386.6 303.5 385.6 303.4 384.6 303.3 383.6 303.3 382.6 303.2 381.6 303.1 380.6 303 379.6 302.9 378.6 302.8 377.6 302.6 376.6 302.5 375.6 302.3 374.6 302.1 373.6 301.9 372.6 301.7 371.6 301.4 370.6 301.2 369.6 301 368.6 300.8 367.6 300.5 366.6 300.3 365.6 300.1 364.6 299.9 363.6 299.6 362.6 299.4 361.6 299.2 360.6 299 359.6 298.8 358.6 298.6 357.6 298.4 356.6 298.2 355.6 298 354.6 297.8 353.6 297.6 352.6 297.5 351.6 297.3 350.6 297.1 349.6 297 348.6 296.8 347.6 296.7 346.6 296.5 345.6 296.4 344.6 296.3 343.6 296.1 342.6 296 341.6 295.9 340.6 295.8 339.6 295.7 338.6 295.6 337.6 295.5 336.6 295.4 335.6 295.3 334.6 295.2 333.6 295.1 332.6 295 331.6 295 330.6 294.9 329.6 294.8 328.6 294.8 327.6 294.7 326.6 294.7Z" fill="#1ffcff" stroke="#1ffcff" stroke-width="0.3"/><path d="M418.6 304.5 419.6 304.5 420.6 304.5 421.6 304.5 422.6 304.5 423.6 304.5 424.6 304.4 425.6 304.3 426.6 304.1 427.6 303.8 428.6 303.4 429.6 302.8 430.6 302.1 431.6 301.4 432.6 300.6 433.6 300.1 434.6 299.8 435.6 300 436.6 300.5 437.6 301.2 438.6 302 439.6 302.8 440.6 303.4 441.6 304 442.6 304.4 443.4 304.6 L443.4 305.2 442.6 305.2 441.6 305.2 440.6 305.2 439.6 305.2 438.6 305.1 437.6 305.1 436.6 305.1 435.6 305.1 434.6 305 433.6 305 432.6 305 431.6 305 430.6 304.9 429.6 304.9 428.6 304.9 427.6 304.9 426.6 304.8 425.6 304.8 424.6 304.8 423.6 304.8 422.6 304.7 421.6 304.7 420.6 304.7 419.6 304.7 418.6 304.6Z" fill="#1ffcff" stroke="#1ffcff" stroke-width="0.3"/><path d="M252.6 293.3 253.6 293.3 254.6 293.3 255.6 293.3 256.6 293.4 257.6 293.4 258.6 293.4 259.6 293.4 260.6 293.4 261.6 293.4 262.6 293.4 263.6 293.4 264.6 293.4 265.6 293.4 266.6 293.5 267.6 293.5 268.6 293.5 269.6 293.5 270.6 293.5 271.6 293.5 272.6 293.5 273.6 293.5 274.6 293.5 275.6 293.5 276.6 293.6 277.6 293.6 278.6 293.6 279.6 293.6 280.6 293.6 281.6 293.6 282.6 293.6 283.6 293.6 284.6 293.6 285.6 293.6 286.6 293.7 287.6 293.7 288.6 293.7 289.6 293.7 290.6 293.7 291.6 293.7 292.6 293.7 293.6 293.8 294.6 293.8 295.6 293.8 296.6 293.8 297.6 293.9 298.6 293.9 299.6 293.9 300.6 293.9 301.6 294 302.6 294 303.6 294 304.6 294 305.6 294.1 306.6 294.1 307.6 294.1 308.6 294.1 309.6 294.2 310.6 294.2 311.6 294.2 312.6 294.3 313.6 294.3 314.6 294.3 315.6 294.3 316.6 294.4 317.6 294.4 318.6 294.4 319.6 294.4 320.6 294.5 321.6 294.5 322.6 294.5 323.6 294.6 324.6 294.6 325.6 294.6 326.6 294.7 327.6 294.7 328.6 294.8 329.6 294.8 330.6 294.9 331.6 295 332.6 295 333.6 295.1 334.6 295.2 335.6 295.3 336.6 295.4 337.6 295.5 338.6 295.6 339.6 295.7 340.6 295.8 341.6 295.9 342.6 296 343.6 296.1 344.6 296.3 345.6 296.4 346.6 296.5 347.6 296.7 348.6 296.8 349.6 297 350.6 297.1 351.6 297.3 352.6 297.5 353.6 297.6 354.6 297.8 355.6 298 356.6 298.2 357.6 298.4 358.6 298.6 359.6 298.8 360.6 299 361.6 299.2 362.6 299.4 363.6 299.6 364.6 299.9 365.6 300.1 366.6 300.3 367.6 300.5 368.6 300.8 369.6 301 370.6 301.2 371.6 301.4 372.6 301.7 373.6 301.9 374.6 302.1 375.6 302.3 376.6 302.5 377.6 302.6 378.6 302.8 379.6 302.9 380.6 303 381.6 303.1 382.6 303.2 383.6 303.3 384.6 303.3 385.6 303.4 386.6 303.5 387.6 303.5 388.6 303.6 389.6 303.6 390.6 303.7 391.6 303.7 392.6 303.8 393.6 303.8 394.6 303.9 395.6 303.9 396.6 304 397.6 304 398.6 304.1 399.6 304.1 400.6 304.2 401.6 304.2 402.6 304.2 403.6 304.2 404.6 304.3 405.6 304.3 406.6 304.3 407.6 304.4 408.6 304.4 409.6 304.4 410.6 304.4 411.6 304.5 412.6 304.5 413.6 304.5 414.6 304.5 415.6 304.6 416.6 304.6 417.6 304.6 418.6 304.6 419.6 304.7 420.6 304.7 421.6 304.7 422.6 304.7 423.6 304.8 424.6 304.8 425.6 304.8 426.6 304.8 427.6 304.9 428.6 304.9 429.6 304.9 430.6 304.9 431.6 305 432.6 305 433.6 305 434.6 305 435.6 305.1 436.6 305.1 437.6 305.1 438.6 305.1 439.6 305.2 440.6 305.2 441.6 305.2 442.6 305.2 443.4 305.2" fill="none" stroke="#1ffcff" stroke-width="0.8"/><path d="M252.6 291.6 253.6 291.6 254.6 291.5 255.6 291.5 256.6 291.4 257.6 291.4 258.6 291.3 259.6 291.2 260.6 291.2 261.6 291.1 262.6 291 263.6 290.9 264.6 290.8 265.6 290.7 266.6 290.6 267.6 290.5 268.6 290.3 269.6 290.2 270.6 290 271.6 289.8 272.6 289.6 273.6 289.4 274.6 289.1 275.6 288.8 276.6 288.5 277.6 288.1 278.6 287.7 279.6 287.2 280.6 286.6 281.6 285.9 282.6 285.2 283.6 284.3 284.6 283.3 285.6 282.2 286.6 280.9 287.6 279.5 288.6 277.9 289.6 276.2 290.6 274.3 291.6 272.3 292.6 270.2 293.6 268.1 294.6 266 295.6 264.1 296.6 262.5 297.6 261.2 298.6 260.6 299.6 260.5 300.6 261.1 301.6 262.2 302.6 263.7 303.6 265.6 304.6 267.7 305.6 269.8 306.6 271.9 307.6 273.9 308.6 275.8 309.6 277.5 310.6 279.1 311.6 280.5 312.6 281.8 313.6 282.9 314.6 283.9 315.6 284.8 316.6 285.5 317.6 286.1 318.6 286.7 319.6 287.2 320.6 287.6 321.6 287.9 322.6 288.2 323.6 288.4 324.6 288.6 325.6 288.8 326.6 289 327.6 289.1 328.6 289.2 329.6 289.2 330.6 289.3 331.6 289.3 332.6 289.3 333.6 289.3 334.6 289.2 335.6 289.1 336.6 289 337.6 288.8 338.6 288.6 339.6 288.3 340.6 287.9 341.6 287.5 342.6 287 343.6 286.5 344.6 285.9 345.6 285.2 346.6 284.4 347.6 283.6 348.6 282.7 349.6 281.8 350.6 280.7 351.6 279.6 352.6 278.5 353.6 277.2 354.6 275.8 355.6 274.2 356.6 272.5 357.6 270.4 358.6 268.1 359.6 265.3 360.6 262 361.6 258 362.6 253.3 363.6 247.7 364.6 241.2 365.6 233.6 366.6 225.1 367.6 215.8 368.6 206 369.6 196.4 370.6 187.8 371.6 181.5 372.6 178.5 373.6 179.5 374.6 184.4 375.6 192.3 376.6 202.3 377.6 213.1 378.6 223.9 379.6 234.1 380.6 243.4 381.6 251.6 382.6 258.8 383.6 265 384.6 270.2 385.6 274.7 386.6 278.4 387.6 281.5 388.6 284.1 389.6 286.2 390.6 288.1 391.6 289.6 392.6 291 393.6 292.1 394.6 293.1 395.6 294 396.6 294.8 397.6 295.4 398.6 296.1 399.6 296.6 400.6 297.1 401.6 297.6 402.6 298 403.6 298.4 404.6 298.7 405.6 299 406.6 299.3 407.6 299.6 408.6 299.8 409.6 300.1 410.6 300.3 411.6 300.5 412.6 300.7 413.6 300.9 414.6 301 415.6 301.2 416.6 301.3 417.6 301.5 418.6 301.6 419.6 301.7 420.6 301.8 421.6 301.9 422.6 302 423.6 302 424.6 302.1 425.6 302 426.6 301.9 427.6 301.6 428.6 301.3 429.6 300.8 430.6 300.1 431.6 299.4 432.6 298.8 433.6 298.3 434.6 298.1 435.6 298.3 436.6 298.8 437.6 299.6 438.6 300.4 439.6 301.2 440.6 301.9 441.6 302.5 442.6 302.9 443.4 303.2" fill="none" stroke="#000" stroke-width="1" stroke-linejoin="round"/></g>
<path d="M252.6 321.1 v-2.4M278.04 321.1 v-2.4M303.48 321.1 v-2.4M328.92 321.1 v-2.4M354.36 321.1 v-2.4M379.8 321.1 v-2.4M405.24 321.1 v-2.4M430.68 321.1 v-2.4" stroke="#000" stroke-width="0.9" fill="none"/><path d="M265.32 321.1 v-1.4M290.76 321.1 v-1.4M316.2 321.1 v-1.4M341.64 321.1 v-1.4M367.08 321.1 v-1.4M392.52 321.1 v-1.4M417.96 321.1 v-1.4" stroke="#000" stroke-width="0.8" fill="none"/><rect x="252.6" y="179.9" width="190.8" height="141.2" fill="none" stroke="#262626" stroke-width="0.95"/><g class="t" font-size="7.8" text-anchor="middle"><text x="252.6" y="330.5">468</text><text x="278.04" y="330.5">466</text><text x="303.48" y="330.5">464</text><text x="328.92" y="330.5">462</text><text x="354.36" y="330.5">460</text><text x="379.8" y="330.5">458</text><text x="405.24" y="330.5">456</text><text x="430.68" y="330.5">454</text></g><text x="348" y="337.9" font-size="8.8" text-anchor="middle" font-family='"Liberation Serif", serif'>Binding Energy(eV)</text><text transform="translate(246.5 244.9) rotate(-90)" font-size="8.8" text-anchor="middle" font-family='"Liberation Serif", serif'>Intensity(a.u)</text><text x="231.2" y="188" font-size="13.2">(e)</text><text x="257.6" y="192.5" font-size="9.9">Ti2p</text>
<line x1="379.09" y1="215.66" x2="384.47" y2="214.99" stroke="#000" stroke-width="0.8"/>
<line x1="273.33" y1="270.73" x2="283.4" y2="282.48" stroke="#000" stroke-width="0.8"/>
<line x1="347.2" y1="277.45" x2="353.91" y2="292.55" stroke="#000" stroke-width="0.8"/><path d="M353.91 292.55 L351.78 290.22 L353.61 289.41 Z" fill="#000"/>
<line x1="429.46" y1="290.2" x2="436.18" y2="300.28" stroke="#000" stroke-width="0.8"/><path d="M436.18 300.28 L433.68 298.34 L435.34 297.23 Z" fill="#000"/>
<text x="383.4" y="218" font-size="11.4" text-anchor="start"><tspan dy="0">Ti</tspan><tspan dy="-4.33" font-size="10.26">4+</tspan><tspan dy="4.33"> 2p</tspan><tspan dy="2.51" font-size="10.26">3/2</tspan></text>
<text x="254.2" y="264" font-size="10.4" text-anchor="start"><tspan dy="0">Ti</tspan><tspan dy="-4.26" font-size="7.07">4+</tspan><tspan dy="4.26"> 2p</tspan><tspan dy="2.5" font-size="7.07">1/2</tspan></text>
<text x="318.7" y="272.4" font-size="10.4" text-anchor="start"><tspan dy="0">Ti</tspan><tspan dy="-4.26" font-size="7.07">0</tspan><tspan dy="4.26"> 2p</tspan><tspan dy="2.5" font-size="7.07">1/2</tspan></text>
<text x="404.3" y="285.9" font-size="10.4" text-anchor="start"><tspan dy="0">Ti</tspan><tspan dy="-4.26" font-size="7.07">0</tspan><tspan dy="4.26"> 2p</tspan><tspan dy="2.5" font-size="7.07">3/2</tspan></text>
</g>
<g id="pf">
<clipPath id="cf"><rect x="488.5" y="179.9" width="190.1" height="141.2"/></clipPath><g clip-path="url(#cf)"><path d="M488.5 302 489.5 302 490.5 302 491.5 302.1 492.5 302.1 493.5 302.1 494.5 302.2 495.5 302.2 496.5 302.3 497.5 302.3 498.5 302.3 499.5 302.4 500.5 302.4 501.5 302.5 502.5 302.5 503.5 302.5 504.5 302.6 505.5 302.6 506.5 302.7 507.5 302.7 508.5 302.7 509.5 302.8 510.5 302.8 511.5 302.8 512.5 302.9 513.5 302.9 514.5 303 515.5 303 516.5 303 517.5 303.1 518.5 303.1 519.5 303.2 520.5 303.2 521.5 303.2 522.5 303.3 523.5 303.3 524.5 303.4 525.5 303.4 526.5 303.4 527.5 303.5 528.5 303.5 529.5 303.5 530.5 303.6 531.5 303.6 532.5 303.7 533.5 303.7 534.5 303.7 535.5 303.8 536.5 303.8 537.5 303.9 538.5 303.9 539.5 303.9 540.5 304 541.5 304 542.5 304 543.5 304.1 544.5 304.1 545.5 304.2 546.5 304.2 547.5 304.2 548.5 304.3 549.5 304.3 550.5 304.4 551.5 304.4 552.5 304.4 553.5 304.5 554.5 304.5 555.5 304.6 556.5 304.6 557.5 304.6 558.5 304.7 559.5 304.7 560.5 304.7 561.5 304.8 562.5 304.8 563.5 304.9 564.5 304.9 565.5 304.9 566.5 305 567.5 305 568.5 305.1 569.5 305.1 570.5 305.1 571.5 305.2 572.5 305.2 573.5 305.3 574.5 305.3 575.5 305.3 576.5 305.4 577.5 305.4 578.5 305.4 579.5 305.5 580.5 305.5 581.5 305.6 582.5 305.6 583.5 305.6 584.5 305.7 585.5 305.7 586.5 305.8 587.5 305.8 588.5 305.8 589.5 305.9 590.5 305.9 591.5 305.9 592.5 306 593.5 306 594.5 306.1 595.5 306.1 596.5 306.1 597.5 306.2 598.5 306.2 599.5 306.3 600.5 306.3 601.5 306.3 602.5 306.4 603.5 306.4 604.5 306.5 605.5 306.5 606.5 306.5 607.5 306.6 608.5 306.6 609.5 306.6 610.5 306.7 611.5 306.7 612.5 306.8 613.5 306.8 614.5 306.8 615.5 306.9 616.5 306.9 617.5 307 618.5 307 619.5 307 620.5 307.1 621.5 307.1 622.5 307.2 623.5 307.2 624.5 307.2 625.5 307.3 626.5 307.3 627.5 307.3 628.5 307.4 629.5 307.4 630.5 307.5 631.5 307.5 632.5 307.5 633.5 307.6 634.5 307.6 635.5 307.7 636.5 307.7 637.5 307.7 638.5 307.8 639.5 307.8 640.5 307.9 641.5 307.9 642.5 307.9 643.5 308 644.5 308 645.5 308 646.5 308.1 647.5 308.1 648.5 308.2 649.5 308.2 650.5 308.2 651.5 308.3 652.5 308.3 653.5 308.4 654.5 308.4 655.5 308.4 656.5 308.5 657.5 308.5 658.5 308.5 659.5 308.6 660.5 308.6 661.5 308.7 662.5 308.7 663.5 308.7 664.5 308.8 665.5 308.8 666.5 308.9 667.5 308.9 668.5 308.9 669.5 309 670.5 309 671.5 309.1 672.5 309.1 673.5 309.1 674.5 309.2 675.5 309.2 676.5 309.2 677.5 309.3 678.5 309.3 678.6 309.3" fill="none" stroke="#1ffcff" stroke-width="0.8"/><path d="M488.5 301.2 489.5 301.2 490.5 301.2 491.5 301.3 492.5 301.3 493.5 301.3 494.5 301.3 495.5 301.3 496.5 301.3 497.5 301.2 498.5 301.2 499.5 301.2 500.5 301.2 501.5 301.2 502.5 301.1 503.5 301.1 504.5 301.1 505.5 301 506.5 300.9 507.5 300.8 508.5 300.7 509.5 300.6 510.5 300.4 511.5 300.2 512.5 299.9 513.5 299.6 514.5 299.1 515.5 298.6 516.5 297.9 517.5 297 518.5 295.9 519.5 294.6 520.5 293 521.5 291.1 522.5 288.9 523.5 286.3 524.5 283.4 525.5 280 526.5 276.3 527.5 272.3 528.5 267.9 529.5 263.3 530.5 258.6 531.5 253.8 532.5 249.1 533.5 244.6 534.5 240.4 535.5 236.9 536.5 234 537.5 232 538.5 231 539.5 231.1 540.5 232.1 541.5 234.2 542.5 237.1 543.5 240.8 544.5 245 545.5 249.6 546.5 254.4 547.5 259.2 548.5 264.1 549.5 268.7 550.5 273.2 551.5 277.3 552.5 281.1 553.5 284.5 554.5 287.5 555.5 290.2 556.5 292.5 557.5 294.5 558.5 296.1 559.5 297.5 560.5 298.7 561.5 299.6 562.5 300.4 563.5 301 564.5 301.6 565.5 302 566.5 302.3 567.5 302.6 568.5 302.9 569.5 303.1 570.5 303.3 571.5 303.5 572.5 303.6 573.5 303.7 574.5 303.9 575.5 304 576.5 304.1 577.5 304.2 578.5 304.3 579.5 304.4 580.5 304.5 581.5 304.5 582.5 304.6 583.5 304.7 584.5 304.8 585.5 304.9 586.5 304.9 587.5 305 588.5 305.1 589.5 305.1 590.5 305.2 591.5 305.3 592.5 305.3 593.5 305.4 594.5 305.5 595.5 305.5 596.5 305.6 597.5 305.6 598.5 305.7 599.5 305.7 600.5 305.8 601.5 305.9 602.5 305.9 603.5 306 604.5 306 605.5 306.1 606.5 306.1 607.5 306.2 608.5 306.2 609.5 306.3 610.5 306.3 611.5 306.4 612.5 306.4 613.5 306.5 614.5 306.5 615.5 306.6 616.5 306.6 617.5 306.6 618.5 306.7 619.5 306.7 620.5 306.8 621.5 306.8 622.5 306.9 623.5 306.9 624.5 307 625.5 307 626.5 307.1 627.5 307.1 628.5 307.1 629.5 307.2 630.5 307.2 631.5 307.3 632.5 307.3 633.5 307.4 634.5 307.4 635.5 307.5 636.5 307.5 637.5 307.5 638.5 307.6 639.5 307.6 640.5 307.7 641.5 307.7 642.5 307.7 643.5 307.8 644.5 307.8 645.5 307.9 646.5 307.9 647.5 308 648.5 308 649.5 308 650.5 308.1 651.5 308.1 652.5 308.2 653.5 308.2 654.5 308.3 655.5 308.3 656.5 308.3 657.5 308.4 658.5 308.4 659.5 308.5 660.5 308.5 661.5 308.5 662.5 308.6 663.5 308.6 664.5 308.7 665.5 308.7 666.5 308.7 667.5 308.8 668.5 308.8 669.5 308.9 670.5 308.9 671.5 308.9 672.5 309 673.5 309 674.5 309.1 675.5 309.1 676.5 309.1 677.5 309.2 678.5 309.2 678.6 309.2 L678.6 309.3 678.5 309.3 677.5 309.3 676.5 309.2 675.5 309.2 674.5 309.2 673.5 309.1 672.5 309.1 671.5 309.1 670.5 309 669.5 309 668.5 308.9 667.5 308.9 666.5 308.9 665.5 308.8 664.5 308.8 663.5 308.7 662.5 308.7 661.5 308.7 660.5 308.6 659.5 308.6 658.5 308.5 657.5 308.5 656.5 308.5 655.5 308.4 654.5 308.4 653.5 308.4 652.5 308.3 651.5 308.3 650.5 308.2 649.5 308.2 648.5 308.2 647.5 308.1 646.5 308.1 645.5 308 644.5 308 643.5 308 642.5 307.9 641.5 307.9 640.5 307.9 639.5 307.8 638.5 307.8 637.5 307.7 636.5 307.7 635.5 307.7 634.5 307.6 633.5 307.6 632.5 307.5 631.5 307.5 630.5 307.5 629.5 307.4 628.5 307.4 627.5 307.3 626.5 307.3 625.5 307.3 624.5 307.2 623.5 307.2 622.5 307.2 621.5 307.1 620.5 307.1 619.5 307 618.5 307 617.5 307 616.5 306.9 615.5 306.9 614.5 306.8 613.5 306.8 612.5 306.8 611.5 306.7 610.5 306.7 609.5 306.6 608.5 306.6 607.5 306.6 606.5 306.5 605.5 306.5 604.5 306.5 603.5 306.4 602.5 306.4 601.5 306.3 600.5 306.3 599.5 306.3 598.5 306.2 597.5 306.2 596.5 306.1 595.5 306.1 594.5 306.1 593.5 306 592.5 306 591.5 305.9 590.5 305.9 589.5 305.9 588.5 305.8 587.5 305.8 586.5 305.8 585.5 305.7 584.5 305.7 583.5 305.6 582.5 305.6 581.5 305.6 580.5 305.5 579.5 305.5 578.5 305.4 577.5 305.4 576.5 305.4 575.5 305.3 574.5 305.3 573.5 305.3 572.5 305.2 571.5 305.2 570.5 305.1 569.5 305.1 568.5 305.1 567.5 305 566.5 305 565.5 304.9 564.5 304.9 563.5 304.9 562.5 304.8 561.5 304.8 560.5 304.7 559.5 304.7 558.5 304.7 557.5 304.6 556.5 304.6 555.5 304.6 554.5 304.5 553.5 304.5 552.5 304.4 551.5 304.4 550.5 304.4 549.5 304.3 548.5 304.3 547.5 304.2 546.5 304.2 545.5 304.2 544.5 304.1 543.5 304.1 542.5 304 541.5 304 540.5 304 539.5 303.9 538.5 303.9 537.5 303.9 536.5 303.8 535.5 303.8 534.5 303.7 533.5 303.7 532.5 303.7 531.5 303.6 530.5 303.6 529.5 303.5 528.5 303.5 527.5 303.5 526.5 303.4 525.5 303.4 524.5 303.4 523.5 303.3 522.5 303.3 521.5 303.2 520.5 303.2 519.5 303.2 518.5 303.1 517.5 303.1 516.5 303 515.5 303 514.5 303 513.5 302.9 512.5 302.9 511.5 302.8 510.5 302.8 509.5 302.8 508.5 302.7 507.5 302.7 506.5 302.7 505.5 302.6 504.5 302.6 503.5 302.5 502.5 302.5 501.5 302.5 500.5 302.4 499.5 302.4 498.5 302.3 497.5 302.3 496.5 302.3 495.5 302.2 494.5 302.2 493.5 302.1 492.5 302.1 491.5 302.1 490.5 302 489.5 302 488.5 302Z" fill="#ff0000" stroke="#ff0000" stroke-width="0.7"/><path d="M488.5 301.6 489.5 301.7 490.5 301.7 491.5 301.7 492.5 301.7 493.5 301.8 494.5 301.8 495.5 301.8 496.5 301.9 497.5 301.9 498.5 301.9 499.5 301.9 500.5 302 501.5 302 502.5 302 503.5 302.1 504.5 302.1 505.5 302.1 506.5 302.1 507.5 302.2 508.5 302.2 509.5 302.2 510.5 302.2 511.5 302.2 512.5 302.3 513.5 302.3 514.5 302.3 515.5 302.3 516.5 302.3 517.5 302.4 518.5 302.4 519.5 302.4 520.5 302.4 521.5 302.4 522.5 302.4 523.5 302.4 524.5 302.4 525.5 302.4 526.5 302.4 527.5 302.4 528.5 302.4 529.5 302.4 530.5 302.4 531.5 302.4 532.5 302.4 533.5 302.4 534.5 302.4 535.5 302.4 536.5 302.3 537.5 302.3 538.5 302.3 539.5 302.2 540.5 302.2 541.5 302.1 542.5 302 543.5 302 544.5 301.9 545.5 301.7 546.5 301.6 547.5 301.5 548.5 301.3 549.5 301 550.5 300.7 551.5 300.4 552.5 299.9 553.5 299.3 554.5 298.5 555.5 297.5 556.5 296.3 557.5 294.8 558.5 292.9 559.5 290.6 560.5 287.8 561.5 284.5 562.5 280.5 563.5 276 564.5 270.8 565.5 265 566.5 258.6 567.5 251.7 568.5 244.4 569.5 236.8 570.5 229.1 571.5 221.5 572.5 214.4 573.5 207.9 574.5 202.4 575.5 198.2 576.5 195.4 577.5 194.4 578.5 195.2 579.5 197.6 580.5 201.7 581.5 207 582.5 213.4 583.5 220.5 584.5 228.1 585.5 235.8 586.5 243.5 587.5 251 588.5 258.1 589.5 264.7 590.5 270.7 591.5 276.1 592.5 280.8 593.5 285 594.5 288.5 595.5 291.5 596.5 293.9 597.5 296 598.5 297.7 599.5 299 600.5 300.1 601.5 301 602.5 301.7 603.5 302.3 604.5 302.8 605.5 303.1 606.5 303.5 607.5 303.7 608.5 304 609.5 304.2 610.5 304.4 611.5 304.6 612.5 304.7 613.5 304.9 614.5 305 615.5 305.1 616.5 305.3 617.5 305.4 618.5 305.5 619.5 305.6 620.5 305.7 621.5 305.8 622.5 305.9 623.5 306 624.5 306.1 625.5 306.2 626.5 306.2 627.5 306.3 628.5 306.4 629.5 306.5 630.5 306.5 631.5 306.6 632.5 306.7 633.5 306.8 634.5 306.8 635.5 306.9 636.5 306.9 637.5 307 638.5 307.1 639.5 307.1 640.5 307.2 641.5 307.3 642.5 307.3 643.5 307.4 644.5 307.4 645.5 307.5 646.5 307.5 647.5 307.6 648.5 307.6 649.5 307.7 650.5 307.7 651.5 307.8 652.5 307.8 653.5 307.9 654.5 308 655.5 308 656.5 308.1 657.5 308.1 658.5 308.1 659.5 308.2 660.5 308.2 661.5 308.3 662.5 308.3 663.5 308.4 664.5 308.4 665.5 308.5 666.5 308.5 667.5 308.6 668.5 308.6 669.5 308.7 670.5 308.7 671.5 308.8 672.5 308.8 673.5 308.8 674.5 308.9 675.5 308.9 676.5 309 677.5 309 678.5 309.1 678.6 309.1 L678.6 309.3 678.5 309.3 677.5 309.3 676.5 309.2 675.5 309.2 674.5 309.2 673.5 309.1 672.5 309.1 671.5 309.1 670.5 309 669.5 309 668.5 308.9 667.5 308.9 666.5 308.9 665.5 308.8 664.5 308.8 663.5 308.7 662.5 308.7 661.5 308.7 660.5 308.6 659.5 308.6 658.5 308.5 657.5 308.5 656.5 308.5 655.5 308.4 654.5 308.4 653.5 308.4 652.5 308.3 651.5 308.3 650.5 308.2 649.5 308.2 648.5 308.2 647.5 308.1 646.5 308.1 645.5 308 644.5 308 643.5 308 642.5 307.9 641.5 307.9 640.5 307.9 639.5 307.8 638.5 307.8 637.5 307.7 636.5 307.7 635.5 307.7 634.5 307.6 633.5 307.6 632.5 307.5 631.5 307.5 630.5 307.5 629.5 307.4 628.5 307.4 627.5 307.3 626.5 307.3 625.5 307.3 624.5 307.2 623.5 307.2 622.5 307.2 621.5 307.1 620.5 307.1 619.5 307 618.5 307 617.5 307 616.5 306.9 615.5 306.9 614.5 306.8 613.5 306.8 612.5 306.8 611.5 306.7 610.5 306.7 609.5 306.6 608.5 306.6 607.5 306.6 606.5 306.5 605.5 306.5 604.5 306.5 603.5 306.4 602.5 306.4 601.5 306.3 600.5 306.3 599.5 306.3 598.5 306.2 597.5 306.2 596.5 306.1 595.5 306.1 594.5 306.1 593.5 306 592.5 306 591.5 305.9 590.5 305.9 589.5 305.9 588.5 305.8 587.5 305.8 586.5 305.8 585.5 305.7 584.5 305.7 583.5 305.6 582.5 305.6 581.5 305.6 580.5 305.5 579.5 305.5 578.5 305.4 577.5 305.4 576.5 305.4 575.5 305.3 574.5 305.3 573.5 305.3 572.5 305.2 571.5 305.2 570.5 305.1 569.5 305.1 568.5 305.1 567.5 305 566.5 305 565.5 304.9 564.5 304.9 563.5 304.9 562.5 304.8 561.5 304.8 560.5 304.7 559.5 304.7 558.5 304.7 557.5 304.6 556.5 304.6 555.5 304.6 554.5 304.5 553.5 304.5 552.5 304.4 551.5 304.4 550.5 304.4 549.5 304.3 548.5 304.3 547.5 304.2 546.5 304.2 545.5 304.2 544.5 304.1 543.5 304.1 542.5 304 541.5 304 540.5 304 539.5 303.9 538.5 303.9 537.5 303.9 536.5 303.8 535.5 303.8 534.5 303.7 533.5 303.7 532.5 303.7 531.5 303.6 530.5 303.6 529.5 303.5 528.5 303.5 527.5 303.5 526.5 303.4 525.5 303.4 524.5 303.4 523.5 303.3 522.5 303.3 521.5 303.2 520.5 303.2 519.5 303.2 518.5 303.1 517.5 303.1 516.5 303 515.5 303 514.5 303 513.5 302.9 512.5 302.9 511.5 302.8 510.5 302.8 509.5 302.8 508.5 302.7 507.5 302.7 506.5 302.7 505.5 302.6 504.5 302.6 503.5 302.5 502.5 302.5 501.5 302.5 500.5 302.4 499.5 302.4 498.5 302.3 497.5 302.3 496.5 302.3 495.5 302.2 494.5 302.2 493.5 302.1 492.5 302.1 491.5 302.1 490.5 302 489.5 302 488.5 302Z" fill="#ff0000" stroke="#ff0000" stroke-width="0.7"/><path d="M531.5 303.5 532.5 303.6 533.5 303.6 534.5 303.6 535.5 303.7 536.5 303.7 537.5 303.7 538.5 303.7 539.5 303.8 540.5 303.8 541.5 303.8 542.5 303.8 543.5 303.8 544.5 303.8 545.5 303.9 546.5 303.9 547.5 303.9 548.5 303.9 549.5 303.9 550.5 303.9 551.5 303.9 552.5 303.9 553.5 303.9 554.5 303.9 555.5 303.8 556.5 303.8 557.5 303.8 558.5 303.8 559.5 303.8 560.5 303.7 561.5 303.7 562.5 303.7 563.5 303.6 564.5 303.6 565.5 303.5 566.5 303.5 567.5 303.4 568.5 303.4 569.5 303.3 570.5 303.2 571.5 303.2 572.5 303.1 573.5 303 574.5 303 575.5 302.9 576.5 302.8 577.5 302.7 578.5 302.7 579.5 302.6 580.5 302.5 581.5 302.4 582.5 302.3 583.5 302.3 584.5 302.2 585.5 302.1 586.5 302 587.5 302 588.5 301.9 589.5 301.8 590.5 301.7 591.5 301.7 592.5 301.6 593.5 301.6 594.5 301.5 595.5 301.5 596.5 301.4 597.5 301.4 598.5 301.3 599.5 301.3 600.5 301.3 601.5 301.3 602.5 301.3 603.5 301.3 604.5 301.3 605.5 301.3 606.5 301.3 607.5 301.4 608.5 301.4 609.5 301.5 610.5 301.5 611.5 301.6 612.5 301.6 613.5 301.7 614.5 301.8 615.5 301.9 616.5 302 617.5 302.1 618.5 302.2 619.5 302.3 620.5 302.4 621.5 302.6 622.5 302.7 623.5 302.8 624.5 303 625.5 303.1 626.5 303.2 627.5 303.4 628.5 303.5 629.5 303.7 630.5 303.9 631.5 304 632.5 304.2 633.5 304.3 634.5 304.5 635.5 304.6 636.5 304.8 637.5 305 638.5 305.1 639.5 305.3 640.5 305.4 641.5 305.6 642.5 305.7 643.5 305.9 644.5 306 645.5 306.2 646.5 306.3 647.5 306.4 648.5 306.6 649.5 306.7 650.5 306.8 651.5 306.9 652.5 307.1 653.5 307.2 654.5 307.3 655.5 307.4 656.5 307.5 657.5 307.6 658.5 307.7 659.5 307.8 660.5 307.9 661.5 308 662.5 308.1 663.5 308.2 664.5 308.3 665.5 308.3 666.5 308.4 667.5 308.5 668.5 308.6 669.5 308.6 670.5 308.7 671.5 308.8 672.5 308.8 673.5 308.9 674.5 309 675.5 309 676.5 309.1 677.5 309.1 678.5 309.2 678.6 309.2 L678.6 309.3 678.5 309.3 677.5 309.3 676.5 309.2 675.5 309.2 674.5 309.2 673.5 309.1 672.5 309.1 671.5 309.1 670.5 309 669.5 309 668.5 308.9 667.5 308.9 666.5 308.9 665.5 308.8 664.5 308.8 663.5 308.7 662.5 308.7 661.5 308.7 660.5 308.6 659.5 308.6 658.5 308.5 657.5 308.5 656.5 308.5 655.5 308.4 654.5 308.4 653.5 308.4 652.5 308.3 651.5 308.3 650.5 308.2 649.5 308.2 648.5 308.2 647.5 308.1 646.5 308.1 645.5 308 644.5 308 643.5 308 642.5 307.9 641.5 307.9 640.5 307.9 639.5 307.8 638.5 307.8 637.5 307.7 636.5 307.7 635.5 307.7 634.5 307.6 633.5 307.6 632.5 307.5 631.5 307.5 630.5 307.5 629.5 307.4 628.5 307.4 627.5 307.3 626.5 307.3 625.5 307.3 624.5 307.2 623.5 307.2 622.5 307.2 621.5 307.1 620.5 307.1 619.5 307 618.5 307 617.5 307 616.5 306.9 615.5 306.9 614.5 306.8 613.5 306.8 612.5 306.8 611.5 306.7 610.5 306.7 609.5 306.6 608.5 306.6 607.5 306.6 606.5 306.5 605.5 306.5 604.5 306.5 603.5 306.4 602.5 306.4 601.5 306.3 600.5 306.3 599.5 306.3 598.5 306.2 597.5 306.2 596.5 306.1 595.5 306.1 594.5 306.1 593.5 306 592.5 306 591.5 305.9 590.5 305.9 589.5 305.9 588.5 305.8 587.5 305.8 586.5 305.8 585.5 305.7 584.5 305.7 583.5 305.6 582.5 305.6 581.5 305.6 580.5 305.5 579.5 305.5 578.5 305.4 577.5 305.4 576.5 305.4 575.5 305.3 574.5 305.3 573.5 305.3 572.5 305.2 571.5 305.2 570.5 305.1 569.5 305.1 568.5 305.1 567.5 305 566.5 305 565.5 304.9 564.5 304.9 563.5 304.9 562.5 304.8 561.5 304.8 560.5 304.7 559.5 304.7 558.5 304.7 557.5 304.6 556.5 304.6 555.5 304.6 554.5 304.5 553.5 304.5 552.5 304.4 551.5 304.4 550.5 304.4 549.5 304.3 548.5 304.3 547.5 304.2 546.5 304.2 545.5 304.2 544.5 304.1 543.5 304.1 542.5 304 541.5 304 540.5 304 539.5 303.9 538.5 303.9 537.5 303.9 536.5 303.8 535.5 303.8 534.5 303.7 533.5 303.7 532.5 303.7 531.5 303.6Z" fill="#1ffcff" stroke="#1ffcff" stroke-width="0.7"/><path d="M623.5 307.1 624.5 307.1 625.5 307.1 626.5 307.1 627.5 307 628.5 306.9 629.5 306.8 630.5 306.5 631.5 306.2 632.5 305.8 633.5 305.3 634.5 304.8 635.5 304.1 636.5 303.3 637.5 302.6 638.5 301.8 639.5 301 640.5 300.4 641.5 299.8 642.5 299.5 643.5 299.3 644.5 299.3 645.5 299.6 646.5 300 647.5 300.6 648.5 301.4 649.5 302.2 650.5 303.1 651.5 303.9 652.5 304.7 653.5 305.5 654.5 306.2 655.5 306.7 656.5 307.2 657.5 307.6 658.5 307.9 659.5 308.1 660.5 308.3 661.5 308.5 662.5 308.6 663.5 308.7 664.5 308.7 L664.5 308.8 663.5 308.7 662.5 308.7 661.5 308.7 660.5 308.6 659.5 308.6 658.5 308.5 657.5 308.5 656.5 308.5 655.5 308.4 654.5 308.4 653.5 308.4 652.5 308.3 651.5 308.3 650.5 308.2 649.5 308.2 648.5 308.2 647.5 308.1 646.5 308.1 645.5 308 644.5 308 643.5 308 642.5 307.9 641.5 307.9 640.5 307.9 639.5 307.8 638.5 307.8 637.5 307.7 636.5 307.7 635.5 307.7 634.5 307.6 633.5 307.6 632.5 307.5 631.5 307.5 630.5 307.5 629.5 307.4 628.5 307.4 627.5 307.3 626.5 307.3 625.5 307.3 624.5 307.2 623.5 307.2Z" fill="#1ffcff" stroke="#1ffcff" stroke-width="0.7"/><path d="M610.5 306.6 611.5 306.6 612.5 306.6 613.5 306.6 614.5 306.6 615.5 306.6 616.5 306.6 617.5 306.6 618.5 306.5 619.5 306.5 620.5 306.4 621.5 306.4 622.5 306.3 623.5 306.2 624.5 306.2 625.5 306.1 626.5 306 627.5 305.9 628.5 305.9 629.5 305.8 630.5 305.8 631.5 305.8 632.5 305.8 633.5 305.8 634.5 305.8 635.5 305.9 636.5 306 637.5 306.1 638.5 306.2 639.5 306.3 640.5 306.4 641.5 306.6 642.5 306.7 643.5 306.9 644.5 307 645.5 307.2 646.5 307.3 647.5 307.5 648.5 307.6 649.5 307.7 650.5 307.9 651.5 308 652.5 308.1 653.5 308.2 654.5 308.2 655.5 308.3 656.5 308.4 657.5 308.4 L657.5 308.5 656.5 308.5 655.5 308.4 654.5 308.4 653.5 308.4 652.5 308.3 651.5 308.3 650.5 308.2 649.5 308.2 648.5 308.2 647.5 308.1 646.5 308.1 645.5 308 644.5 308 643.5 308 642.5 307.9 641.5 307.9 640.5 307.9 639.5 307.8 638.5 307.8 637.5 307.7 636.5 307.7 635.5 307.7 634.5 307.6 633.5 307.6 632.5 307.5 631.5 307.5 630.5 307.5 629.5 307.4 628.5 307.4 627.5 307.3 626.5 307.3 625.5 307.3 624.5 307.2 623.5 307.2 622.5 307.2 621.5 307.1 620.5 307.1 619.5 307 618.5 307 617.5 307 616.5 306.9 615.5 306.9 614.5 306.8 613.5 306.8 612.5 306.8 611.5 306.7 610.5 306.7Z" fill="#ff0000" stroke="#ff0000" stroke-width="0.7"/><path d="M488.5 300.5 489.5 300.5 490.5 300.5 491.5 300.5 492.5 300.5 493.5 300.5 494.5 300.5 495.5 300.5 496.5 300.5 497.5 300.4 498.5 300.4 499.5 300.4 500.5 300.4 501.5 300.3 502.5 300.3 503.5 300.2 504.5 300.2 505.5 300.1 506.5 300 507.5 299.9 508.5 299.8 509.5 299.6 510.5 299.4 511.5 299.2 512.5 298.9 513.5 298.5 514.5 298.1 515.5 297.5 516.5 296.8 517.5 295.9 518.5 294.8 519.5 293.4 520.5 291.8 521.5 289.9 522.5 287.6 523.5 285 524.5 282 525.5 278.6 526.5 274.9 527.5 270.8 528.5 266.4 529.5 261.8 530.5 257 531.5 252.1 532.5 247.3 533.5 242.8 534.5 238.6 535.5 234.9 536.5 232 537.5 229.9 538.5 228.8 539.5 228.8 540.5 229.7 541.5 231.7 542.5 234.5 543.5 238 544.5 242 545.5 246.4 546.5 251 547.5 255.7 548.5 260.2 549.5 264.6 550.5 268.7 551.5 272.3 552.5 275.6 553.5 278.3 554.5 280.5 555.5 282.1 556.5 283.1 557.5 283.4 558.5 283.1 559.5 282 560.5 280.3 561.5 277.8 562.5 274.5 563.5 270.5 564.5 265.7 565.5 260.2 566.5 254.1 567.5 247.3 568.5 240.1 569.5 232.6 570.5 224.9 571.5 217.4 572.5 210.3 573.5 203.8 574.5 198.2 575.5 194 576.5 191.2 577.5 190.1 578.5 190.8 579.5 193.2 580.5 197.2 581.5 202.5 582.5 208.8 583.5 215.8 584.5 223.3 585.5 231 586.5 238.6 587.5 246 588.5 253 589.5 259.5 590.5 265.4 591.5 270.7 592.5 275.4 593.5 279.5 594.5 282.9 595.5 285.8 596.5 288.2 597.5 290.2 598.5 291.9 599.5 293.2 600.5 294.2 601.5 295.1 602.5 295.8 603.5 296.3 604.5 296.8 605.5 297.1 606.5 297.5 607.5 297.7 608.5 298 609.5 298.2 610.5 298.4 611.5 298.6 612.5 298.8 613.5 299 614.5 299.2 615.5 299.4 616.5 299.6 617.5 299.8 618.5 300 619.5 300.2 620.5 300.4 621.5 300.5 622.5 300.7 623.5 300.9 624.5 301.1 625.5 301.2 626.5 301.3 627.5 301.4 628.5 301.5 629.5 301.5 630.5 301.4 631.5 301.2 632.5 301 633.5 300.6 634.5 300.2 635.5 299.7 636.5 299.1 637.5 298.5 638.5 297.8 639.5 297.2 640.5 296.7 641.5 296.3 642.5 296.1 643.5 296 644.5 296.2 645.5 296.6 646.5 297.1 647.5 297.9 648.5 298.7 649.5 299.6 650.5 300.6 651.5 301.6 652.5 302.5 653.5 303.3 654.5 304.1 655.5 304.7 656.5 305.3 657.5 305.8 658.5 306.1 659.5 306.4 660.5 306.7 661.5 306.9 662.5 307.1 663.5 307.2 664.5 307.3 665.5 307.5 666.5 307.6 667.5 307.6 668.5 307.7 669.5 307.8 670.5 307.9 671.5 308 672.5 308 673.5 308.1 674.5 308.2 675.5 308.2 676.5 308.3 677.5 308.4 678.5 308.4 678.6 308.4" fill="none" stroke="#000" stroke-width="1" stroke-linejoin="round"/></g>
<path d="M488.5 321.1 v-2.4M520.18 321.1 v-2.4M551.87 321.1 v-2.4M583.55 321.1 v-2.4M615.23 321.1 v-2.4M646.92 321.1 v-2.4M678.6 321.1 v-2.4" stroke="#000" stroke-width="0.9" fill="none"/><path d="M504.34 321.1 v-1.4M536.02 321.1 v-1.4M567.71 321.1 v-1.4M599.39 321.1 v-1.4M631.08 321.1 v-1.4M662.76 321.1 v-1.4" stroke="#000" stroke-width="0.8" fill="none"/><rect x="488.5" y="179.9" width="190.1" height="141.2" fill="none" stroke="#262626" stroke-width="0.95"/><g class="t" font-size="7.8" text-anchor="middle"><text x="488.5" y="330.5">188</text><text x="520.18" y="330.5">186</text><text x="551.87" y="330.5">184</text><text x="583.55" y="330.5">182</text><text x="615.23" y="330.5">180</text><text x="646.92" y="330.5">178</text><text x="678.6" y="330.5">176</text></g><text x="583.85" y="338.6" font-size="8.1" text-anchor="middle" font-family='"Liberation Serif", serif'>Binding Energy(eV)</text><text transform="translate(481.6 246) rotate(-90)" font-size="8.1" text-anchor="middle" font-family='"Liberation Serif", serif'>Intensity(a.u)</text><text x="467.4" y="189.6" font-size="13.2">(f)</text><text x="494.6" y="195.5" font-size="10.2">Zr3d</text>
<line x1="531.55" y1="223.72" x2="538.94" y2="230.44" stroke="#000" stroke-width="0.8"/>
<line x1="597.7" y1="203.58" x2="584.27" y2="216.34" stroke="#000" stroke-width="0.8"/>
<line x1="615.5" y1="294.23" x2="606.77" y2="303.3" stroke="#000" stroke-width="0.8"/>
<line x1="653.1" y1="292.55" x2="647.06" y2="300.28" stroke="#000" stroke-width="0.8"/>
<text x="498" y="218" font-size="10.4" text-anchor="start"><tspan dy="0">Zr</tspan><tspan dy="-4.26" font-size="7.07">4+</tspan><tspan dy="4.26"> 3d</tspan><tspan dy="2.5" font-size="7.07">3/2</tspan></text>
<text x="596.7" y="199.5" font-size="10.4" text-anchor="start"><tspan dy="0">Zr</tspan><tspan dy="-4.26" font-size="7.07">4+</tspan><tspan dy="4.26"> 3d</tspan><tspan dy="2.5" font-size="7.07">5/2</tspan></text>
<text x="601.7" y="290.2" font-size="10.4" text-anchor="start"><tspan dy="0">Zr</tspan><tspan dy="-4.26" font-size="7.07">0</tspan><tspan dy="4.26"> 3d</tspan><tspan dy="2.5" font-size="7.07">3/2</tspan></text>
<text x="640.7" y="285.9" font-size="10.4" text-anchor="start"><tspan dy="0">Zr</tspan><tspan dy="-4.26" font-size="7.07">0</tspan><tspan dy="4.26"> 3d</tspan><tspan dy="2.5" font-size="7.07">5/2</tspan></text>
</g>
<g id="pg">
<clipPath id="cg"><rect x="27.4" y="359.3" width="190.3" height="141.1"/></clipPath><g clip-path="url(#cg)"><path d="M27.4 485.3 28.4 485.3 29.4 485.3 30.4 485.3 31.4 485.4 32.4 485.4 33.4 485.4 34.4 485.4 35.4 485.4 36.4 485.4 37.4 485.4 38.4 485.4 39.4 485.4 40.4 485.5 41.4 485.5 42.4 485.4 43.4 485.4 44.4 485.4 45.4 485.4 46.4 485.4 47.4 485.4 48.4 485.3 49.4 485.3 50.4 485.2 51.4 485.1 52.4 485 53.4 484.9 54.4 484.8 55.4 484.6 56.4 484.4 57.4 484.2 58.4 483.9 59.4 483.6 60.4 483.2 61.4 482.8 62.4 482.3 63.4 481.8 64.4 481.1 65.4 480.4 66.4 479.6 67.4 478.7 68.4 477.6 69.4 476.5 70.4 475.2 71.4 473.9 72.4 472.3 73.4 470.7 74.4 468.9 75.4 467 76.4 464.9 77.4 462.7 78.4 460.3 79.4 457.9 80.4 455.3 81.4 452.6 82.4 449.8 83.4 446.9 84.4 444 85.4 441 86.4 438 87.4 435 88.4 432 89.4 429.1 90.4 426.3 91.4 423.6 92.4 421 93.4 418.6 94.4 416.4 95.4 414.5 96.4 412.8 97.4 411.4 98.4 410.3 99.4 409.5 100.4 409.1 101.4 409 102.4 409.2 103.4 409.8 104.4 410.7 105.4 411.9 106.4 413.4 107.4 415.2 108.4 417.3 109.4 419.6 110.4 422.1 111.4 424.7 112.4 427.5 113.4 430.4 114.4 433.4 115.4 436.4 116.4 439.5 117.4 442.5 118.4 445.6 119.4 448.6 120.4 451.5 121.4 454.3 122.4 457.1 123.4 459.7 124.4 462.2 125.4 464.6 126.4 466.8 127.4 468.9 128.4 470.9 129.4 472.7 130.4 474.4 131.4 476 132.4 477.4 133.4 478.7 134.4 479.8 135.4 480.9 136.4 481.9 137.4 482.7 138.4 483.5 139.4 484.2 140.4 484.8 141.4 485.3 142.4 485.8 143.4 486.2 144.4 486.6 145.4 486.9 146.4 487.2 147.4 487.4 148.4 487.7 149.4 487.9 150.4 488 151.4 488.2 152.4 488.3 153.4 488.5 154.4 488.6 155.4 488.7 156.4 488.8 157.4 488.9 158.4 489 159.4 489.1 160.4 489.2 161.4 489.2 162.4 489.3 163.4 489.4 164.4 489.4 165.4 489.5 166.4 489.6 167.4 489.6 168.4 489.7 169.4 489.8 170.4 489.8 171.4 489.9 172.4 489.9 173.4 490 174.4 490 175.4 490.1 176.4 490.1 177.4 490.2 178.4 490.2 179.4 490.2 180.4 490.3 181.4 490.3 182.4 490.4 183.4 490.4 184.4 490.4 185.4 490.5 186.4 490.5 187.4 490.5 188.4 490.6 189.4 490.6 190.4 490.6 191.4 490.7 192.4 490.7 193.4 490.7 194.4 490.8 195.4 490.8 196.4 490.8 197.4 490.9 198.4 490.9 199.4 490.9 200.4 490.9 201.4 491 202.4 491 203.4 491 204.4 491.1 205.4 491.1 206.4 491.1 207.4 491.1 208.4 491.2 209.4 491.2 210.4 491.2 211.4 491.3 212.4 491.3 213.4 491.3 214.4 491.3 215.4 491.3 216.4 491.4 217.4 491.4 217.7 491.4 L217.7 491.6 217.4 491.6 216.4 491.6 215.4 491.5 214.4 491.5 213.4 491.5 212.4 491.5 211.4 491.5 210.4 491.4 209.4 491.4 208.4 491.4 207.4 491.4 206.4 491.4 205.4 491.3 204.4 491.3 203.4 491.3 202.4 491.3 201.4 491.2 200.4 491.2 199.4 491.2 198.4 491.2 197.4 491.1 196.4 491.1 195.4 491.1 194.4 491.1 193.4 491 192.4 491 191.4 491 190.4 490.9 189.4 490.9 188.4 490.9 187.4 490.9 186.4 490.8 185.4 490.8 184.4 490.8 183.4 490.8 182.4 490.7 181.4 490.7 180.4 490.7 179.4 490.6 178.4 490.6 177.4 490.6 176.4 490.6 175.4 490.5 174.4 490.5 173.4 490.4 172.4 490.4 171.4 490.4 170.4 490.3 169.4 490.3 168.4 490.2 167.4 490.2 166.4 490.2 165.4 490.1 164.4 490.1 163.4 490 162.4 490 161.4 489.9 160.4 489.9 159.4 489.8 158.4 489.8 157.4 489.8 156.4 489.7 155.4 489.7 154.4 489.6 153.4 489.6 152.4 489.6 151.4 489.5 150.4 489.5 149.4 489.4 148.4 489.4 147.4 489.4 146.4 489.3 145.4 489.3 144.4 489.3 143.4 489.2 142.4 489.2 141.4 489.2 140.4 489.1 139.4 489.1 138.4 489.1 137.4 489 136.4 489 135.4 489 134.4 489 133.4 488.9 132.4 488.9 131.4 488.9 130.4 488.8 129.4 488.8 128.4 488.8 127.4 488.7 126.4 488.7 125.4 488.7 124.4 488.7 123.4 488.6 122.4 488.6 121.4 488.6 120.4 488.5 119.4 488.5 118.4 488.5 117.4 488.4 116.4 488.4 115.4 488.4 114.4 488.4 113.4 488.3 112.4 488.3 111.4 488.3 110.4 488.2 109.4 488.2 108.4 488.2 107.4 488.1 106.4 488.1 105.4 488.1 104.4 488.1 103.4 488 102.4 488 101.4 488 100.4 487.9 99.4 487.9 98.4 487.9 97.4 487.8 96.4 487.8 95.4 487.8 94.4 487.8 93.4 487.7 92.4 487.7 91.4 487.7 90.4 487.6 89.4 487.6 88.4 487.6 87.4 487.5 86.4 487.5 85.4 487.5 84.4 487.5 83.4 487.4 82.4 487.4 81.4 487.4 80.4 487.3 79.4 487.3 78.4 487.3 77.4 487.2 76.4 487.2 75.4 487.2 74.4 487.2 73.4 487.1 72.4 487.1 71.4 487.1 70.4 487 69.4 487 68.4 487 67.4 486.9 66.4 486.9 65.4 486.9 64.4 486.9 63.4 486.8 62.4 486.8 61.4 486.8 60.4 486.7 59.4 486.7 58.4 486.7 57.4 486.6 56.4 486.6 55.4 486.6 54.4 486.6 53.4 486.5 52.4 486.5 51.4 486.5 50.4 486.4 49.4 486.4 48.4 486.4 47.4 486.3 46.4 486.3 45.4 486.3 44.4 486.3 43.4 486.2 42.4 486.2 41.4 486.2 40.4 486.1 39.4 486.1 38.4 486.1 37.4 486 36.4 486 35.4 486 34.4 486 33.4 485.9 32.4 485.9 31.4 485.9 30.4 485.8 29.4 485.8 28.4 485.8 27.4 485.7Z" fill="#ff0000" stroke="#ff0000" stroke-width="0.3"/><path d="M27.4 484.2 28.4 484.2 29.4 484.2 30.4 484.2 31.4 484.2 32.4 484.2 33.4 484.3 34.4 484.3 35.4 484.3 36.4 484.3 37.4 484.3 38.4 484.3 39.4 484.3 40.4 484.3 41.4 484.3 42.4 484.2 43.4 484.2 44.4 484.2 45.4 484.2 46.4 484.2 47.4 484.2 48.4 484.2 49.4 484.2 50.4 484.2 51.4 484.2 52.4 484.2 53.4 484.1 54.4 484.1 55.4 484.1 56.4 484.1 57.4 484.1 58.4 484 59.4 484 60.4 484 61.4 484 62.4 483.9 63.4 483.9 64.4 483.9 65.4 483.8 66.4 483.8 67.4 483.8 68.4 483.7 69.4 483.7 70.4 483.6 71.4 483.6 72.4 483.5 73.4 483.5 74.4 483.4 75.4 483.4 76.4 483.3 77.4 483.2 78.4 483.2 79.4 483.1 80.4 483 81.4 482.9 82.4 482.8 83.4 482.7 84.4 482.6 85.4 482.5 86.4 482.4 87.4 482.3 88.4 482.2 89.4 482.1 90.4 481.9 91.4 481.8 92.4 481.6 93.4 481.5 94.4 481.3 95.4 481.1 96.4 481 97.4 480.8 98.4 480.5 99.4 480.3 100.4 480.1 101.4 479.8 102.4 479.5 103.4 479.2 104.4 478.9 105.4 478.6 106.4 478.2 107.4 477.8 108.4 477.3 109.4 476.8 110.4 476.3 111.4 475.8 112.4 475.1 113.4 474.5 114.4 473.7 115.4 472.9 116.4 472 117.4 471.1 118.4 470 119.4 468.9 120.4 467.7 121.4 466.3 122.4 464.9 123.4 463.3 124.4 461.6 125.4 459.7 126.4 457.7 127.4 455.6 128.4 453.3 129.4 450.8 130.4 448.2 131.4 445.5 132.4 442.5 133.4 439.4 134.4 436.1 135.4 432.7 136.4 429.2 137.4 425.5 138.4 421.6 139.4 417.7 140.4 413.7 141.4 409.6 142.4 405.5 143.4 401.5 144.4 397.5 145.4 393.6 146.4 389.9 147.4 386.5 148.4 383.4 149.4 380.6 150.4 378.3 151.4 376.6 152.4 375.3 153.4 374.7 154.4 374.7 155.4 375.3 156.4 376.5 157.4 378.2 158.4 380.5 159.4 383.2 160.4 386.4 161.4 389.8 162.4 393.5 163.4 397.5 164.4 401.5 165.4 405.6 166.4 409.8 167.4 413.9 168.4 418 169.4 422.1 170.4 426 171.4 429.8 172.4 433.4 173.4 437 174.4 440.3 175.4 443.5 176.4 446.6 177.4 449.4 178.4 452.1 179.4 454.7 180.4 457.1 181.4 459.3 182.4 461.4 183.4 463.3 184.4 465.1 185.4 466.8 186.4 468.3 187.4 469.7 188.4 471.1 189.4 472.3 190.4 473.4 191.4 474.4 192.4 475.4 193.4 476.2 194.4 477 195.4 477.8 196.4 478.5 197.4 479.1 198.4 479.7 199.4 480.2 200.4 480.7 201.4 481.2 202.4 481.6 203.4 482.1 204.4 482.4 205.4 482.8 206.4 483.1 207.4 483.4 208.4 483.8 209.4 484 210.4 484.3 211.4 484.6 212.4 484.8 213.4 485 214.4 485.3 215.4 485.5 216.4 485.7 217.4 485.8 217.7 485.9 L217.7 491.6 217.4 491.6 216.4 491.6 215.4 491.5 214.4 491.5 213.4 491.5 212.4 491.5 211.4 491.5 210.4 491.4 209.4 491.4 208.4 491.4 207.4 491.4 206.4 491.4 205.4 491.3 204.4 491.3 203.4 491.3 202.4 491.3 201.4 491.2 200.4 491.2 199.4 491.2 198.4 491.2 197.4 491.1 196.4 491.1 195.4 491.1 194.4 491.1 193.4 491 192.4 491 191.4 491 190.4 490.9 189.4 490.9 188.4 490.9 187.4 490.9 186.4 490.8 185.4 490.8 184.4 490.8 183.4 490.8 182.4 490.7 181.4 490.7 180.4 490.7 179.4 490.6 178.4 490.6 177.4 490.6 176.4 490.6 175.4 490.5 174.4 490.5 173.4 490.4 172.4 490.4 171.4 490.4 170.4 490.3 169.4 490.3 168.4 490.2 167.4 490.2 166.4 490.2 165.4 490.1 164.4 490.1 163.4 490 162.4 490 161.4 489.9 160.4 489.9 159.4 489.8 158.4 489.8 157.4 489.8 156.4 489.7 155.4 489.7 154.4 489.6 153.4 489.6 152.4 489.6 151.4 489.5 150.4 489.5 149.4 489.4 148.4 489.4 147.4 489.4 146.4 489.3 145.4 489.3 144.4 489.3 143.4 489.2 142.4 489.2 141.4 489.2 140.4 489.1 139.4 489.1 138.4 489.1 137.4 489 136.4 489 135.4 489 134.4 489 133.4 488.9 132.4 488.9 131.4 488.9 130.4 488.8 129.4 488.8 128.4 488.8 127.4 488.7 126.4 488.7 125.4 488.7 124.4 488.7 123.4 488.6 122.4 488.6 121.4 488.6 120.4 488.5 119.4 488.5 118.4 488.5 117.4 488.4 116.4 488.4 115.4 488.4 114.4 488.4 113.4 488.3 112.4 488.3 111.4 488.3 110.4 488.2 109.4 488.2 108.4 488.2 107.4 488.1 106.4 488.1 105.4 488.1 104.4 488.1 103.4 488 102.4 488 101.4 488 100.4 487.9 99.4 487.9 98.4 487.9 97.4 487.8 96.4 487.8 95.4 487.8 94.4 487.8 93.4 487.7 92.4 487.7 91.4 487.7 90.4 487.6 89.4 487.6 88.4 487.6 87.4 487.5 86.4 487.5 85.4 487.5 84.4 487.5 83.4 487.4 82.4 487.4 81.4 487.4 80.4 487.3 79.4 487.3 78.4 487.3 77.4 487.2 76.4 487.2 75.4 487.2 74.4 487.2 73.4 487.1 72.4 487.1 71.4 487.1 70.4 487 69.4 487 68.4 487 67.4 486.9 66.4 486.9 65.4 486.9 64.4 486.9 63.4 486.8 62.4 486.8 61.4 486.8 60.4 486.7 59.4 486.7 58.4 486.7 57.4 486.6 56.4 486.6 55.4 486.6 54.4 486.6 53.4 486.5 52.4 486.5 51.4 486.5 50.4 486.4 49.4 486.4 48.4 486.4 47.4 486.3 46.4 486.3 45.4 486.3 44.4 486.3 43.4 486.2 42.4 486.2 41.4 486.2 40.4 486.1 39.4 486.1 38.4 486.1 37.4 486 36.4 486 35.4 486 34.4 486 33.4 485.9 32.4 485.9 31.4 485.9 30.4 485.8 29.4 485.8 28.4 485.8 27.4 485.7Z" fill="#ff0000" stroke="#ff0000" stroke-width="0.3"/><path d="M27.4 485.7 28.4 485.8 29.4 485.8 30.4 485.8 31.4 485.9 32.4 485.9 33.4 485.9 34.4 486 35.4 486 36.4 486 37.4 486 38.4 486.1 39.4 486.1 40.4 486.1 41.4 486.2 42.4 486.2 43.4 486.2 44.4 486.3 45.4 486.3 46.4 486.3 47.4 486.3 48.4 486.4 49.4 486.4 50.4 486.4 51.4 486.5 52.4 486.5 53.4 486.5 54.4 486.6 55.4 486.6 56.4 486.6 57.4 486.6 58.4 486.7 59.4 486.7 60.4 486.7 61.4 486.8 62.4 486.8 63.4 486.8 64.4 486.9 65.4 486.9 66.4 486.9 67.4 486.9 68.4 487 69.4 487 70.4 487 71.4 487.1 72.4 487.1 73.4 487.1 74.4 487.2 75.4 487.2 76.4 487.2 77.4 487.2 78.4 487.3 79.4 487.3 80.4 487.3 81.4 487.4 82.4 487.4 83.4 487.4 84.4 487.5 85.4 487.5 86.4 487.5 87.4 487.5 88.4 487.6 89.4 487.6 90.4 487.6 91.4 487.7 92.4 487.7 93.4 487.7 94.4 487.8 95.4 487.8 96.4 487.8 97.4 487.8 98.4 487.9 99.4 487.9 100.4 487.9 101.4 488 102.4 488 103.4 488 104.4 488.1 105.4 488.1 106.4 488.1 107.4 488.1 108.4 488.2 109.4 488.2 110.4 488.2 111.4 488.3 112.4 488.3 113.4 488.3 114.4 488.4 115.4 488.4 116.4 488.4 117.4 488.4 118.4 488.5 119.4 488.5 120.4 488.5 121.4 488.6 122.4 488.6 123.4 488.6 124.4 488.7 125.4 488.7 126.4 488.7 127.4 488.7 128.4 488.8 129.4 488.8 130.4 488.8 131.4 488.9 132.4 488.9 133.4 488.9 134.4 489 135.4 489 136.4 489 137.4 489 138.4 489.1 139.4 489.1 140.4 489.1 141.4 489.2 142.4 489.2 143.4 489.2 144.4 489.3 145.4 489.3 146.4 489.3 147.4 489.4 148.4 489.4 149.4 489.4 150.4 489.5 151.4 489.5 152.4 489.6 153.4 489.6 154.4 489.6 155.4 489.7 156.4 489.7 157.4 489.8 158.4 489.8 159.4 489.8 160.4 489.9 161.4 489.9 162.4 490 163.4 490 164.4 490.1 165.4 490.1 166.4 490.2 167.4 490.2 168.4 490.2 169.4 490.3 170.4 490.3 171.4 490.4 172.4 490.4 173.4 490.4 174.4 490.5 175.4 490.5 176.4 490.6 177.4 490.6 178.4 490.6 179.4 490.6 180.4 490.7 181.4 490.7 182.4 490.7 183.4 490.8 184.4 490.8 185.4 490.8 186.4 490.8 187.4 490.9 188.4 490.9 189.4 490.9 190.4 490.9 191.4 491 192.4 491 193.4 491 194.4 491.1 195.4 491.1 196.4 491.1 197.4 491.1 198.4 491.2 199.4 491.2 200.4 491.2 201.4 491.2 202.4 491.3 203.4 491.3 204.4 491.3 205.4 491.3 206.4 491.4 207.4 491.4 208.4 491.4 209.4 491.4 210.4 491.4 211.4 491.5 212.4 491.5 213.4 491.5 214.4 491.5 215.4 491.5 216.4 491.6 217.4 491.6 217.7 491.6" fill="none" stroke="#ff0000" stroke-width="0.8"/><path d="M27.4 483.5 28.4 483.5 29.4 483.5 30.4 483.4 31.4 483.4 32.4 483.4 33.4 483.4 34.4 483.4 35.4 483.4 36.4 483.4 37.4 483.3 38.4 483.3 39.4 483.3 40.4 483.3 41.4 483.2 42.4 483.2 43.4 483.2 44.4 483.1 45.4 483.1 46.4 483 47.4 482.9 48.4 482.9 49.4 482.8 50.4 482.7 51.4 482.5 52.4 482.4 53.4 482.2 54.4 482.1 55.4 481.8 56.4 481.6 57.4 481.3 58.4 481 59.4 480.6 60.4 480.2 61.4 479.7 62.4 479.2 63.4 478.5 64.4 477.8 65.4 477.1 66.4 476.2 67.4 475.2 68.4 474.1 69.4 472.9 70.4 471.5 71.4 470.1 72.4 468.5 73.4 466.7 74.4 464.9 75.4 462.8 76.4 460.7 77.4 458.4 78.4 455.9 79.4 453.3 80.4 450.6 81.4 447.8 82.4 444.9 83.4 441.9 84.4 438.9 85.4 435.7 86.4 432.6 87.4 429.5 88.4 426.3 89.4 423.3 90.4 420.3 91.4 417.4 92.4 414.7 93.4 412.1 94.4 409.7 95.4 407.6 96.4 405.7 97.4 404 98.4 402.7 99.4 401.6 100.4 400.9 101.4 400.5 102.4 400.4 103.4 400.7 104.4 401.2 105.4 402.1 106.4 403.2 107.4 404.6 108.4 406.1 109.4 407.9 110.4 409.8 111.4 411.9 112.4 414 113.4 416.2 114.4 418.5 115.4 420.7 116.4 422.8 117.4 424.9 118.4 426.8 119.4 428.7 120.4 430.3 121.4 431.8 122.4 433 123.4 434 124.4 434.8 125.4 435.3 126.4 435.5 127.4 435.5 128.4 435.1 129.4 434.5 130.4 433.5 131.4 432.2 132.4 430.7 133.4 428.9 134.4 426.7 135.4 424.3 136.4 421.7 137.4 418.8 138.4 415.7 139.4 412.5 140.4 409 141.4 405.5 142.4 401.8 143.4 398.2 144.4 394.5 145.4 390.9 146.4 387.5 147.4 384.3 148.4 381.3 149.4 378.8 150.4 376.6 151.4 375 152.4 373.8 153.4 373.3 154.4 373.3 155.4 374 156.4 375.3 157.4 377.1 158.4 379.4 159.4 382.2 160.4 385.3 161.4 388.8 162.4 392.6 163.4 396.5 164.4 400.6 165.4 404.7 166.4 408.9 167.4 413.1 168.4 417.2 169.4 421.2 170.4 425.2 171.4 429 172.4 432.7 173.4 436.2 174.4 439.6 175.4 442.8 176.4 445.8 177.4 448.7 178.4 451.4 179.4 454 180.4 456.4 181.4 458.6 182.4 460.7 183.4 462.6 184.4 464.4 185.4 466.1 186.4 467.7 187.4 469.1 188.4 470.4 189.4 471.6 190.4 472.8 191.4 473.8 192.4 474.8 193.4 475.6 194.4 476.4 195.4 477.2 196.4 477.9 197.4 478.5 198.4 479.1 199.4 479.7 200.4 480.2 201.4 480.6 202.4 481.1 203.4 481.5 204.4 481.9 205.4 482.3 206.4 482.6 207.4 482.9 208.4 483.2 209.4 483.5 210.4 483.8 211.4 484 212.4 484.3 213.4 484.5 214.4 484.8 215.4 485 216.4 485.2 217.4 485.4 217.7 485.4" fill="none" stroke="#000" stroke-width="1" stroke-linejoin="round"/></g>
<path d="M27.4 500.4 v-2.4M59.12 500.4 v-2.4M90.83 500.4 v-2.4M122.55 500.4 v-2.4M154.27 500.4 v-2.4M185.98 500.4 v-2.4M217.7 500.4 v-2.4" stroke="#000" stroke-width="0.9" fill="none"/><path d="M43.26 500.4 v-1.4M74.97 500.4 v-1.4M106.69 500.4 v-1.4M138.41 500.4 v-1.4M170.12 500.4 v-1.4M201.84 500.4 v-1.4" stroke="#000" stroke-width="0.8" fill="none"/><rect x="27.4" y="359.3" width="190.3" height="141.1" fill="none" stroke="#262626" stroke-width="0.95"/><g class="t" font-size="7.8" text-anchor="middle"><text x="27.4" y="509.8">21</text><text x="59.12" y="509.8">20</text><text x="90.83" y="509.8">19</text><text x="122.55" y="509.8">18</text><text x="154.27" y="509.8">17</text><text x="185.98" y="509.8">16</text><text x="217.7" y="509.8">15</text></g><text x="122.25" y="517.2" font-size="8" text-anchor="middle" font-family='"Liberation Sans", sans-serif'>Binding Energy(eV)</text><text transform="translate(17.5 427.7) rotate(-90)" font-size="8" text-anchor="middle" font-family='"Liberation Sans", sans-serif'>Intensity(a.u)</text><text x="4" y="374.2" font-size="13.2">(g)</text><text x="32" y="373.1" font-size="9.9">Hf4f</text>
<line x1="127.59" y1="395.33" x2="135.99" y2="427.23" stroke="#000" stroke-width="0.8"/><path d="M135.99 427.23 L134.25 424.58 L136.19 424.07 Z" fill="#000"/>
<line x1="72.19" y1="423.2" x2="85.62" y2="436.63" stroke="#000" stroke-width="0.8"/><path d="M85.62 436.63 L82.79 435.21 L84.21 433.8 Z" fill="#000"/>
<text x="99" y="390.3" font-size="10.4" text-anchor="start"><tspan dy="0">Hf</tspan><tspan dy="-4.26" font-size="7.07">4+</tspan><tspan dy="4.26"> 4f</tspan><tspan dy="2.5" font-size="7.07">7/2</tspan></text>
<text x="43" y="419.5" font-size="10.4" text-anchor="start"><tspan dy="0">Hf</tspan><tspan dy="-4.26" font-size="7.07">4+</tspan><tspan dy="4.26"> 4f</tspan><tspan dy="2.5" font-size="7.07">5/2</tspan></text>
</g>
<g id="ph">
<clipPath id="ch"><rect x="254.3" y="359.3" width="190.2" height="141.1"/></clipPath><g clip-path="url(#ch)"><path d="M254.3 431.6 255.2 431.3 256 446.5 256.9 425.1 257.8 439.2 258.6 425.2 259.5 450.2 260.4 447.6 261.2 456.2 262.1 442.9 262.9 448.3 263.8 444.3 264.7 440.1 265.5 447.1 266.4 437.3 267.3 443.1 268.1 453.1 269 449.7 269.9 445.5 270.7 466.2 271.6 452.7 272.5 445.3 273.3 450.8 274.2 446.6 275 447.2 275.9 448.1 276.8 467.4 277.6 454.8 278.5 453.8 279.4 458.3 280.2 469.9 281.1 454 282 448.4 282.8 472.7 283.7 445.6 284.6 449.6 285.4 459.3 286.3 473.6 287.2 480 288 434.7 288.9 457.3 289.7 451.9 290.6 451.6 291.5 458.5 292.3 457.6 293.2 457.9 294.1 452.2 294.9 464.7 295.8 468.4 296.7 457.1 297.5 451.4 298.4 459.8 299.3 459.1 300.1 446.8 301 449.2 301.9 461.3 302.7 454 303.6 450.4 304.4 453.9 305.3 452.3 306.2 451.7 307 436.4 307.9 461.8 308.8 453.7 309.6 442.9 310.5 455.1 311.4 451.3 312.2 447.4 313.1 453.9 314 463.2 314.8 450.5 315.7 455 316.5 459.1 317.4 434.4 318.3 432.8 319.1 441.4 320 422.8 320.9 428.7 321.7 439.9 322.6 437.8 323.5 432 324.3 411.4 325.2 436.9 326.1 426.5 326.9 423.7 327.8 419.7 328.7 401.7 329.5 399.1 330.4 398.9 331.2 418.5 332.1 401.2 333 400.4 333.8 399.3 334.7 403.4 335.6 402.5 336.4 399.9 337.3 388.9 338.2 374.6 339 374.4 339.9 398.1 340.8 404.7 341.6 397.7 342.5 393.9 343.3 401 344.2 390.8 345.1 393.5 345.9 395.9 346.8 405.8 347.7 420.3 348.5 415.6 349.4 418.6 350.3 415.2 351.1 416.6 352 414 352.9 416.2 353.7 404.7 354.6 412.1 355.5 414.6 356.3 429.6 357.2 432.3 358 436.6 358.9 441.2 359.8 431 360.6 439 361.5 447.3 362.4 436.6 363.2 442.5 364.1 436.3 365 426.4 365.8 436.6 366.7 432.7 367.6 438 368.4 435.4 369.3 439.9 370.1 424.6 371 449.2 371.9 448.4 372.7 436 373.6 429.9 374.5 434.5 375.3 439 376.2 437.1 377.1 435.6 377.9 419.1 378.8 421.1 379.7 437.3 380.5 431.7 381.4 418.3 382.3 420.2 383.1 416.7 384 418.8 384.8 433.9 385.7 427.3 386.6 435.4 387.4 431.3 388.3 419.9 389.2 424.9 390 447 390.9 430.7 391.8 426.9 392.6 443.5 393.5 439.6 394.4 439 395.2 450.3 396.1 431 397 443.6 397.8 436.9 398.7 433.9 399.5 438.5 400.4 453.5 401.3 447.5 402.1 435.1 403 439 403.9 458.7 404.7 458.8 405.6 444.1 406.5 466.9 407.3 451.8 408.2 443.5 409.1 450.6 409.9 459.8 410.8 466.3 411.6 463.5 412.5 453.2 413.4 451.2 414.2 445.2 415.1 481.5 416 452.9 416.8 458.8 417.7 449.5 418.6 453.6 419.4 452.3 420.3 450.1 421.2 450.3 422 451.9 422.9 451.4 423.8 464.2 424.6 463.2 425.5 452.9 426.3 464.8 427.2 465.7 428.1 474.2 428.9 464 429.8 462.3 430.7 484 431.5 464.9 432.4 468.8 433.3 467.2 434.1 464 435 469.8 435.9 467.6 436.7 468.5 437.6 460.3 438.4 467.6 439.3 460.4 440.2 460.4 441 468.2 441.9 484 442.8 478.4 443.6 470.1 444.5 467.8" fill="none" stroke="#000" stroke-width="1.08" stroke-linejoin="miter" stroke-miterlimit="3"/></g>
<path d="M254.3 500.4 v-2.4M288.88 500.4 v-2.4M323.46 500.4 v-2.4M358.05 500.4 v-2.4M392.63 500.4 v-2.4M427.21 500.4 v-2.4" stroke="#000" stroke-width="0.9" fill="none"/><path d="M271.59 500.4 v-1.4M306.17 500.4 v-1.4M340.75 500.4 v-1.4M375.34 500.4 v-1.4M409.92 500.4 v-1.4" stroke="#000" stroke-width="0.8" fill="none"/><rect x="254.3" y="359.3" width="190.2" height="141.1" fill="none" stroke="#262626" stroke-width="0.95"/><g class="t" font-size="7.8" text-anchor="middle"><text x="254.3" y="509.8">118</text><text x="288.88" y="509.8">116</text><text x="323.46" y="509.8">114</text><text x="358.05" y="509.8">112</text><text x="392.63" y="509.8">110</text><text x="427.21" y="509.8">108</text></g><text x="357.3" y="517.9" font-size="8.8" text-anchor="middle" font-family='"Liberation Serif", serif'>Binding Energy(eV)</text><text transform="translate(247.1 424.2) rotate(-90)" font-size="8.8" text-anchor="middle" font-family='"Liberation Serif", serif'>Intensity(a.u)</text><text x="232" y="367.4" font-size="13.2">(h)</text><text x="258.4" y="373.7" font-size="10.9">Be1s</text>
<text x="322" y="376.2" font-size="11.4" text-anchor="start"><tspan dy="0">Be</tspan><tspan dy="-4.33" font-size="10.26">2+</tspan><tspan dy="4.33"> 1s</tspan></text>
</g>
<g id="pi">
<clipPath id="ci"><rect x="483.6" y="359.3" width="190.9" height="141.1"/></clipPath><g clip-path="url(#ci)"><path d="M483.6 471.1 484.6 471.1 485.6 471.1 486.6 471.1 487.6 471.1 488.6 471.1 489.6 471 490.6 471 491.6 470.9 492.6 470.8 493.6 470.6 494.6 470.4 495.6 470.2 496.6 469.9 497.6 469.6 498.6 469.2 499.6 468.8 500.6 468.3 501.6 467.7 502.6 467.1 503.6 466.3 504.6 465.5 505.6 464.6 506.6 463.6 507.6 462.5 508.6 461.3 509.6 460.1 510.6 458.8 511.6 457.4 512.6 456 513.6 454.6 514.6 453.2 515.6 451.8 516.6 450.4 517.6 449.1 518.6 447.9 519.6 446.7 520.6 445.7 521.6 444.9 522.6 444.1 523.6 443.6 524.6 443.2 525.6 443.1 526.6 443.1 527.6 443.3 528.6 443.7 529.6 444.3 530.6 445.1 531.6 446 532.6 447.1 533.6 448.3 534.6 449.6 535.6 451 536.6 452.5 537.6 453.9 538.6 455.5 539.6 457 540.6 458.4 541.6 459.9 542.6 461.3 543.6 462.6 544.6 463.9 545.6 465.1 546.6 466.2 547.6 467.2 548.6 468.1 549.6 468.9 550.6 469.6 551.6 470.2 552.6 470.8 553.6 471.2 554.6 471.6 555.6 471.9 556.6 472.1 557.6 472.2 558.6 472.3 559.6 472.3 560.6 472.2 561.6 472.1 562.6 471.9 563.6 471.7 564.6 471.4 565.6 471.1 566.6 470.8 567.6 470.4 568.6 470 569.6 469.5 570.6 469.1 571.6 468.6 572.6 468 573.6 467.4 574.6 466.8 575.6 465.9 576.6 464.9 577.6 463.6 578.6 461.9 579.6 459.8 580.6 457.1 581.6 453.8 582.6 449.7 583.6 444.7 584.6 438.9 585.6 432.3 586.6 425 587.6 417.2 588.6 409 589.6 400.9 590.6 393.1 591.6 386.1 592.6 380.3 593.6 376.2 594.6 373.9 595.6 373.7 596.6 375.7 597.6 379.8 598.6 385.6 599.6 392.9 600.6 401.2 601.6 410.1 602.6 419.2 603.6 428.2 604.6 436.6 605.6 444.5 606.6 451.5 607.6 457.5 608.6 462.7 609.6 467 610.6 470.5 611.6 473.3 612.6 475.4 613.6 477 614.6 478.3 615.6 479.2 616.6 479.8 617.6 480.3 618.6 480.6 619.6 480.9 620.6 481 621.6 481.1 622.6 481.2 623.6 481.2 624.6 481.3 625.6 481.3 626.6 481.2 627.6 481.2 628.6 481.2 629.6 481.1 630.6 481.1 631.6 481 632.6 480.9 633.6 480.9 634.6 480.8 635.6 480.7 636.6 480.6 637.6 480.5 638.6 480.4 639.6 480.3 640.6 480.2 641.6 480.2 642.6 480.1 643.6 480 644.6 480 645.6 479.9 646.6 479.9 647.6 479.9 648.6 479.9 649.6 479.9 650.6 479.9 651.6 480 652.6 480 653.6 480.1 654.6 480.2 655.6 480.3 656.6 480.4 657.6 480.5 658.6 480.7 659.6 480.8 660.6 481 661.6 481.1 662.6 481.3 663.6 481.5 664.6 481.7 665.6 481.8 666.6 482 667.6 482.2 668.6 482.4 669.6 482.5 670.6 482.7 671.6 482.9 672.6 483 673.6 483.1 674.5 483.3" fill="none" stroke="#000" stroke-width="1" stroke-linejoin="round"/><path d="M488.6 471.4 489.6 471.4 490.6 471.3 491.6 471.2 492.6 471.1 493.6 471 494.6 470.8 495.6 470.6 496.6 470.3 497.6 470 498.6 469.6 499.6 469.2 500.6 468.7 501.6 468.1 502.6 467.4 503.6 466.7 504.6 465.9 505.6 465 506.6 464 507.6 462.9 508.6 461.7 509.6 460.5 510.6 459.2 511.6 457.8 512.6 456.4 513.6 455 514.6 453.6 515.6 452.2 516.6 450.8 517.6 449.5 518.6 448.3 519.6 447.2 520.6 446.2 521.6 445.3 522.6 444.6 523.6 444 524.6 443.7 525.6 443.5 526.6 443.5 527.6 443.8 528.6 444.2 529.6 444.8 530.6 445.6 531.6 446.5 532.6 447.6 533.6 448.8 534.6 450.1 535.6 451.5 536.6 453 537.6 454.5 538.6 456 539.6 457.5 540.6 459 541.6 460.4 542.6 461.9 543.6 463.2 544.6 464.5 545.6 465.7 546.6 466.8 547.6 467.8 548.6 468.8 549.6 469.6 550.6 470.4 551.6 471.1 552.6 471.7 553.6 472.3 554.6 472.8 555.6 473.2 556.6 473.6 557.6 473.9 558.6 474.2 559.6 474.5 560.6 474.7 561.6 474.9 562.6 475.1 563.6 475.3 L563.6 475.6 562.6 475.5 561.6 475.4 560.6 475.3 559.6 475.2 558.6 475.1 557.6 475.1 556.6 475 555.6 474.9 554.6 474.8 553.6 474.8 552.6 474.7 551.6 474.6 550.6 474.6 549.6 474.5 548.6 474.4 547.6 474.3 546.6 474.3 545.6 474.2 544.6 474.1 543.6 474.1 542.6 474 541.6 473.9 540.6 473.9 539.6 473.8 538.6 473.7 537.6 473.7 536.6 473.6 535.6 473.5 534.6 473.5 533.6 473.4 532.6 473.4 531.6 473.3 530.6 473.2 529.6 473.2 528.6 473.1 527.6 473.1 526.6 473 525.6 473 524.6 472.9 523.6 472.9 522.6 472.8 521.6 472.8 520.6 472.8 519.6 472.7 518.6 472.7 517.6 472.6 516.6 472.6 515.6 472.6 514.6 472.5 513.6 472.5 512.6 472.5 511.6 472.4 510.6 472.4 509.6 472.4 508.6 472.3 507.6 472.3 506.6 472.3 505.6 472.2 504.6 472.2 503.6 472.2 502.6 472.1 501.6 472.1 500.6 472.1 499.6 472 498.6 472 497.6 472 496.6 472 495.6 471.9 494.6 471.9 493.6 471.9 492.6 471.8 491.6 471.8 490.6 471.8 489.6 471.7 488.6 471.7Z" fill="#ff0000" stroke="#ff0000" stroke-width="0.6"/><path d="M546.6 474 547.6 474 548.6 474.1 549.6 474.2 550.6 474.2 551.6 474.3 552.6 474.3 553.6 474.4 554.6 474.4 555.6 474.5 556.6 474.5 557.6 474.6 558.6 474.6 559.6 474.7 560.6 474.7 561.6 474.8 562.6 474.9 563.6 474.9 564.6 475 565.6 475 566.6 475 567.6 475.1 568.6 475.1 569.6 475.1 570.6 475.1 571.6 475 572.6 474.8 573.6 474.6 574.6 474.2 575.6 473.6 576.6 472.8 577.6 471.6 578.6 470 579.6 467.8 580.6 465 581.6 461.5 582.6 457.1 583.6 451.9 584.6 445.7 585.6 438.7 586.6 431 587.6 422.7 588.6 414.1 589.6 405.5 590.6 397.2 591.6 389.8 592.6 383.6 593.6 379.1 594.6 376.4 595.6 375.9 596.6 377.7 597.6 381.4 598.6 387.1 599.6 394.1 600.6 402.3 601.6 411 602.6 420 603.6 428.8 604.6 437.3 605.6 445 606.6 452 607.6 458 608.6 463.2 609.6 467.4 610.6 470.9 611.6 473.7 612.6 475.8 613.6 477.5 614.6 478.7 615.6 479.6 616.6 480.3 617.6 480.8 618.6 481.2 619.6 481.4 620.6 481.6 621.6 481.8 622.6 481.9 623.6 482 624.6 482.1 625.6 482.2 626.6 482.3 627.6 482.3 628.6 482.4 629.6 482.5 630.6 482.5 631.6 482.6 632.6 482.6 633.6 482.7 634.6 482.7 635.6 482.7 636.6 482.8 637.6 482.8 638.6 482.9 639.6 482.9 640.6 483 641.6 483 642.6 483.1 643.6 483.1 L643.6 483.4 642.6 483.4 641.6 483.3 640.6 483.3 639.6 483.3 638.6 483.2 637.6 483.2 636.6 483.2 635.6 483.2 634.6 483.1 633.6 483.1 632.6 483.1 631.6 483.1 630.6 483.1 629.6 483 628.6 483 627.6 483 626.6 483 625.6 482.9 624.6 482.9 623.6 482.9 622.6 482.9 621.6 482.8 620.6 482.8 619.6 482.8 618.6 482.7 617.6 482.7 616.6 482.6 615.6 482.6 614.6 482.5 613.6 482.4 612.6 482.4 611.6 482.3 610.6 482.2 609.6 482.1 608.6 482 607.6 481.8 606.6 481.7 605.6 481.6 604.6 481.4 603.6 481.3 602.6 481.1 601.6 480.9 600.6 480.8 599.6 480.6 598.6 480.4 597.6 480.3 596.6 480.1 595.6 479.9 594.6 479.7 593.6 479.6 592.6 479.4 591.6 479.2 590.6 479 589.6 478.9 588.6 478.7 587.6 478.6 586.6 478.4 585.6 478.2 584.6 478.1 583.6 477.9 582.6 477.8 581.6 477.7 580.6 477.5 579.6 477.4 578.6 477.3 577.6 477.1 576.6 477 575.6 476.9 574.6 476.7 573.6 476.6 572.6 476.5 571.6 476.4 570.6 476.3 569.6 476.2 568.6 476.1 567.6 476 566.6 475.9 565.6 475.8 564.6 475.7 563.6 475.6 562.6 475.5 561.6 475.4 560.6 475.3 559.6 475.2 558.6 475.1 557.6 475.1 556.6 475 555.6 474.9 554.6 474.8 553.6 474.8 552.6 474.7 551.6 474.6 550.6 474.6 549.6 474.5 548.6 474.4 547.6 474.3 546.6 474.3Z" fill="#ff0000" stroke="#ff0000" stroke-width="0.6"/><path d="M552.6 474.4 553.6 474.4 554.6 474.4 555.6 474.3 556.6 474.2 557.6 474.1 558.6 474 559.6 473.9 560.6 473.7 561.6 473.5 562.6 473.2 563.6 473 564.6 472.7 565.6 472.3 566.6 472 567.6 471.7 568.6 471.3 569.6 471 570.6 470.6 571.6 470.3 572.6 470 573.6 469.8 574.6 469.6 575.6 469.5 576.6 469.4 577.6 469.5 578.6 469.6 579.6 469.7 580.6 470 581.6 470.3 582.6 470.7 583.6 471.1 584.6 471.6 585.6 472.2 586.6 472.7 587.6 473.3 588.6 474 589.6 474.6 590.6 475.2 591.6 475.8 592.6 476.4 593.6 476.9 594.6 477.5 595.6 478 596.6 478.5 597.6 478.9 598.6 479.3 599.6 479.7 600.6 480 601.6 480.3 602.6 480.6 603.6 480.9 604.6 481.1 L604.6 481.4 603.6 481.3 602.6 481.1 601.6 480.9 600.6 480.8 599.6 480.6 598.6 480.4 597.6 480.3 596.6 480.1 595.6 479.9 594.6 479.7 593.6 479.6 592.6 479.4 591.6 479.2 590.6 479 589.6 478.9 588.6 478.7 587.6 478.6 586.6 478.4 585.6 478.2 584.6 478.1 583.6 477.9 582.6 477.8 581.6 477.7 580.6 477.5 579.6 477.4 578.6 477.3 577.6 477.1 576.6 477 575.6 476.9 574.6 476.7 573.6 476.6 572.6 476.5 571.6 476.4 570.6 476.3 569.6 476.2 568.6 476.1 567.6 476 566.6 475.9 565.6 475.8 564.6 475.7 563.6 475.6 562.6 475.5 561.6 475.4 560.6 475.3 559.6 475.2 558.6 475.1 557.6 475.1 556.6 475 555.6 474.9 554.6 474.8 553.6 474.8 552.6 474.7Z" fill="#1ffcff" stroke="#1ffcff" stroke-width="0.6"/><path d="M619.6 482.5 620.6 482.5 621.6 482.5 622.6 482.4 623.6 482.4 624.6 482.3 625.6 482.3 626.6 482.2 627.6 482.2 628.6 482.1 629.6 482 630.6 481.9 631.6 481.8 632.6 481.7 633.6 481.6 634.6 481.5 635.6 481.4 636.6 481.3 637.6 481.2 638.6 481.1 639.6 481 640.6 480.9 641.6 480.8 642.6 480.7 643.6 480.6 644.6 480.6 645.6 480.5 646.6 480.5 647.6 480.4 648.6 480.4 649.6 480.4 650.6 480.5 651.6 480.5 652.6 480.5 653.6 480.6 654.6 480.7 655.6 480.8 656.6 480.9 657.6 481 658.6 481.1 659.6 481.3 660.6 481.4 661.6 481.6 662.6 481.8 663.6 481.9 664.6 482.1 665.6 482.3 666.6 482.5 667.6 482.6 668.6 482.8 669.6 483 670.6 483.1 671.6 483.3 672.6 483.4 673.6 483.6 674.5 483.7 L674.5 484.6 673.6 484.5 672.6 484.5 671.6 484.5 670.6 484.4 669.6 484.4 668.6 484.4 667.6 484.3 666.6 484.3 665.6 484.3 664.6 484.2 663.6 484.2 662.6 484.1 661.6 484.1 660.6 484.1 659.6 484 658.6 484 657.6 483.9 656.6 483.9 655.6 483.8 654.6 483.8 653.6 483.8 652.6 483.7 651.6 483.7 650.6 483.6 649.6 483.6 648.6 483.6 647.6 483.5 646.6 483.5 645.6 483.5 644.6 483.4 643.6 483.4 642.6 483.4 641.6 483.3 640.6 483.3 639.6 483.3 638.6 483.2 637.6 483.2 636.6 483.2 635.6 483.2 634.6 483.1 633.6 483.1 632.6 483.1 631.6 483.1 630.6 483.1 629.6 483 628.6 483 627.6 483 626.6 483 625.6 482.9 624.6 482.9 623.6 482.9 622.6 482.9 621.6 482.8 620.6 482.8 619.6 482.8Z" fill="#1ffcff" stroke="#1ffcff" stroke-width="0.6"/><path d="M483.6 471.6 484.6 471.6 485.6 471.6 486.6 471.7 487.6 471.7 488.6 471.7 489.6 471.7 490.6 471.8 491.6 471.8 492.6 471.8 493.6 471.9 494.6 471.9 495.6 471.9 496.6 472 497.6 472 498.6 472 499.6 472 500.6 472.1 501.6 472.1 502.6 472.1 503.6 472.2 504.6 472.2 505.6 472.2 506.6 472.3 507.6 472.3 508.6 472.3 509.6 472.4 510.6 472.4 511.6 472.4 512.6 472.5 513.6 472.5 514.6 472.5 515.6 472.6 516.6 472.6 517.6 472.6 518.6 472.7 519.6 472.7 520.6 472.8 521.6 472.8 522.6 472.8 523.6 472.9 524.6 472.9 525.6 473 526.6 473 527.6 473.1 528.6 473.1 529.6 473.2 530.6 473.2 531.6 473.3 532.6 473.4 533.6 473.4 534.6 473.5 535.6 473.5 536.6 473.6 537.6 473.7 538.6 473.7 539.6 473.8 540.6 473.9 541.6 473.9 542.6 474 543.6 474.1 544.6 474.1 545.6 474.2 546.6 474.3 547.6 474.3 548.6 474.4 549.6 474.5 550.6 474.6 551.6 474.6 552.6 474.7 553.6 474.8 554.6 474.8 555.6 474.9 556.6 475 557.6 475.1 558.6 475.1 559.6 475.2 560.6 475.3 561.6 475.4 562.6 475.5 563.6 475.6 564.6 475.7 565.6 475.8 566.6 475.9 567.6 476 568.6 476.1 569.6 476.2 570.6 476.3 571.6 476.4 572.6 476.5 573.6 476.6 574.6 476.7 575.6 476.9 576.6 477 577.6 477.1 578.6 477.3 579.6 477.4 580.6 477.5 581.6 477.7 582.6 477.8 583.6 477.9 584.6 478.1 585.6 478.2 586.6 478.4 587.6 478.6 588.6 478.7 589.6 478.9 590.6 479 591.6 479.2 592.6 479.4 593.6 479.6 594.6 479.7 595.6 479.9 596.6 480.1 597.6 480.3 598.6 480.4 599.6 480.6 600.6 480.8 601.6 480.9 602.6 481.1 603.6 481.3 604.6 481.4 605.6 481.6 606.6 481.7 607.6 481.8 608.6 482 609.6 482.1 610.6 482.2 611.6 482.3 612.6 482.4 613.6 482.4 614.6 482.5 615.6 482.6 616.6 482.6 617.6 482.7 618.6 482.7 619.6 482.8 620.6 482.8 621.6 482.8 622.6 482.9 623.6 482.9 624.6 482.9 625.6 482.9 626.6 483 627.6 483 628.6 483 629.6 483 630.6 483.1 631.6 483.1 632.6 483.1 633.6 483.1 634.6 483.1 635.6 483.2 636.6 483.2 637.6 483.2 638.6 483.2 639.6 483.3 640.6 483.3 641.6 483.3 642.6 483.4 643.6 483.4 644.6 483.4 645.6 483.5 646.6 483.5 647.6 483.5 648.6 483.6 649.6 483.6 650.6 483.6 651.6 483.7 652.6 483.7 653.6 483.8 654.6 483.8 655.6 483.8 656.6 483.9 657.6 483.9 658.6 484 659.6 484 660.6 484.1 661.6 484.1 662.6 484.1 663.6 484.2 664.6 484.2 665.6 484.3 666.6 484.3 667.6 484.3 668.6 484.4 669.6 484.4 670.6 484.4 671.6 484.5 672.6 484.5 673.6 484.5 674.5 484.6" fill="none" stroke="#1ffcff" stroke-width="0.8"/></g>
<path d="M483.6 500.4 v-2.4M507.46 500.4 v-2.4M531.33 500.4 v-2.4M555.19 500.4 v-2.4M579.05 500.4 v-2.4M602.91 500.4 v-2.4M626.77 500.4 v-2.4M650.64 500.4 v-2.4M674.5 500.4 v-2.4" stroke="#000" stroke-width="0.9" fill="none"/><path d="M495.53 500.4 v-1.4M519.39 500.4 v-1.4M543.26 500.4 v-1.4M567.12 500.4 v-1.4M590.98 500.4 v-1.4M614.84 500.4 v-1.4M638.71 500.4 v-1.4M662.57 500.4 v-1.4" stroke="#000" stroke-width="0.8" fill="none"/><rect x="483.6" y="359.3" width="190.9" height="141.1" fill="none" stroke="#262626" stroke-width="0.95"/><g class="t" font-size="7.8" text-anchor="middle"><text x="483.6" y="509.8">468</text><text x="507.46" y="509.8">466</text><text x="531.33" y="509.8">464</text><text x="555.19" y="509.8">462</text><text x="579.05" y="509.8">460</text><text x="602.91" y="509.8">458</text><text x="626.77" y="509.8">456</text><text x="650.64" y="509.8">454</text><text x="674.5" y="509.8">452</text></g><text x="575.95" y="518.6" font-size="8.05" text-anchor="middle" font-family='"Liberation Serif", serif'>Binding Energy(eV)</text><text transform="translate(478.5 424.7) rotate(-90)" font-size="8.2" text-anchor="middle" font-family='"Liberation Serif", serif'>Intensity(a.u)</text><text x="459.8" y="367.4" font-size="13.2">(i)</text><text x="491" y="372.8" font-size="9.9">Ti 2p</text>
<line x1="574.87" y1="426.55" x2="574.87" y2="468.19" stroke="#9a9a9a" stroke-width="1.5"/>
<line x1="618.85" y1="379.55" x2="600.05" y2="394.32" stroke="#000" stroke-width="0.8"/><path d="M600.05 394.32 L601.79 391.68 L603.03 393.25 Z" fill="#000"/>
<line x1="526.18" y1="439.31" x2="526.18" y2="443.68" stroke="#000" stroke-width="0.8"/><path d="M526.18 443.68 L525.18 440.68 L527.18 440.68 Z" fill="#000"/>
<line x1="652.43" y1="467.52" x2="652.43" y2="479.61" stroke="#000" stroke-width="0.8"/><path d="M652.43 479.61 L651.43 476.61 L653.43 476.61 Z" fill="#000"/>
<text x="605" y="377.5" font-size="10.4" text-anchor="start"><tspan dy="0">Ti</tspan><tspan dy="-4.26" font-size="7.07">4+</tspan><tspan dy="4.26"> 2p</tspan><tspan dy="2.5" font-size="7.07">3/2</tspan></text>
<text x="546.3" y="421.2" font-size="10.4" text-anchor="start"><tspan dy="0">Ti</tspan><tspan dy="-4.26" font-size="7.07">0</tspan><tspan dy="4.26"> 2p</tspan><tspan dy="2.5" font-size="7.07">1/2</tspan></text>
<text x="507.7" y="438" font-size="10.4" text-anchor="start"><tspan dy="0">Ti</tspan><tspan dy="-4.26" font-size="7.07">4+</tspan><tspan dy="4.26"> 2p</tspan><tspan dy="2.5" font-size="7.07">1/2</tspan></text>
<text x="635.3" y="463.2" font-size="10.4" text-anchor="start"><tspan dy="0">Ti</tspan><tspan dy="-4.26" font-size="7.07">0</tspan><tspan dy="4.26"> 2p</tspan><tspan dy="2.5" font-size="7.07">3/2</tspan></text>
</g>
<g id="pj">
<clipPath id="cj"><rect x="22.4" y="540.5" width="190.6" height="140.8"/></clipPath><g clip-path="url(#cj)"><path d="M22.4 656.8 23.4 656.8 24.4 656.9 25.4 656.9 26.4 657 27.4 657 28.4 657.1 29.4 657.1 30.4 657.1 31.4 657.2 32.4 657.2 33.4 657.3 34.4 657.3 35.4 657.4 36.4 657.4 37.4 657.4 38.4 657.5 39.4 657.5 40.4 657.5 41.4 657.5 42.4 657.5 43.4 657.5 44.4 657.4 45.4 657.3 46.4 657.2 47.4 657 48.4 656.6 49.4 656.2 50.4 655.6 51.4 654.9 52.4 653.9 53.4 652.7 54.4 651.2 55.4 649.4 56.4 647.3 57.4 644.8 58.4 641.9 59.4 638.6 60.4 635 61.4 631.1 62.4 626.8 63.4 622.4 64.4 617.9 65.4 613.3 66.4 608.9 67.4 604.8 68.4 601 69.4 597.8 70.4 595.2 71.4 593.3 72.4 592.3 73.4 592 74.4 592.7 75.4 594.1 76.4 596.3 77.4 599.3 78.4 602.7 79.4 606.7 80.4 610.9 81.4 615.3 82.4 619.7 83.4 623.9 84.4 627.9 85.4 631.5 86.4 634.7 87.4 637.2 88.4 639.2 89.4 640.4 90.4 640.8 91.4 640.5 92.4 639.3 93.4 637.3 94.4 634.5 95.4 630.8 96.4 626.5 97.4 621.4 98.4 615.7 99.4 609.5 100.4 602.9 101.4 596.2 102.4 589.4 103.4 582.9 104.4 576.7 105.4 571.1 106.4 566.3 107.4 562.5 108.4 559.7 109.4 558.2 110.4 557.9 111.4 558.8 112.4 561 113.4 564.3 114.4 568.6 115.4 573.8 116.4 579.6 117.4 586 118.4 592.5 119.4 599.2 120.4 605.8 121.4 612.2 122.4 618.1 123.4 623.7 124.4 628.7 125.4 633.1 126.4 637 127.4 640.4 128.4 643.2 129.4 645.6 130.4 647.6 131.4 649.2 132.4 650.5 133.4 651.6 134.4 652.5 135.4 653.3 136.4 654 137.4 654.6 138.4 655.1 139.4 655.7 140.4 656.2 141.4 656.7 142.4 657.2 143.4 657.7 144.4 658.1 145.4 658.6 146.4 659 147.4 659.5 148.4 659.9 149.4 660.2 150.4 660.6 151.4 660.9 152.4 661.2 153.4 661.4 154.4 661.6 155.4 661.8 156.4 661.9 157.4 662 158.4 662 159.4 661.9 160.4 661.7 161.4 661.4 162.4 661 163.4 660.5 164.4 659.8 165.4 659.1 166.4 658.2 167.4 657.4 168.4 656.5 169.4 655.8 170.4 655.1 171.4 654.7 172.4 654.5 173.4 654.5 174.4 654.7 175.4 655.2 176.4 655.9 177.4 656.8 178.4 657.7 179.4 658.7 180.4 659.6 181.4 660.5 182.4 661.3 183.4 661.9 184.4 662.5 185.4 663 186.4 663.3 187.4 663.6 188.4 663.8 189.4 664 190.4 664.1 191.4 664.2 192.4 664.3 193.4 664.3 194.4 664.4 195.4 664.4 196.4 664.5 197.4 664.5 198.4 664.6 199.4 664.6 200.4 664.6 201.4 664.7 202.4 664.7 203.4 664.8 204.4 664.8 205.4 664.9 206.4 664.9 207.4 665 208.4 665 209.4 665 210.4 665.1 211.4 665.1 212.4 665.2 213 665.2" fill="none" stroke="#000" stroke-width="1" stroke-linejoin="round"/><path d="M44.4 657.6 45.4 657.5 46.4 657.3 47.4 657.1 48.4 656.8 49.4 656.4 50.4 655.8 51.4 655 52.4 654.1 53.4 652.9 54.4 651.4 55.4 649.6 56.4 647.5 57.4 645 58.4 642.1 59.4 638.8 60.4 635.2 61.4 631.2 62.4 627 63.4 622.5 64.4 618 65.4 613.5 66.4 609.1 67.4 604.9 68.4 601.2 69.4 597.9 70.4 595.3 71.4 593.5 72.4 592.4 73.4 592.2 74.4 592.8 75.4 594.3 76.4 596.6 77.4 599.5 78.4 603.1 79.4 607.1 80.4 611.4 81.4 616 82.4 620.6 83.4 625.2 84.4 629.7 85.4 633.9 86.4 637.8 87.4 641.4 88.4 644.6 89.4 647.4 90.4 649.9 91.4 652 92.4 653.7 93.4 655.2 94.4 656.4 95.4 657.3 96.4 658.1 97.4 658.7 98.4 659.1 99.4 659.5 100.4 659.8 101.4 660 102.4 660.2 L102.4 660.5 101.4 660.4 100.4 660.4 99.4 660.3 98.4 660.3 97.4 660.2 96.4 660.2 95.4 660.2 94.4 660.1 93.4 660.1 92.4 660 91.4 660 90.4 659.9 89.4 659.9 88.4 659.9 87.4 659.8 86.4 659.8 85.4 659.7 84.4 659.7 83.4 659.6 82.4 659.6 81.4 659.5 80.4 659.5 79.4 659.5 78.4 659.4 77.4 659.4 76.4 659.3 75.4 659.3 74.4 659.2 73.4 659.2 72.4 659.1 71.4 659.1 70.4 659.1 69.4 659 68.4 659 67.4 658.9 66.4 658.9 65.4 658.8 64.4 658.8 63.4 658.7 62.4 658.7 61.4 658.7 60.4 658.6 59.4 658.6 58.4 658.5 57.4 658.5 56.4 658.4 55.4 658.4 54.4 658.4 53.4 658.3 52.4 658.3 51.4 658.2 50.4 658.2 49.4 658.1 48.4 658.1 47.4 658 46.4 658 45.4 658 44.4 657.9Z" fill="#ff0000" stroke="#ff0000" stroke-width="0.8"/><path d="M79.4 659.2 80.4 659.1 81.4 659 82.4 658.8 83.4 658.5 84.4 658.1 85.4 657.5 86.4 656.8 87.4 655.8 88.4 654.5 89.4 653 90.4 651 91.4 648.6 92.4 645.7 93.4 642.3 94.4 638.4 95.4 633.8 96.4 628.7 97.4 623.1 98.4 617 99.4 610.5 100.4 603.7 101.4 596.8 102.4 589.9 103.4 583.3 104.4 577.1 105.4 571.5 106.4 566.7 107.4 562.9 108.4 560.2 109.4 558.7 110.4 558.5 111.4 559.6 112.4 561.9 113.4 565.3 114.4 569.8 115.4 575.2 116.4 581.3 117.4 587.9 118.4 594.8 119.4 601.8 120.4 608.7 121.4 615.4 122.4 621.8 123.4 627.7 124.4 633.1 125.4 638 126.4 642.3 127.4 646 128.4 649.1 129.4 651.8 130.4 654 131.4 655.8 132.4 657.3 133.4 658.5 134.4 659.4 135.4 660.1 136.4 660.6 137.4 661.1 138.4 661.4 139.4 661.6 140.4 661.8 L140.4 662.1 139.4 662.1 138.4 662.1 137.4 662 136.4 662 135.4 661.9 134.4 661.9 133.4 661.8 132.4 661.8 131.4 661.8 130.4 661.7 129.4 661.7 128.4 661.6 127.4 661.6 126.4 661.5 125.4 661.5 124.4 661.4 123.4 661.4 122.4 661.4 121.4 661.3 120.4 661.3 119.4 661.2 118.4 661.2 117.4 661.1 116.4 661.1 115.4 661 114.4 661 113.4 661 112.4 660.9 111.4 660.9 110.4 660.8 109.4 660.8 108.4 660.7 107.4 660.7 106.4 660.6 105.4 660.6 104.4 660.6 103.4 660.5 102.4 660.5 101.4 660.4 100.4 660.4 99.4 660.3 98.4 660.3 97.4 660.2 96.4 660.2 95.4 660.2 94.4 660.1 93.4 660.1 92.4 660 91.4 660 90.4 659.9 89.4 659.9 88.4 659.9 87.4 659.8 86.4 659.8 85.4 659.7 84.4 659.7 83.4 659.6 82.4 659.6 81.4 659.5 80.4 659.5 79.4 659.5Z" fill="#ff0000" stroke="#ff0000" stroke-width="0.8"/><path d="M108.4 660.4 109.4 660.4 110.4 660.4 111.4 660.3 112.4 660.2 113.4 660.1 114.4 659.9 115.4 659.8 116.4 659.6 117.4 659.4 118.4 659.1 119.4 658.8 120.4 658.5 121.4 658.2 122.4 657.8 123.4 657.5 124.4 657.1 125.4 656.8 126.4 656.5 127.4 656.1 128.4 655.9 129.4 655.6 130.4 655.4 131.4 655.3 132.4 655.2 133.4 655.2 134.4 655.2 135.4 655.3 136.4 655.5 137.4 655.7 138.4 656 139.4 656.3 140.4 656.6 141.4 657 142.4 657.5 143.4 657.9 144.4 658.3 145.4 658.8 146.4 659.2 147.4 659.6 148.4 660 149.4 660.4 150.4 660.8 151.4 661.1 152.4 661.4 153.4 661.6 154.4 661.9 155.4 662.1 156.4 662.3 157.4 662.4 158.4 662.6 159.4 662.7 L159.4 663 158.4 662.9 157.4 662.9 156.4 662.9 155.4 662.8 154.4 662.8 153.4 662.7 152.4 662.7 151.4 662.6 150.4 662.6 149.4 662.5 148.4 662.5 147.4 662.5 146.4 662.4 145.4 662.4 144.4 662.3 143.4 662.3 142.4 662.2 141.4 662.2 140.4 662.1 139.4 662.1 138.4 662.1 137.4 662 136.4 662 135.4 661.9 134.4 661.9 133.4 661.8 132.4 661.8 131.4 661.8 130.4 661.7 129.4 661.7 128.4 661.6 127.4 661.6 126.4 661.5 125.4 661.5 124.4 661.4 123.4 661.4 122.4 661.4 121.4 661.3 120.4 661.3 119.4 661.2 118.4 661.2 117.4 661.1 116.4 661.1 115.4 661 114.4 661 113.4 661 112.4 660.9 111.4 660.9 110.4 660.8 109.4 660.8 108.4 660.7Z" fill="#1ffcff" stroke="#1ffcff" stroke-width="0.8"/><path d="M157.4 662.6 158.4 662.5 159.4 662.3 160.4 662.1 161.4 661.7 162.4 661.3 163.4 660.7 164.4 660 165.4 659.3 166.4 658.4 167.4 657.6 168.4 656.7 169.4 655.9 170.4 655.3 171.4 654.8 172.4 654.6 173.4 654.6 174.4 654.9 175.4 655.4 176.4 656.1 177.4 656.9 178.4 657.9 179.4 658.8 180.4 659.8 181.4 660.6 182.4 661.4 183.4 662.1 184.4 662.7 185.4 663.1 186.4 663.5 187.4 663.7 188.4 664 L188.4 664.3 187.4 664.2 186.4 664.2 185.4 664.1 184.4 664.1 183.4 664 182.4 664 181.4 664 180.4 663.9 179.4 663.9 178.4 663.8 177.4 663.8 176.4 663.7 175.4 663.7 174.4 663.7 173.4 663.6 172.4 663.6 171.4 663.5 170.4 663.5 169.4 663.4 168.4 663.4 167.4 663.3 166.4 663.3 165.4 663.3 164.4 663.2 163.4 663.2 162.4 663.1 161.4 663.1 160.4 663 159.4 663 158.4 662.9 157.4 662.9Z" fill="#1ffcff" stroke="#1ffcff" stroke-width="0.8"/><path d="M22.4 657 23.4 657 24.4 657 25.4 657.1 26.4 657.1 27.4 657.2 28.4 657.2 29.4 657.2 30.4 657.3 31.4 657.3 32.4 657.4 33.4 657.4 34.4 657.5 35.4 657.5 36.4 657.6 37.4 657.6 38.4 657.6 39.4 657.7 40.4 657.7 41.4 657.8 42.4 657.8 43.4 657.9 44.4 657.9 45.4 658 46.4 658 47.4 658 48.4 658.1 49.4 658.1 50.4 658.2 51.4 658.2 52.4 658.3 53.4 658.3 54.4 658.4 55.4 658.4 56.4 658.4 57.4 658.5 58.4 658.5 59.4 658.6 60.4 658.6 61.4 658.7 62.4 658.7 63.4 658.7 64.4 658.8 65.4 658.8 66.4 658.9 67.4 658.9 68.4 659 69.4 659 70.4 659.1 71.4 659.1 72.4 659.1 73.4 659.2 74.4 659.2 75.4 659.3 76.4 659.3 77.4 659.4 78.4 659.4 79.4 659.5 80.4 659.5 81.4 659.5 82.4 659.6 83.4 659.6 84.4 659.7 85.4 659.7 86.4 659.8 87.4 659.8 88.4 659.9 89.4 659.9 90.4 659.9 91.4 660 92.4 660 93.4 660.1 94.4 660.1 95.4 660.2 96.4 660.2 97.4 660.2 98.4 660.3 99.4 660.3 100.4 660.4 101.4 660.4 102.4 660.5 103.4 660.5 104.4 660.6 105.4 660.6 106.4 660.6 107.4 660.7 108.4 660.7 109.4 660.8 110.4 660.8 111.4 660.9 112.4 660.9 113.4 661 114.4 661 115.4 661 116.4 661.1 117.4 661.1 118.4 661.2 119.4 661.2 120.4 661.3 121.4 661.3 122.4 661.4 123.4 661.4 124.4 661.4 125.4 661.5 126.4 661.5 127.4 661.6 128.4 661.6 129.4 661.7 130.4 661.7 131.4 661.8 132.4 661.8 133.4 661.8 134.4 661.9 135.4 661.9 136.4 662 137.4 662 138.4 662.1 139.4 662.1 140.4 662.1 141.4 662.2 142.4 662.2 143.4 662.3 144.4 662.3 145.4 662.4 146.4 662.4 147.4 662.5 148.4 662.5 149.4 662.5 150.4 662.6 151.4 662.6 152.4 662.7 153.4 662.7 154.4 662.8 155.4 662.8 156.4 662.9 157.4 662.9 158.4 662.9 159.4 663 160.4 663 161.4 663.1 162.4 663.1 163.4 663.2 164.4 663.2 165.4 663.3 166.4 663.3 167.4 663.3 168.4 663.4 169.4 663.4 170.4 663.5 171.4 663.5 172.4 663.6 173.4 663.6 174.4 663.7 175.4 663.7 176.4 663.7 177.4 663.8 178.4 663.8 179.4 663.9 180.4 663.9 181.4 664 182.4 664 183.4 664 184.4 664.1 185.4 664.1 186.4 664.2 187.4 664.2 188.4 664.3 189.4 664.3 190.4 664.4 191.4 664.4 192.4 664.4 193.4 664.5 194.4 664.5 195.4 664.6 196.4 664.6 197.4 664.7 198.4 664.7 199.4 664.8 200.4 664.8 201.4 664.8 202.4 664.9 203.4 664.9 204.4 665 205.4 665 206.4 665.1 207.4 665.1 208.4 665.2 209.4 665.2 210.4 665.2 211.4 665.3 212.4 665.3 213 665.4" fill="none" stroke="#1ffcff" stroke-width="0.8"/></g>
<path d="M22.4 681.3 v-2.4M54.17 681.3 v-2.4M85.93 681.3 v-2.4M117.7 681.3 v-2.4M149.47 681.3 v-2.4M181.23 681.3 v-2.4M213 681.3 v-2.4" stroke="#000" stroke-width="0.9" fill="none"/><path d="M38.28 681.3 v-1.4M70.05 681.3 v-1.4M101.82 681.3 v-1.4M133.58 681.3 v-1.4M165.35 681.3 v-1.4M197.12 681.3 v-1.4" stroke="#000" stroke-width="0.8" fill="none"/><rect x="22.4" y="540.5" width="190.6" height="140.8" fill="none" stroke="#262626" stroke-width="0.95"/><g class="t" font-size="7.8" text-anchor="middle"><text x="22.4" y="690.7">188</text><text x="54.17" y="690.7">186</text><text x="85.93" y="690.7">184</text><text x="117.7" y="690.7">182</text><text x="149.47" y="690.7">180</text><text x="181.23" y="690.7">178</text><text x="213" y="690.7">176</text></g><text x="121.4" y="700.6" font-size="8.1" text-anchor="middle" font-family='"Liberation Serif", serif'>Binding Energy(eV)</text><text transform="translate(16.1 602.7) rotate(-90)" font-size="8.35" text-anchor="middle" font-family='"Liberation Serif", serif'>Intensity(a.u)</text><text x="2.8" y="548" font-size="13.2">(j)</text><text x="25" y="552.5" font-size="10">Zr3d</text>
<line x1="109.8" y1="545.82" x2="109.8" y2="557.91" stroke="#000" stroke-width="0.8"/><path d="M109.8 557.91 L108.8 554.91 L110.8 554.91 Z" fill="#000"/>
<line x1="73.2" y1="582.08" x2="73.2" y2="591.15" stroke="#000" stroke-width="0.8"/><path d="M73.2 591.15 L72.2 588.15 L74.2 588.15 Z" fill="#000"/>
<line x1="135.65" y1="629.09" x2="135.65" y2="652.93" stroke="#000" stroke-width="0.8"/><path d="M135.65 652.93 L134.65 649.93 L136.65 649.93 Z" fill="#000"/>
<line x1="173.26" y1="648.56" x2="173.26" y2="654.61" stroke="#000" stroke-width="0.8"/><path d="M173.26 654.61 L172.26 651.61 L174.26 651.61 Z" fill="#000"/>
<text x="92.3" y="553.5" font-size="10.4" text-anchor="start"><tspan dy="0">Zr</tspan><tspan dy="-4.26" font-size="7.07">4+</tspan><tspan dy="4.26"> 3d</tspan><tspan dy="2.5" font-size="7.07">5/2</tspan></text>
<text x="56.4" y="580.4" font-size="10.4" text-anchor="start"><tspan dy="0">Zr</tspan><tspan dy="-4.26" font-size="7.07">4+</tspan><tspan dy="4.26"> 3d</tspan><tspan dy="2.5" font-size="7.07">3/2</tspan></text>
<text x="125" y="625.7" font-size="10.4" text-anchor="start"><tspan dy="0">Zr</tspan><tspan dy="-4.26" font-size="7.07">0</tspan><tspan dy="4.26"> 3d</tspan><tspan dy="2.5" font-size="7.07">3/2</tspan></text>
<text x="163" y="645.9" font-size="10.4" text-anchor="start"><tspan dy="0">Zr</tspan><tspan dy="-4.26" font-size="7.07">0</tspan><tspan dy="4.26"> 3d</tspan><tspan dy="2.5" font-size="7.07">5/2</tspan></text>
</g>
<g id="pk">
<clipPath id="ck"><rect x="252.9" y="539.6" width="190.5" height="140.9"/></clipPath><g clip-path="url(#ck)"><path d="M252.9 653.3 253.9 653.3 254.9 653.3 255.9 653.3 256.9 653.3 257.9 653.3 258.9 653.3 259.9 653.2 260.9 653.2 261.9 653.2 262.9 653.2 263.9 653.2 264.9 653.1 265.9 653.1 266.9 653.1 267.9 653.1 268.9 653 269.9 653 270.9 652.9 271.9 652.9 272.9 652.8 273.9 652.7 274.9 652.6 275.9 652.5 276.9 652.4 277.9 652.3 278.9 652.1 279.9 651.9 280.9 651.7 281.9 651.4 282.9 651.1 283.9 650.7 284.9 650.3 285.9 649.9 286.9 649.3 287.9 648.8 288.9 648.1 289.9 647.3 290.9 646.5 291.9 645.6 292.9 644.5 293.9 643.4 294.9 642.2 295.9 640.8 296.9 639.3 297.9 637.7 298.9 636 299.9 634.2 300.9 632.2 301.9 630.2 302.9 628 303.9 625.7 304.9 623.4 305.9 620.9 306.9 618.5 307.9 615.9 308.9 613.4 309.9 610.8 310.9 608.3 311.9 605.8 312.9 603.4 313.9 601 314.9 598.8 315.9 596.8 316.9 594.9 317.9 593.2 318.9 591.7 319.9 590.5 320.9 589.5 321.9 588.8 322.9 588.5 323.9 588.4 324.9 588.6 325.9 589.1 326.9 589.9 327.9 591 328.9 592.4 329.9 594 330.9 595.8 331.9 597.9 332.9 600.1 333.9 602.5 334.9 605 335.9 607.6 336.9 610.3 337.9 613 338.9 615.7 339.9 618.5 340.9 621.2 341.9 623.9 342.9 626.5 343.9 629.1 344.9 631.5 345.9 633.9 346.9 636.1 347.9 638.3 348.9 640.3 349.9 642.2 350.9 644 351.9 645.6 352.9 647.1 353.9 648.6 354.9 649.9 355.9 651.1 356.9 652.1 357.9 653.1 358.9 654 359.9 654.8 360.9 655.6 361.9 656.2 362.9 656.8 363.9 657.4 364.9 657.9 365.9 658.3 366.9 658.7 367.9 659 368.9 659.4 369.9 659.7 370.9 659.9 371.9 660.2 372.9 660.4 373.9 660.6 374.9 660.8 375.9 660.9 376.9 661.1 377.9 661.3 378.9 661.4 379.9 661.5 380.9 661.6 381.9 661.8 382.9 661.9 383.9 662 384.9 662.1 385.9 662.2 386.9 662.3 387.9 662.3 388.9 662.4 389.9 662.5 390.9 662.6 391.9 662.7 392.9 662.8 393.9 662.8 394.9 662.9 395.9 663 396.9 663 397.9 663.1 398.9 663.2 399.9 663.3 400.9 663.3 401.9 663.4 402.9 663.4 403.9 663.5 404.9 663.6 405.9 663.6 406.9 663.7 407.9 663.7 408.9 663.8 409.9 663.8 410.9 663.8 411.9 663.9 412.9 663.9 413.9 663.9 414.9 664 415.9 664 416.9 664 417.9 664 418.9 664.1 419.9 664.1 420.9 664.1 421.9 664.1 422.9 664.1 423.9 664.2 424.9 664.2 425.9 664.2 426.9 664.2 427.9 664.2 428.9 664.2 429.9 664.2 430.9 664.2 431.9 664.3 432.9 664.3 433.9 664.3 434.9 664.3 435.9 664.3 436.9 664.3 437.9 664.3 438.9 664.3 439.9 664.3 440.9 664.3 441.9 664.3 442.9 664.4 443.4 664.4 L443.4 664.5 442.9 664.5 441.9 664.5 440.9 664.5 439.9 664.5 438.9 664.5 437.9 664.5 436.9 664.5 435.9 664.5 434.9 664.5 433.9 664.5 432.9 664.4 431.9 664.4 430.9 664.4 429.9 664.4 428.9 664.4 427.9 664.4 426.9 664.4 425.9 664.4 424.9 664.4 423.9 664.4 422.9 664.4 421.9 664.3 420.9 664.3 419.9 664.3 418.9 664.3 417.9 664.3 416.9 664.3 415.9 664.3 414.9 664.2 413.9 664.2 412.9 664.2 411.9 664.2 410.9 664.1 409.9 664.1 408.9 664.1 407.9 664 406.9 664 405.9 663.9 404.9 663.9 403.9 663.8 402.9 663.8 401.9 663.7 400.9 663.7 399.9 663.6 398.9 663.6 397.9 663.5 396.9 663.4 395.9 663.4 394.9 663.3 393.9 663.3 392.9 663.2 391.9 663.1 390.9 663.1 389.9 663 388.9 662.9 387.9 662.9 386.9 662.8 385.9 662.7 384.9 662.6 383.9 662.6 382.9 662.5 381.9 662.4 380.9 662.3 379.9 662.2 378.9 662.1 377.9 662.1 376.9 662 375.9 661.9 374.9 661.8 373.9 661.7 372.9 661.6 371.9 661.5 370.9 661.3 369.9 661.2 368.9 661.1 367.9 661 366.9 660.9 365.9 660.8 364.9 660.7 363.9 660.5 362.9 660.4 361.9 660.3 360.9 660.2 359.9 660.1 358.9 660 357.9 659.8 356.9 659.7 355.9 659.6 354.9 659.5 353.9 659.4 352.9 659.2 351.9 659.1 350.9 659 349.9 658.9 348.9 658.8 347.9 658.7 346.9 658.6 345.9 658.4 344.9 658.3 343.9 658.2 342.9 658.1 341.9 658 340.9 657.9 339.9 657.8 338.9 657.7 337.9 657.5 336.9 657.4 335.9 657.3 334.9 657.2 333.9 657.1 332.9 657 331.9 656.9 330.9 656.8 329.9 656.7 328.9 656.6 327.9 656.5 326.9 656.4 325.9 656.3 324.9 656.2 323.9 656.1 322.9 656 321.9 655.9 320.9 655.8 319.9 655.7 318.9 655.6 317.9 655.5 316.9 655.4 315.9 655.3 314.9 655.3 313.9 655.2 312.9 655.1 311.9 655 310.9 654.9 309.9 654.8 308.9 654.8 307.9 654.7 306.9 654.6 305.9 654.5 304.9 654.5 303.9 654.4 302.9 654.3 301.9 654.3 300.9 654.2 299.9 654.2 298.9 654.1 297.9 654.1 296.9 654.1 295.9 654 294.9 654 293.9 654 292.9 653.9 291.9 653.9 290.9 653.9 289.9 653.9 288.9 653.9 287.9 653.9 286.9 653.8 285.9 653.8 284.9 653.8 283.9 653.8 282.9 653.8 281.9 653.8 280.9 653.8 279.9 653.8 278.9 653.8 277.9 653.8 276.9 653.8 275.9 653.8 274.9 653.8 273.9 653.8 272.9 653.8 271.9 653.8 270.9 653.8 269.9 653.8 268.9 653.8 267.9 653.8 266.9 653.8 265.9 653.8 264.9 653.8 263.9 653.8 262.9 653.8 261.9 653.8 260.9 653.7 259.9 653.7 258.9 653.7 257.9 653.7 256.9 653.7 255.9 653.7 254.9 653.7 253.9 653.7 252.9 653.7Z" fill="#ff0000" stroke="#ff0000" stroke-width="0.3"/><path d="M252.9 651.7 253.9 651.6 254.9 651.6 255.9 651.6 256.9 651.5 257.9 651.5 258.9 651.5 259.9 651.4 260.9 651.4 261.9 651.4 262.9 651.3 263.9 651.3 264.9 651.2 265.9 651.2 266.9 651.1 267.9 651.1 268.9 651.1 269.9 651 270.9 651 271.9 650.9 272.9 650.9 273.9 650.8 274.9 650.8 275.9 650.7 276.9 650.6 277.9 650.6 278.9 650.5 279.9 650.5 280.9 650.4 281.9 650.3 282.9 650.3 283.9 650.2 284.9 650.1 285.9 650.1 286.9 650 287.9 649.9 288.9 649.8 289.9 649.7 290.9 649.7 291.9 649.6 292.9 649.5 293.9 649.4 294.9 649.4 295.9 649.3 296.9 649.2 297.9 649.1 298.9 649 299.9 649 300.9 648.9 301.9 648.8 302.9 648.7 303.9 648.6 304.9 648.5 305.9 648.4 306.9 648.4 307.9 648.3 308.9 648.1 309.9 648 310.9 647.9 311.9 647.8 312.9 647.7 313.9 647.5 314.9 647.4 315.9 647.2 316.9 647.1 317.9 646.9 318.9 646.7 319.9 646.5 320.9 646.3 321.9 646 322.9 645.8 323.9 645.5 324.9 645.3 325.9 645 326.9 644.7 327.9 644.3 328.9 643.9 329.9 643.6 330.9 643.1 331.9 642.7 332.9 642.2 333.9 641.7 334.9 641.1 335.9 640.5 336.9 639.8 337.9 639.1 338.9 638.4 339.9 637.5 340.9 636.7 341.9 635.7 342.9 634.7 343.9 633.6 344.9 632.4 345.9 631.1 346.9 629.7 347.9 628.2 348.9 626.6 349.9 624.9 350.9 623 351.9 621.1 352.9 618.9 353.9 616.7 354.9 614.3 355.9 611.7 356.9 609 357.9 606.2 358.9 603.2 359.9 600 360.9 596.7 361.9 593.3 362.9 589.8 363.9 586.1 364.9 582.5 365.9 578.8 366.9 575.1 367.9 571.6 368.9 568.2 369.9 565 370.9 562.2 371.9 559.7 372.9 557.7 373.9 556.2 374.9 555.2 375.9 554.9 376.9 555.2 377.9 556.1 378.9 557.5 379.9 559.6 380.9 562.1 381.9 565 382.9 568.2 383.9 571.7 384.9 575.4 385.9 579.2 386.9 583.1 387.9 586.9 388.9 590.8 389.9 594.5 390.9 598.2 391.9 601.7 392.9 605.1 393.9 608.4 394.9 611.5 395.9 614.4 396.9 617.2 397.9 619.8 398.9 622.3 399.9 624.7 400.9 626.9 401.9 628.9 402.9 630.9 403.9 632.7 404.9 634.4 405.9 636 406.9 637.5 407.9 638.9 408.9 640.1 409.9 641.4 410.9 642.5 411.9 643.5 412.9 644.5 413.9 645.5 414.9 646.3 415.9 647.1 416.9 647.9 417.9 648.6 418.9 649.3 419.9 649.9 420.9 650.5 421.9 651 422.9 651.5 423.9 652 424.9 652.5 425.9 652.9 426.9 653.3 427.9 653.7 428.9 654.1 429.9 654.5 430.9 654.8 431.9 655.1 432.9 655.4 433.9 655.7 434.9 656 435.9 656.3 436.9 656.5 437.9 656.8 438.9 657 439.9 657.2 440.9 657.4 441.9 657.6 442.9 657.8 443.4 657.9 L443.4 664.5 442.9 664.5 441.9 664.5 440.9 664.5 439.9 664.5 438.9 664.5 437.9 664.5 436.9 664.5 435.9 664.5 434.9 664.5 433.9 664.5 432.9 664.4 431.9 664.4 430.9 664.4 429.9 664.4 428.9 664.4 427.9 664.4 426.9 664.4 425.9 664.4 424.9 664.4 423.9 664.4 422.9 664.4 421.9 664.3 420.9 664.3 419.9 664.3 418.9 664.3 417.9 664.3 416.9 664.3 415.9 664.3 414.9 664.2 413.9 664.2 412.9 664.2 411.9 664.2 410.9 664.1 409.9 664.1 408.9 664.1 407.9 664 406.9 664 405.9 663.9 404.9 663.9 403.9 663.8 402.9 663.8 401.9 663.7 400.9 663.7 399.9 663.6 398.9 663.6 397.9 663.5 396.9 663.4 395.9 663.4 394.9 663.3 393.9 663.3 392.9 663.2 391.9 663.1 390.9 663.1 389.9 663 388.9 662.9 387.9 662.9 386.9 662.8 385.9 662.7 384.9 662.6 383.9 662.6 382.9 662.5 381.9 662.4 380.9 662.3 379.9 662.2 378.9 662.1 377.9 662.1 376.9 662 375.9 661.9 374.9 661.8 373.9 661.7 372.9 661.6 371.9 661.5 370.9 661.3 369.9 661.2 368.9 661.1 367.9 661 366.9 660.9 365.9 660.8 364.9 660.7 363.9 660.5 362.9 660.4 361.9 660.3 360.9 660.2 359.9 660.1 358.9 660 357.9 659.8 356.9 659.7 355.9 659.6 354.9 659.5 353.9 659.4 352.9 659.2 351.9 659.1 350.9 659 349.9 658.9 348.9 658.8 347.9 658.7 346.9 658.6 345.9 658.4 344.9 658.3 343.9 658.2 342.9 658.1 341.9 658 340.9 657.9 339.9 657.8 338.9 657.7 337.9 657.5 336.9 657.4 335.9 657.3 334.9 657.2 333.9 657.1 332.9 657 331.9 656.9 330.9 656.8 329.9 656.7 328.9 656.6 327.9 656.5 326.9 656.4 325.9 656.3 324.9 656.2 323.9 656.1 322.9 656 321.9 655.9 320.9 655.8 319.9 655.7 318.9 655.6 317.9 655.5 316.9 655.4 315.9 655.3 314.9 655.3 313.9 655.2 312.9 655.1 311.9 655 310.9 654.9 309.9 654.8 308.9 654.8 307.9 654.7 306.9 654.6 305.9 654.5 304.9 654.5 303.9 654.4 302.9 654.3 301.9 654.3 300.9 654.2 299.9 654.2 298.9 654.1 297.9 654.1 296.9 654.1 295.9 654 294.9 654 293.9 654 292.9 653.9 291.9 653.9 290.9 653.9 289.9 653.9 288.9 653.9 287.9 653.9 286.9 653.8 285.9 653.8 284.9 653.8 283.9 653.8 282.9 653.8 281.9 653.8 280.9 653.8 279.9 653.8 278.9 653.8 277.9 653.8 276.9 653.8 275.9 653.8 274.9 653.8 273.9 653.8 272.9 653.8 271.9 653.8 270.9 653.8 269.9 653.8 268.9 653.8 267.9 653.8 266.9 653.8 265.9 653.8 264.9 653.8 263.9 653.8 262.9 653.8 261.9 653.8 260.9 653.7 259.9 653.7 258.9 653.7 257.9 653.7 256.9 653.7 255.9 653.7 254.9 653.7 253.9 653.7 252.9 653.7Z" fill="#ff0000" stroke="#ff0000" stroke-width="0.3"/><path d="M252.9 653.7 253.9 653.7 254.9 653.7 255.9 653.7 256.9 653.7 257.9 653.7 258.9 653.7 259.9 653.7 260.9 653.7 261.9 653.8 262.9 653.8 263.9 653.8 264.9 653.8 265.9 653.8 266.9 653.8 267.9 653.8 268.9 653.8 269.9 653.8 270.9 653.8 271.9 653.8 272.9 653.8 273.9 653.8 274.9 653.8 275.9 653.8 276.9 653.8 277.9 653.8 278.9 653.8 279.9 653.8 280.9 653.8 281.9 653.8 282.9 653.8 283.9 653.8 284.9 653.8 285.9 653.8 286.9 653.8 287.9 653.9 288.9 653.9 289.9 653.9 290.9 653.9 291.9 653.9 292.9 653.9 293.9 654 294.9 654 295.9 654 296.9 654.1 297.9 654.1 298.9 654.1 299.9 654.2 300.9 654.2 301.9 654.3 302.9 654.3 303.9 654.4 304.9 654.5 305.9 654.5 306.9 654.6 307.9 654.7 308.9 654.8 309.9 654.8 310.9 654.9 311.9 655 312.9 655.1 313.9 655.2 314.9 655.3 315.9 655.3 316.9 655.4 317.9 655.5 318.9 655.6 319.9 655.7 320.9 655.8 321.9 655.9 322.9 656 323.9 656.1 324.9 656.2 325.9 656.3 326.9 656.4 327.9 656.5 328.9 656.6 329.9 656.7 330.9 656.8 331.9 656.9 332.9 657 333.9 657.1 334.9 657.2 335.9 657.3 336.9 657.4 337.9 657.5 338.9 657.7 339.9 657.8 340.9 657.9 341.9 658 342.9 658.1 343.9 658.2 344.9 658.3 345.9 658.4 346.9 658.6 347.9 658.7 348.9 658.8 349.9 658.9 350.9 659 351.9 659.1 352.9 659.2 353.9 659.4 354.9 659.5 355.9 659.6 356.9 659.7 357.9 659.8 358.9 660 359.9 660.1 360.9 660.2 361.9 660.3 362.9 660.4 363.9 660.5 364.9 660.7 365.9 660.8 366.9 660.9 367.9 661 368.9 661.1 369.9 661.2 370.9 661.3 371.9 661.5 372.9 661.6 373.9 661.7 374.9 661.8 375.9 661.9 376.9 662 377.9 662.1 378.9 662.1 379.9 662.2 380.9 662.3 381.9 662.4 382.9 662.5 383.9 662.6 384.9 662.6 385.9 662.7 386.9 662.8 387.9 662.9 388.9 662.9 389.9 663 390.9 663.1 391.9 663.1 392.9 663.2 393.9 663.3 394.9 663.3 395.9 663.4 396.9 663.4 397.9 663.5 398.9 663.6 399.9 663.6 400.9 663.7 401.9 663.7 402.9 663.8 403.9 663.8 404.9 663.9 405.9 663.9 406.9 664 407.9 664 408.9 664.1 409.9 664.1 410.9 664.1 411.9 664.2 412.9 664.2 413.9 664.2 414.9 664.2 415.9 664.3 416.9 664.3 417.9 664.3 418.9 664.3 419.9 664.3 420.9 664.3 421.9 664.3 422.9 664.4 423.9 664.4 424.9 664.4 425.9 664.4 426.9 664.4 427.9 664.4 428.9 664.4 429.9 664.4 430.9 664.4 431.9 664.4 432.9 664.4 433.9 664.5 434.9 664.5 435.9 664.5 436.9 664.5 437.9 664.5 438.9 664.5 439.9 664.5 440.9 664.5 441.9 664.5 442.9 664.5 443.4 664.5" fill="none" stroke="#ff0000" stroke-width="0.8"/><path d="M252.9 650.9 253.9 650.9 254.9 650.9 255.9 650.8 256.9 650.8 257.9 650.7 258.9 650.7 259.9 650.6 260.9 650.6 261.9 650.5 262.9 650.5 263.9 650.4 264.9 650.3 265.9 650.3 266.9 650.2 267.9 650.1 268.9 650 269.9 649.9 270.9 649.8 271.9 649.7 272.9 649.6 273.9 649.5 274.9 649.3 275.9 649.1 276.9 649 277.9 648.7 278.9 648.5 279.9 648.2 280.9 647.9 281.9 647.6 282.9 647.2 283.9 646.8 284.9 646.3 285.9 645.8 286.9 645.2 287.9 644.5 288.9 643.7 289.9 642.9 290.9 642 291.9 641 292.9 639.8 293.9 638.6 294.9 637.2 295.9 635.8 296.9 634.2 297.9 632.4 298.9 630.6 299.9 628.6 300.9 626.6 301.9 624.4 302.9 622.1 303.9 619.6 304.9 617.1 305.9 614.6 306.9 611.9 307.9 609.2 308.9 606.5 309.9 603.7 310.9 601 311.9 598.3 312.9 595.7 313.9 593.1 314.9 590.7 315.9 588.3 316.9 586.2 317.9 584.2 318.9 582.5 319.9 581 320.9 579.7 321.9 578.7 322.9 578 323.9 577.5 324.9 577.4 325.9 577.5 326.9 577.9 327.9 578.6 328.9 579.5 329.9 580.6 330.9 581.9 331.9 583.4 332.9 585 333.9 586.8 334.9 588.6 335.9 590.5 336.9 592.4 337.9 594.3 338.9 596.2 339.9 598 340.9 599.7 341.9 601.3 342.9 602.8 343.9 604.1 344.9 605.2 345.9 606.2 346.9 607 347.9 607.5 348.9 607.8 349.9 607.9 350.9 607.7 351.9 607.2 352.9 606.5 353.9 605.6 354.9 604.4 355.9 602.9 356.9 601.2 357.9 599.2 358.9 597 359.9 594.5 360.9 591.8 361.9 588.9 362.9 585.9 363.9 582.7 364.9 579.4 365.9 576 366.9 572.6 367.9 569.3 368.9 566.1 369.9 563.1 370.9 560.4 371.9 558.1 372.9 556.2 373.9 554.8 374.9 553.9 375.9 553.7 376.9 554 377.9 555 378.9 556.5 379.9 558.5 380.9 561.1 381.9 564 382.9 567.3 383.9 570.8 384.9 574.5 385.9 578.4 386.9 582.2 387.9 586.1 388.9 590 389.9 593.7 390.9 597.4 391.9 601 392.9 604.4 393.9 607.6 394.9 610.8 395.9 613.7 396.9 616.5 397.9 619.2 398.9 621.7 399.9 624 400.9 626.2 401.9 628.3 402.9 630.2 403.9 632.1 404.9 633.8 405.9 635.4 406.9 636.9 407.9 638.3 408.9 639.6 409.9 640.8 410.9 641.9 411.9 643 412.9 644 413.9 644.9 414.9 645.8 415.9 646.6 416.9 647.3 417.9 648 418.9 648.7 419.9 649.3 420.9 649.9 421.9 650.5 422.9 651 423.9 651.5 424.9 652 425.9 652.4 426.9 652.8 427.9 653.2 428.9 653.6 429.9 654 430.9 654.3 431.9 654.6 432.9 654.9 433.9 655.2 434.9 655.5 435.9 655.8 436.9 656 437.9 656.3 438.9 656.5 439.9 656.7 440.9 657 441.9 657.2 442.9 657.4 443.4 657.5" fill="none" stroke="#000" stroke-width="1" stroke-linejoin="round"/></g>
<path d="M252.9 680.5 v-2.4M284.65 680.5 v-2.4M316.4 680.5 v-2.4M348.15 680.5 v-2.4M379.9 680.5 v-2.4M411.65 680.5 v-2.4M443.4 680.5 v-2.4" stroke="#000" stroke-width="0.9" fill="none"/><path d="M268.77 680.5 v-1.4M300.52 680.5 v-1.4M332.27 680.5 v-1.4M364.02 680.5 v-1.4M395.77 680.5 v-1.4M427.52 680.5 v-1.4" stroke="#000" stroke-width="0.8" fill="none"/><rect x="252.9" y="539.6" width="190.5" height="140.9" fill="none" stroke="#262626" stroke-width="0.95"/><g class="t" font-size="7.8" text-anchor="middle"><text x="252.9" y="689.9">21</text><text x="284.65" y="689.9">20</text><text x="316.4" y="689.9">19</text><text x="348.15" y="689.9">18</text><text x="379.9" y="689.9">17</text><text x="411.65" y="689.9">16</text><text x="443.4" y="689.9">15</text></g><text x="348.05" y="698.6" font-size="8.2" text-anchor="middle" font-family='"Liberation Serif", serif'>Binding Energy(eV)</text><text transform="translate(248.8 600.5) rotate(-90)" font-size="8.2" text-anchor="middle" font-family='"Liberation Serif", serif'>Intensity(a.u)</text><text x="231.6" y="547.6" font-size="13.2">(k)</text><text x="255" y="550.5" font-size="10.1">Hf4f</text>
<line x1="376.41" y1="545.82" x2="376.41" y2="554.88" stroke="#000" stroke-width="0.8"/><path d="M376.41 554.88 L375.41 551.88 L377.41 551.88 Z" fill="#000"/>
<line x1="324.7" y1="570.33" x2="324.7" y2="587.45" stroke="#000" stroke-width="0.8"/><path d="M324.7 587.45 L323.7 584.45 L325.7 584.45 Z" fill="#000"/>
<text x="361.3" y="549.5" font-size="10.4" text-anchor="start"><tspan dy="0">Hf</tspan><tspan dy="-4.26" font-size="7.07">4+</tspan><tspan dy="4.26"> 4f</tspan><tspan dy="2.5" font-size="7.07">7/2</tspan></text>
<text x="311.3" y="568" font-size="10.4" text-anchor="start"><tspan dy="0">Hf</tspan><tspan dy="-4.26" font-size="7.07">4+</tspan><tspan dy="4.26"> 4f</tspan><tspan dy="2.5" font-size="7.07">5/2</tspan></text>
</g>
<g id="pl">
<clipPath id="cl"><rect x="482.9" y="539.3" width="190.4" height="141.1"/></clipPath><g clip-path="url(#cl)"><path d="M482.9 644.8 483.8 613.8 484.6 623.5 485.5 620 486.4 613 487.2 615.5 488.1 616.8 489 621.4 489.8 627.3 490.7 634.8 491.6 627.8 492.4 635.7 493.3 630.6 494.2 626.2 495 622.6 495.9 614.7 496.7 607.6 497.6 622 498.5 623.8 499.3 628.7 500.2 629.8 501.1 614.1 501.9 617.3 502.8 614.3 503.7 635 504.5 627.4 505.4 628.1 506.3 618.4 507.1 648.5 508 619.7 508.9 625.6 509.7 632 510.6 613.4 511.5 628.6 512.3 619.8 513.2 621.3 514.1 623.7 514.9 623 515.8 631.6 516.7 637 517.5 632.3 518.4 622.8 519.2 630.7 520.1 631.7 521 636.2 521.8 631.1 522.7 611.7 523.6 616.9 524.4 621.6 525.3 634.8 526.2 626.3 527 634.6 527.9 629.9 528.8 614.3 529.6 623.6 530.5 630 531.4 629 532.2 610.1 533.1 625.1 534 617.7 534.8 600.9 535.7 612.8 536.6 600.9 537.4 604.7 538.3 630.9 539.2 643.9 540 631 540.9 621.8 541.8 633.7 542.6 619.9 543.5 603.6 544.3 586.3 545.2 614.6 546.1 588.1 546.9 576 547.8 594.5 548.7 603 549.5 593.5 550.4 608.5 551.3 598.9 552.1 598.2 553 599.1 553.9 588 554.7 592.3 555.6 611.9 556.5 582.7 557.3 586.7 558.2 590.4 559.1 579.7 559.9 581.7 560.8 566 561.7 574.8 562.5 580.7 563.4 553 564.3 591.1 565.1 576.8 566 553.8 566.8 597 567.7 593.2 568.6 566.9 569.4 578.3 570.3 576.5 571.2 579.7 572 571.3 572.9 582.9 573.8 585.3 574.6 589.1 575.5 602.6 576.4 598.4 577.2 585.5 578.1 580.1 579 591.6 579.8 609.7 580.7 611.3 581.6 598.4 582.4 612.8 583.3 609.7 584.2 600.1 585 608.6 585.9 606 586.8 596.6 587.6 601.4 588.5 607.8 589.4 618.8 590.2 599.6 591.1 607.2 591.9 606.7 592.8 605.2 593.7 594.3 594.5 613.5 595.4 616.4 596.3 618 597.1 607.6 598 613.7 598.9 605.8 599.7 607.3 600.6 595.3 601.5 597.2 602.3 592.2 603.2 584.2 604.1 587.8 604.9 582.1 605.8 580.7 606.7 586.6 607.5 585.6 608.4 608.5 609.3 609.9 610.1 603.9 611 601.1 611.9 587.2 612.7 595.8 613.6 583.5 614.4 589.4 615.3 593.2 616.2 595.8 617 608.1 617.9 597 618.8 624.2 619.6 604.8 620.5 614.2 621.4 596.4 622.2 616.4 623.1 602.7 624 613.7 624.8 615.3 625.7 623.7 626.6 624.3 627.4 623.3 628.3 619.5 629.2 638.4 630 621.2 630.9 623.1 631.8 620.5 632.6 626.1 633.5 618.1 634.4 622.3 635.2 632 636.1 624.4 637 632.9 637.8 625.8 638.7 642.7 639.5 632.4 640.4 647.6 641.3 639.6 642.1 632.8 643 642.1 643.9 646.1 644.7 650.1 645.6 649.9 646.5 645.8 647.3 627.1 648.2 643.4 649.1 637.7 649.9 641.1 650.8 649.9 651.7 633.8 652.5 649.7 653.4 662.6 654.3 648 655.1 638 656 652.2 656.9 644.3 657.7 650.8 658.6 654.2 659.5 629.9 660.3 642.9 661.2 629.2 662 634.3 662.9 647.6 663.8 633.5 664.6 635.5 665.5 638.9 666.4 646.5 667.2 648.3 668.1 649.5 669 641.4 669.8 638.1 670.7 648.6 671.6 638.9 672.4 637.9 673.3 652" fill="none" stroke="#000" stroke-width="1.08" stroke-linejoin="miter" stroke-miterlimit="3"/></g>
<path d="M482.9 680.4 v-2.4M517.52 680.4 v-2.4M552.14 680.4 v-2.4M586.75 680.4 v-2.4M621.37 680.4 v-2.4M655.99 680.4 v-2.4" stroke="#000" stroke-width="0.9" fill="none"/><path d="M500.21 680.4 v-1.4M534.83 680.4 v-1.4M569.45 680.4 v-1.4M604.06 680.4 v-1.4M638.68 680.4 v-1.4" stroke="#000" stroke-width="0.8" fill="none"/><rect x="482.9" y="539.3" width="190.4" height="141.1" fill="none" stroke="#262626" stroke-width="0.95"/><g class="t" font-size="7.8" text-anchor="middle"><text x="482.9" y="689.8">118</text><text x="517.52" y="689.8">116</text><text x="552.14" y="689.8">114</text><text x="586.75" y="689.8">112</text><text x="621.37" y="689.8">110</text><text x="655.99" y="689.8">108</text></g><text x="572.9" y="696.9" font-size="8.1" text-anchor="middle" font-family='"Liberation Serif", serif'>Binding Energy(eV)</text><text transform="translate(479.2 599.2) rotate(-90)" font-size="8.3" text-anchor="middle" font-family='"Liberation Serif", serif'>Intensity(a.u)</text><text x="461.6" y="547.4" font-size="13.2">(l)</text><text x="488.8" y="553.4" font-size="11.2">Be 1s</text>
<text x="545.7" y="553.5" font-size="11.4" text-anchor="start"><tspan dy="0">Be</tspan><tspan dy="-4.33" font-size="10.26">2+</tspan><tspan dy="4.33"> 1s</tspan></text>
</g>
<g id="pm">
<clipPath id="cm"><rect x="28" y="719.6" width="190.4" height="140.7"/></clipPath><g clip-path="url(#cm)"><path d="M28 828 29 828 30 828.1 31 828.2 32 828.2 33 828.3 34 828.3 35 828.4 36 828.4 37 828.5 38 828.5 39 828.5 40 828.6 41 828.6 42 828.7 43 828.7 44 828.8 45 828.8 46 828.9 47 828.9 48 828.9 49 828.9 50 829 51 829 52 829 53 828.9 54 828.9 55 828.9 56 828.8 57 828.7 58 828.5 59 828.3 60 828.1 61 827.8 62 827.5 63 827 64 826.5 65 825.9 66 825.3 67 824.5 68 823.6 69 822.6 70 821.5 71 820.3 72 819.1 73 817.7 74 816.3 75 814.8 76 813.3 77 811.7 78 810.2 79 808.7 80 807.3 81 806 82 804.9 83 803.8 84 803 85 802.4 86 802.1 87 801.9 88 802.1 89 802.5 90 803.1 91 803.9 92 805 93 806.2 94 807.6 95 809 96 810.6 97 812.2 98 813.9 99 815.5 100 817.1 101 818.7 102 820.2 103 821.6 104 822.9 105 824.2 106 825.3 107 826.4 108 827.3 109 828.1 110 828.9 111 829.5 112 830.1 113 830.6 114 831 115 831.4 116 831.7 117 832 118 832.2 119 832.4 120 832.6 121 832.7 122 832.9 123 833 124 833.1 125 833.2 126 833.3 127 833.4 128 833.4 129 833.5 130 833.6 131 833.7 132 833.7 133 833.8 134 833.9 135 833.9 136 834 137 834.1 138 834.1 139 834.2 140 834.2 141 834.3 142 834.4 143 834.4 144 834.5 145 834.5 146 834.6 147 834.7 148 834.7 149 834.8 150 834.9 151 834.9 L151 835 150 835 149 834.9 148 834.9 147 834.8 146 834.7 145 834.7 144 834.6 143 834.6 142 834.5 141 834.5 140 834.4 139 834.4 138 834.3 137 834.2 136 834.2 135 834.1 134 834.1 133 834 132 834 131 833.9 130 833.9 129 833.8 128 833.7 127 833.7 126 833.6 125 833.6 124 833.5 123 833.5 122 833.4 121 833.3 120 833.3 119 833.2 118 833.2 117 833.1 116 833.1 115 833 114 833 113 832.9 112 832.8 111 832.8 110 832.7 109 832.7 108 832.6 107 832.6 106 832.5 105 832.4 104 832.4 103 832.3 102 832.3 101 832.2 100 832.2 99 832.1 98 832.1 97 832 96 831.9 95 831.9 94 831.8 93 831.8 92 831.7 91 831.7 90 831.6 89 831.6 88 831.5 87 831.4 86 831.4 85 831.3 84 831.3 83 831.2 82 831.2 81 831.1 80 831 79 831 78 830.9 77 830.9 76 830.8 75 830.8 74 830.7 73 830.7 72 830.6 71 830.5 70 830.5 69 830.4 68 830.4 67 830.3 66 830.3 65 830.2 64 830.2 63 830.1 62 830 61 830 60 829.9 59 829.9 58 829.8 57 829.8 56 829.7 55 829.6 54 829.6 53 829.5 52 829.5 51 829.4 50 829.4 49 829.3 48 829.3 47 829.2 46 829.1 45 829.1 44 829 43 829 42 828.9 41 828.9 40 828.8 39 828.8 38 828.7 37 828.6 36 828.6 35 828.5 34 828.5 33 828.4 32 828.4 31 828.3 30 828.2 29 828.2 28 828.1Z" fill="#ff0000" stroke="#ff0000" stroke-width="0.3"/><path d="M28 828 29 828.1 30 828.1 31 828.2 32 828.2 33 828.3 34 828.3 35 828.4 36 828.4 37 828.5 38 828.5 39 828.6 40 828.7 41 828.7 42 828.8 43 828.8 44 828.9 45 828.9 46 829 47 829 48 829.1 49 829.1 50 829.2 51 829.2 52 829.3 53 829.3 54 829.4 55 829.4 56 829.5 57 829.5 58 829.6 59 829.6 60 829.7 61 829.7 62 829.8 63 829.8 64 829.9 65 829.9 66 830 67 830 68 830.1 69 830.1 70 830.2 71 830.2 72 830.3 73 830.3 74 830.4 75 830.4 76 830.5 77 830.5 78 830.6 79 830.6 80 830.7 81 830.7 82 830.7 83 830.8 84 830.8 85 830.9 86 830.9 87 831 88 831 89 831 90 831.1 91 831.1 92 831.2 93 831.2 94 831.2 95 831.3 96 831.3 97 831.3 98 831.3 99 831.4 100 831.4 101 831.4 102 831.4 103 831.5 104 831.5 105 831.5 106 831.5 107 831.5 108 831.5 109 831.5 110 831.5 111 831.5 112 831.5 113 831.5 114 831.5 115 831.4 116 831.4 117 831.3 118 831.3 119 831.2 120 831.1 121 831 122 830.9 123 830.8 124 830.6 125 830.5 126 830.2 127 830 128 829.7 129 829.3 130 828.7 131 828.1 132 827.2 133 825.9 134 824.3 135 822.1 136 819.2 137 815.5 138 810.8 139 804.9 140 797.9 141 789.7 142 780.6 143 770.7 144 760.6 145 750.9 146 742.4 147 736.1 148 733 149 733.4 150 737.4 151 744.3 152 753.2 153 763.1 154 773.3 155 783.2 156 792.3 157 800.4 158 807.3 159 813 160 817.6 161 821.3 162 824.1 163 826.3 164 828 165 829.2 166 830.2 167 830.9 168 831.5 169 832 170 832.5 171 832.8 172 833.1 173 833.4 174 833.7 175 833.9 176 834.2 177 834.4 178 834.5 179 834.7 180 834.9 181 835.1 182 835.2 183 835.3 184 835.5 185 835.6 186 835.7 187 835.8 188 836 189 836.1 190 836.2 191 836.3 192 836.4 193 836.5 194 836.6 195 836.7 196 836.8 197 836.8 198 836.9 199 837 200 837.1 201 837.2 202 837.3 203 837.3 204 837.4 205 837.5 206 837.6 207 837.6 208 837.7 209 837.8 210 837.9 211 837.9 212 838 213 838.1 214 838.1 215 838.2 216 838.3 217 838.3 218 838.4 218.4 838.4 L218.4 838.8 218 838.8 217 838.7 216 838.7 215 838.6 214 838.6 213 838.5 212 838.4 211 838.4 210 838.3 209 838.3 208 838.2 207 838.2 206 838.1 205 838.1 204 838 203 837.9 202 837.9 201 837.8 200 837.8 199 837.7 198 837.7 197 837.6 196 837.5 195 837.5 194 837.4 193 837.4 192 837.3 191 837.3 190 837.2 189 837.2 188 837.1 187 837 186 837 185 836.9 184 836.9 183 836.8 182 836.8 181 836.7 180 836.7 179 836.6 178 836.5 177 836.5 176 836.4 175 836.4 174 836.3 173 836.3 172 836.2 171 836.1 170 836.1 169 836 168 836 167 835.9 166 835.9 165 835.8 164 835.8 163 835.7 162 835.6 161 835.6 160 835.5 159 835.5 158 835.4 157 835.4 156 835.3 155 835.3 154 835.2 153 835.1 152 835.1 151 835 150 835 149 834.9 148 834.9 147 834.8 146 834.7 145 834.7 144 834.6 143 834.6 142 834.5 141 834.5 140 834.4 139 834.4 138 834.3 137 834.2 136 834.2 135 834.1 134 834.1 133 834 132 834 131 833.9 130 833.9 129 833.8 128 833.7 127 833.7 126 833.6 125 833.6 124 833.5 123 833.5 122 833.4 121 833.3 120 833.3 119 833.2 118 833.2 117 833.1 116 833.1 115 833 114 833 113 832.9 112 832.8 111 832.8 110 832.7 109 832.7 108 832.6 107 832.6 106 832.5 105 832.4 104 832.4 103 832.3 102 832.3 101 832.2 100 832.2 99 832.1 98 832.1 97 832 96 831.9 95 831.9 94 831.8 93 831.8 92 831.7 91 831.7 90 831.6 89 831.6 88 831.5 87 831.4 86 831.4 85 831.3 84 831.3 83 831.2 82 831.2 81 831.1 80 831 79 831 78 830.9 77 830.9 76 830.8 75 830.8 74 830.7 73 830.7 72 830.6 71 830.5 70 830.5 69 830.4 68 830.4 67 830.3 66 830.3 65 830.2 64 830.2 63 830.1 62 830 61 830 60 829.9 59 829.9 58 829.8 57 829.8 56 829.7 55 829.6 54 829.6 53 829.5 52 829.5 51 829.4 50 829.4 49 829.3 48 829.3 47 829.2 46 829.1 45 829.1 44 829 43 829 42 828.9 41 828.9 40 828.8 39 828.8 38 828.7 37 828.6 36 828.6 35 828.5 34 828.5 33 828.4 32 828.4 31 828.3 30 828.2 29 828.2 28 828.1Z" fill="#ff0000" stroke="#ff0000" stroke-width="0.3"/><path d="M132.8 833.9 219 838.8 219 843.1 168.3 840 154.1 837.7 145.6 836 Z" fill="#ff0000"/><path d="M28 828.1 29 828.2 30 828.2 31 828.3 32 828.4 33 828.4 34 828.5 35 828.5 36 828.6 37 828.6 38 828.7 39 828.8 40 828.8 41 828.9 42 828.9 43 829 44 829 45 829.1 46 829.1 47 829.2 48 829.3 49 829.3 50 829.4 51 829.4 52 829.5 53 829.5 54 829.6 55 829.6 56 829.7 57 829.8 58 829.8 59 829.9 60 829.9 61 830 62 830 63 830.1 64 830.2 65 830.2 66 830.3 67 830.3 68 830.4 69 830.4 70 830.5 71 830.5 72 830.6 73 830.7 74 830.7 75 830.8 76 830.8 77 830.9 78 830.9 79 831 80 831 81 831.1 82 831.2 83 831.2 84 831.3 85 831.3 86 831.4 87 831.4 88 831.5 89 831.6 90 831.6 91 831.7 92 831.7 93 831.8 94 831.8 95 831.9 96 831.9 97 832 98 832.1 99 832.1 100 832.2 101 832.2 102 832.3 103 832.3 104 832.4 105 832.4 106 832.5 107 832.6 108 832.6 109 832.7 110 832.7 111 832.8 112 832.8 113 832.9 114 833 115 833 116 833.1 117 833.1 118 833.2 119 833.2 120 833.3 121 833.3 122 833.4 123 833.5 124 833.5 125 833.6 126 833.6 127 833.7 128 833.7 129 833.8 130 833.9 131 833.9 132 834 133 834 134 834.1 135 834.1 136 834.2 137 834.2 138 834.3 139 834.4 140 834.4 141 834.5 142 834.5 143 834.6 144 834.6 145 834.7 146 834.7 147 834.8 148 834.9 149 834.9 150 835 151 835 152 835.1 153 835.1 154 835.2 155 835.3 156 835.3 157 835.4 158 835.4 159 835.5 160 835.5 161 835.6 162 835.6 163 835.7 164 835.8 165 835.8 166 835.9 167 835.9 168 836 169 836 170 836.1 171 836.1 172 836.2 173 836.3 174 836.3 175 836.4 176 836.4 177 836.5 178 836.5 179 836.6 180 836.7 181 836.7 182 836.8 183 836.8 184 836.9 185 836.9 186 837 187 837 188 837.1 189 837.2 190 837.2 191 837.3 192 837.3 193 837.4 194 837.4 195 837.5 196 837.5 197 837.6 198 837.7 199 837.7 200 837.8 201 837.8 202 837.9 203 837.9 204 838 205 838.1 206 838.1 207 838.2 208 838.2 209 838.3 210 838.3 211 838.4 212 838.4 213 838.5 214 838.6 215 838.6 216 838.7 217 838.7 218 838.8 218.4 838.8" fill="none" stroke="#52e3e8" stroke-width="0.8"/><path d="M28 827.8 29 827.9 30 827.9 31 827.9 32 828 33 828 34 828.1 35 828.1 36 828.2 37 828.2 38 828.3 39 828.3 40 828.4 41 828.4 42 828.4 43 828.5 44 828.5 45 828.6 46 828.6 47 828.6 48 828.6 49 828.7 50 828.7 51 828.7 52 828.7 53 828.6 54 828.6 55 828.5 56 828.4 57 828.3 58 828.2 59 828 60 827.7 61 827.4 62 827.1 63 826.6 64 826.1 65 825.5 66 824.8 67 824.1 68 823.2 69 822.2 70 821.1 71 819.9 72 818.6 73 817.2 74 815.8 75 814.3 76 812.7 77 811.2 78 809.7 79 808.2 80 806.7 81 805.4 82 804.2 83 803.2 84 802.4 85 801.8 86 801.4 87 801.2 88 801.3 89 801.7 90 802.3 91 803.1 92 804.1 93 805.3 94 806.6 95 808.1 96 809.6 97 811.2 98 812.8 99 814.4 100 816 101 817.5 102 818.9 103 820.3 104 821.6 105 822.8 106 823.8 107 824.8 108 825.7 109 826.4 110 827.1 111 827.6 112 828.1 113 828.5 114 828.8 115 829 116 829.2 117 829.4 118 829.4 119 829.5 120 829.4 121 829.4 122 829.3 123 829.1 124 829 125 828.7 126 828.5 127 828.1 128 827.7 129 827.2 130 826.6 131 825.8 132 824.8 133 823.5 134 821.7 135 819.4 136 816.3 137 812.4 138 807.5 139 801.5 140 794.3 141 786 142 776.7 143 766.7 144 756.4 145 746.6 146 738 147 731.6 148 728.4 149 728.8 150 732.7 151 739.7 152 748.6 153 758.6 154 769 155 778.9 156 788.2 157 796.4 158 803.4 159 809.3 160 814.2 161 818 162 821 163 823.4 164 825.2 165 826.6 166 827.7 167 828.6 168 829.4 169 830 170 830.5 171 831 172 831.4 173 831.8 174 832.2 175 832.5 176 832.8 177 833.1 178 833.4 179 833.6 180 833.9 181 834.1 182 834.3 183 834.5 184 834.7 185 834.8 186 835 187 835.1 188 835.3 189 835.4 190 835.6 191 835.7 192 835.8 193 835.9 194 836.1 195 836.2 196 836.3 197 836.4 198 836.5 199 836.6 200 836.7 201 836.8 202 836.9 203 837 204 837.1 205 837.1 206 837.2 207 837.3 208 837.4 209 837.5 210 837.6 211 837.6 212 837.7 213 837.8 214 837.9 215 837.9 216 838 217 838.1 218 838.2 218.4 838.2" fill="none" stroke="#000" stroke-width="0.9" stroke-linejoin="round"/></g>
<path d="M28 860.3 v-2.4M49.16 860.3 v-2.4M70.31 860.3 v-2.4M91.47 860.3 v-2.4M112.62 860.3 v-2.4M133.78 860.3 v-2.4M154.93 860.3 v-2.4M176.09 860.3 v-2.4M197.24 860.3 v-2.4M218.4 860.3 v-2.4" stroke="#000" stroke-width="0.9" fill="none"/><path d="M38.58 860.3 v-1.4M59.73 860.3 v-1.4M80.89 860.3 v-1.4M102.04 860.3 v-1.4M123.2 860.3 v-1.4M144.36 860.3 v-1.4M165.51 860.3 v-1.4M186.67 860.3 v-1.4M207.82 860.3 v-1.4" stroke="#000" stroke-width="0.8" fill="none"/><rect x="28" y="719.6" width="190.4" height="140.7" fill="none" stroke="#262626" stroke-width="0.95"/><g class="t" font-size="7.8" text-anchor="middle"><text x="28" y="869.7">470</text><text x="49.16" y="869.7">468</text><text x="70.31" y="869.7">466</text><text x="91.47" y="869.7">464</text><text x="112.62" y="869.7">462</text><text x="133.78" y="869.7">460</text><text x="154.93" y="869.7">458</text><text x="176.09" y="869.7">456</text><text x="197.24" y="869.7">454</text><text x="218.4" y="869.7">452</text></g><text x="127.1" y="878" font-size="8.1" text-anchor="middle" font-family='"Liberation Serif", serif'>Binding Energy(eV)</text><text transform="translate(20.8 785.3) rotate(-90)" font-size="8.3" text-anchor="middle" font-family='"Liberation Serif", serif'>Intensity(a.u)</text><text x="1.6" y="733.2" font-size="13.2">(m)</text><text x="35.4" y="734.2" font-size="9.7">Ti2p</text>
<line x1="163.85" y1="756.4" x2="152.77" y2="763.12" stroke="#000" stroke-width="0.8"/>
<line x1="73.2" y1="805.09" x2="78.91" y2="810.12" stroke="#000" stroke-width="0.8"/>
<line x1="126.92" y1="816.84" x2="132.63" y2="833.63" stroke="#000" stroke-width="0.8"/><path d="M132.63 833.63 L130.72 831.11 L132.61 830.47 Z" fill="#000"/>
<line x1="198.1" y1="826.91" x2="193.07" y2="835.98" stroke="#000" stroke-width="0.8"/><path d="M193.07 835.98 L193.65 832.87 L195.4 833.84 Z" fill="#000"/>
<text x="163.9" y="757.4" font-size="10.4" text-anchor="start"><tspan dy="0">Ti</tspan><tspan dy="-4.26" font-size="7.07">4+</tspan><tspan dy="4.26"> 2p</tspan><tspan dy="2.5" font-size="7.07">3/2</tspan></text>
<text x="38.6" y="803.4" font-size="10.4" text-anchor="start"><tspan dy="0">Ti</tspan><tspan dy="-4.26" font-size="7.07">4+</tspan><tspan dy="4.26"> 2p</tspan><tspan dy="2.5" font-size="7.07">1/2</tspan></text>
<text x="99.7" y="810" font-size="10.4" text-anchor="start"><tspan dy="0">Ti</tspan><tspan dy="-4.26" font-size="7.07">0</tspan><tspan dy="4.26"> 2p</tspan><tspan dy="2.5" font-size="7.07">1/2</tspan></text>
<text x="181.3" y="823" font-size="10.4" text-anchor="start"><tspan dy="0">Ti</tspan><tspan dy="-4.26" font-size="7.07">0</tspan><tspan dy="4.26"> 2p</tspan><tspan dy="2.5" font-size="7.07">3/2</tspan></text>
</g>
<g id="pn">
<clipPath id="cn"><rect x="258.6" y="719.6" width="190" height="140.7"/></clipPath><g clip-path="url(#cn)"><path d="M258.6 841.9 259.6 841.9 260.6 841.9 261.6 841.9 262.6 841.9 263.6 841.9 264.6 841.9 265.6 841.9 266.6 841.9 267.6 841.9 268.6 841.9 269.6 841.9 270.6 841.9 271.6 841.9 272.6 841.9 273.6 841.9 274.6 841.8 275.6 841.8 276.6 841.7 277.6 841.6 278.6 841.5 279.6 841.3 280.6 841.1 281.6 840.8 282.6 840.5 283.6 840 284.6 839.4 285.6 838.7 286.6 837.8 287.6 836.6 288.6 835.2 289.6 833.5 290.6 831.5 291.6 829.1 292.6 826.4 293.6 823.2 294.6 819.7 295.6 815.8 296.6 811.5 297.6 806.9 298.6 802.1 299.6 797.1 300.6 792 301.6 787.1 302.6 782.4 303.6 778 304.6 774.1 305.6 770.9 306.6 768.5 307.6 767 308.6 766.5 309.6 767 310.6 768.4 311.6 770.8 312.6 774 313.6 777.8 314.6 782.1 315.6 786.8 316.6 791.6 317.6 796.5 318.6 801.3 319.6 805.8 320.6 810.1 321.6 813.9 322.6 817.2 323.6 820 324.6 822.1 325.6 823.5 326.6 824.3 327.6 824.2 328.6 823.4 329.6 821.8 330.6 819.3 331.6 815.9 332.6 811.8 333.6 806.8 334.6 801.1 335.6 794.7 336.6 787.7 337.6 780.4 338.6 772.8 339.6 765.2 340.6 757.9 341.6 751 342.6 745 343.6 739.9 344.6 736.2 345.6 733.9 346.6 733.3 347.6 734.3 348.6 736.9 349.6 740.9 350.6 746.2 351.6 752.4 352.6 759.4 353.6 766.8 354.6 774.4 355.6 781.9 356.6 789.3 357.6 796.2 358.6 802.6 359.6 808.4 360.6 813.6 361.6 818.1 362.6 821.9 363.6 825.2 364.6 827.8 365.6 830 366.6 831.8 367.6 833.2 368.6 834.4 369.6 835.3 370.6 836.1 371.6 836.7 372.6 837.3 373.6 837.8 374.6 838.3 375.6 838.8 376.6 839.3 377.6 839.8 378.6 840.3 379.6 840.8 380.6 841.3 381.6 841.8 382.6 842.3 383.6 842.8 384.6 843.3 385.6 843.7 386.6 844.1 387.6 844.4 388.6 844.7 389.6 844.9 390.6 845 391.6 845.1 392.6 845.1 393.6 845 394.6 844.8 395.6 844.6 396.6 844.2 397.6 843.8 398.6 843.2 399.6 842.7 400.6 842.1 401.6 841.4 402.6 840.8 403.6 840.2 404.6 839.6 405.6 839.2 406.6 838.8 407.6 838.5 408.6 838.4 409.6 838.4 410.6 838.6 411.6 838.9 412.6 839.4 413.6 839.9 414.6 840.6 415.6 841.3 416.6 842.1 417.6 842.9 418.6 843.6 419.6 844.4 420.6 845.1 421.6 845.7 422.6 846.3 423.6 846.9 424.6 847.3 425.6 847.7 426.6 848 427.6 848.3 428.6 848.6 429.6 848.7 430.6 848.9 431.6 849 432.6 849.2 433.6 849.2 434.6 849.3 435.6 849.4 436.6 849.5 437.6 849.5 438.6 849.6 439.6 849.6 440.6 849.7 441.6 849.7 442.6 849.8 443.6 849.8 444.6 849.8 445.6 849.9 446.6 849.9 447.6 850 448.6 850" fill="none" stroke="#000" stroke-width="1" stroke-linejoin="round"/><path d="M258.6 842.2 259.6 842.2 260.6 842.3 261.6 842.3 262.6 842.3 263.6 842.3 264.6 842.3 265.6 842.3 266.6 842.3 267.6 842.3 268.6 842.4 269.6 842.4 270.6 842.4 271.6 842.3 272.6 842.3 273.6 842.3 274.6 842.3 275.6 842.2 276.6 842.2 277.6 842.1 278.6 842 279.6 841.8 280.6 841.6 281.6 841.4 282.6 841 283.6 840.6 284.6 840 285.6 839.3 286.6 838.4 287.6 837.2 288.6 835.8 289.6 834.2 290.6 832.2 291.6 829.8 292.6 827.1 293.6 823.9 294.6 820.4 295.6 816.5 296.6 812.3 297.6 807.7 298.6 802.9 299.6 797.9 300.6 793 301.6 788 302.6 783.3 303.6 779 304.6 775.2 305.6 772 306.6 769.6 307.6 768.2 308.6 767.7 309.6 768.3 310.6 769.8 311.6 772.2 312.6 775.5 313.6 779.4 314.6 783.8 315.6 788.6 316.6 793.6 317.6 798.7 318.6 803.7 319.6 808.6 320.6 813.2 321.6 817.6 322.6 821.6 323.6 825.2 324.6 828.4 325.6 831.2 326.6 833.6 327.6 835.7 328.6 837.5 329.6 838.9 330.6 840.1 331.6 841.1 332.6 841.9 333.6 842.6 334.6 843.1 335.6 843.6 336.6 843.9 337.6 844.2 338.6 844.4 339.6 844.6 340.6 844.8 341.6 844.9 342.6 845 343.6 845.1 344.6 845.2 345.6 845.3 346.6 845.4 347.6 845.5 348.6 845.6 349.6 845.7 350.6 845.7 351.6 845.8 352.6 845.9 353.6 845.9 354.6 846 355.6 846.1 356.6 846.1 357.6 846.2 358.6 846.3 359.6 846.3 360.6 846.4 361.6 846.4 362.6 846.5 363.6 846.5 364.6 846.6 365.6 846.7 366.6 846.7 367.6 846.8 368.6 846.8 L368.6 847.2 367.6 847.1 366.6 847.1 365.6 847 364.6 847 363.6 847 362.6 846.9 361.6 846.9 360.6 846.8 359.6 846.8 358.6 846.8 357.6 846.7 356.6 846.7 355.6 846.6 354.6 846.6 353.6 846.6 352.6 846.5 351.6 846.5 350.6 846.4 349.6 846.4 348.6 846.4 347.6 846.3 346.6 846.3 345.6 846.2 344.6 846.2 343.6 846.2 342.6 846.1 341.6 846.1 340.6 846 339.6 846 338.6 845.9 337.6 845.9 336.6 845.9 335.6 845.8 334.6 845.8 333.6 845.7 332.6 845.7 331.6 845.7 330.6 845.6 329.6 845.6 328.6 845.5 327.6 845.5 326.6 845.5 325.6 845.4 324.6 845.4 323.6 845.3 322.6 845.3 321.6 845.3 320.6 845.2 319.6 845.2 318.6 845.1 317.6 845.1 316.6 845.1 315.6 845 314.6 845 313.6 844.9 312.6 844.9 311.6 844.9 310.6 844.8 309.6 844.8 308.6 844.7 307.6 844.7 306.6 844.7 305.6 844.6 304.6 844.6 303.6 844.5 302.6 844.5 301.6 844.5 300.6 844.4 299.6 844.4 298.6 844.3 297.6 844.3 296.6 844.2 295.6 844.2 294.6 844.2 293.6 844.1 292.6 844.1 291.6 844 290.6 844 289.6 844 288.6 843.9 287.6 843.9 286.6 843.8 285.6 843.8 284.6 843.8 283.6 843.7 282.6 843.7 281.6 843.6 280.6 843.6 279.6 843.6 278.6 843.5 277.6 843.5 276.6 843.4 275.6 843.4 274.6 843.4 273.6 843.3 272.6 843.3 271.6 843.2 270.6 843.2 269.6 843.2 268.6 843.1 267.6 843.1 266.6 843 265.6 843 264.6 843 263.6 842.9 262.6 842.9 261.6 842.8 260.6 842.8 259.6 842.7 258.6 842.7Z" fill="#ff0000" stroke="#ff0000" stroke-width="0.8"/><path d="M278.6 843.2 279.6 843.2 280.6 843.2 281.6 843.3 282.6 843.3 283.6 843.3 284.6 843.3 285.6 843.4 286.6 843.4 287.6 843.4 288.6 843.5 289.6 843.5 290.6 843.5 291.6 843.5 292.6 843.5 293.6 843.6 294.6 843.6 295.6 843.6 296.6 843.6 297.6 843.6 298.6 843.6 299.6 843.7 300.6 843.7 301.6 843.7 302.6 843.7 303.6 843.7 304.6 843.7 305.6 843.7 306.6 843.7 307.6 843.7 308.6 843.7 309.6 843.7 310.6 843.6 311.6 843.6 312.6 843.6 313.6 843.5 314.6 843.4 315.6 843.4 316.6 843.3 317.6 843.1 318.6 842.9 319.6 842.6 320.6 842.3 321.6 841.8 322.6 841.2 323.6 840.4 324.6 839.4 325.6 838.1 326.6 836.5 327.6 834.4 328.6 831.9 329.6 828.9 330.6 825.3 331.6 821 332.6 816.2 333.6 810.7 334.6 804.5 335.6 797.8 336.6 790.6 337.6 783.1 338.6 775.4 339.6 767.8 340.6 760.4 341.6 753.5 342.6 747.4 343.6 742.4 344.6 738.6 345.6 736.4 346.6 735.8 347.6 736.8 348.6 739.5 349.6 743.5 350.6 748.9 351.6 755.2 352.6 762.3 353.6 769.9 354.6 777.6 355.6 785.4 356.6 792.9 357.6 800.1 358.6 806.8 359.6 812.9 360.6 818.3 361.6 823.2 362.6 827.4 363.6 830.9 364.6 833.9 365.6 836.4 366.6 838.5 367.6 840.1 368.6 841.4 369.6 842.5 370.6 843.3 371.6 844 372.6 844.5 373.6 844.9 374.6 845.2 375.6 845.5 376.6 845.7 377.6 845.9 378.6 846.1 379.6 846.2 380.6 846.3 381.6 846.5 382.6 846.6 383.6 846.7 384.6 846.8 385.6 846.9 386.6 846.9 387.6 847 388.6 847.1 389.6 847.2 390.6 847.3 391.6 847.3 392.6 847.4 393.6 847.5 394.6 847.5 395.6 847.6 396.6 847.7 397.6 847.7 398.6 847.8 399.6 847.9 400.6 847.9 401.6 848 402.6 848 403.6 848.1 404.6 848.2 405.6 848.2 406.6 848.3 407.6 848.3 408.6 848.4 409.6 848.4 410.6 848.5 411.6 848.5 412.6 848.6 413.6 848.6 414.6 848.7 L414.6 849 413.6 849 412.6 848.9 411.6 848.9 410.6 848.9 409.6 848.8 408.6 848.8 407.6 848.7 406.6 848.7 405.6 848.7 404.6 848.6 403.6 848.6 402.6 848.5 401.6 848.5 400.6 848.5 399.6 848.4 398.6 848.4 397.6 848.3 396.6 848.3 395.6 848.3 394.6 848.2 393.6 848.2 392.6 848.1 391.6 848.1 390.6 848.1 389.6 848 388.6 848 387.6 847.9 386.6 847.9 385.6 847.9 384.6 847.8 383.6 847.8 382.6 847.7 381.6 847.7 380.6 847.6 379.6 847.6 378.6 847.6 377.6 847.5 376.6 847.5 375.6 847.4 374.6 847.4 373.6 847.4 372.6 847.3 371.6 847.3 370.6 847.2 369.6 847.2 368.6 847.2 367.6 847.1 366.6 847.1 365.6 847 364.6 847 363.6 847 362.6 846.9 361.6 846.9 360.6 846.8 359.6 846.8 358.6 846.8 357.6 846.7 356.6 846.7 355.6 846.6 354.6 846.6 353.6 846.6 352.6 846.5 351.6 846.5 350.6 846.4 349.6 846.4 348.6 846.4 347.6 846.3 346.6 846.3 345.6 846.2 344.6 846.2 343.6 846.2 342.6 846.1 341.6 846.1 340.6 846 339.6 846 338.6 845.9 337.6 845.9 336.6 845.9 335.6 845.8 334.6 845.8 333.6 845.7 332.6 845.7 331.6 845.7 330.6 845.6 329.6 845.6 328.6 845.5 327.6 845.5 326.6 845.5 325.6 845.4 324.6 845.4 323.6 845.3 322.6 845.3 321.6 845.3 320.6 845.2 319.6 845.2 318.6 845.1 317.6 845.1 316.6 845.1 315.6 845 314.6 845 313.6 844.9 312.6 844.9 311.6 844.9 310.6 844.8 309.6 844.8 308.6 844.7 307.6 844.7 306.6 844.7 305.6 844.6 304.6 844.6 303.6 844.5 302.6 844.5 301.6 844.5 300.6 844.4 299.6 844.4 298.6 844.3 297.6 844.3 296.6 844.2 295.6 844.2 294.6 844.2 293.6 844.1 292.6 844.1 291.6 844 290.6 844 289.6 844 288.6 843.9 287.6 843.9 286.6 843.8 285.6 843.8 284.6 843.8 283.6 843.7 282.6 843.7 281.6 843.6 280.6 843.6 279.6 843.6 278.6 843.5Z" fill="#ff0000" stroke="#ff0000" stroke-width="0.8"/><path d="M346.6 845.9 347.6 845.9 348.6 845.8 349.6 845.8 350.6 845.6 351.6 845.5 352.6 845.4 353.6 845.2 354.6 845 355.6 844.7 356.6 844.4 357.6 844.1 358.6 843.8 359.6 843.5 360.6 843.1 361.6 842.8 362.6 842.4 363.6 842.1 364.6 841.7 365.6 841.4 366.6 841.2 367.6 840.9 368.6 840.8 369.6 840.6 370.6 840.6 371.6 840.6 372.6 840.7 373.6 840.8 374.6 841 375.6 841.2 376.6 841.5 377.6 841.9 378.6 842.2 379.6 842.6 380.6 843.1 381.6 843.5 382.6 843.9 383.6 844.4 384.6 844.8 385.6 845.2 386.6 845.6 387.6 845.9 388.6 846.3 389.6 846.6 390.6 846.9 391.6 847.1 392.6 847.3 393.6 847.5 394.6 847.7 395.6 847.8 396.6 848 L396.6 848.3 395.6 848.3 394.6 848.2 393.6 848.2 392.6 848.1 391.6 848.1 390.6 848.1 389.6 848 388.6 848 387.6 847.9 386.6 847.9 385.6 847.9 384.6 847.8 383.6 847.8 382.6 847.7 381.6 847.7 380.6 847.6 379.6 847.6 378.6 847.6 377.6 847.5 376.6 847.5 375.6 847.4 374.6 847.4 373.6 847.4 372.6 847.3 371.6 847.3 370.6 847.2 369.6 847.2 368.6 847.2 367.6 847.1 366.6 847.1 365.6 847 364.6 847 363.6 847 362.6 846.9 361.6 846.9 360.6 846.8 359.6 846.8 358.6 846.8 357.6 846.7 356.6 846.7 355.6 846.6 354.6 846.6 353.6 846.6 352.6 846.5 351.6 846.5 350.6 846.4 349.6 846.4 348.6 846.4 347.6 846.3 346.6 846.3Z" fill="#1ffcff" stroke="#1ffcff" stroke-width="0.8"/><path d="M387.6 847.7 388.6 847.6 389.6 847.5 390.6 847.4 391.6 847.2 392.6 847 393.6 846.7 394.6 846.4 395.6 846 396.6 845.5 397.6 844.9 398.6 844.4 399.6 843.7 400.6 843 401.6 842.3 402.6 841.7 403.6 841 404.6 840.4 405.6 839.9 406.6 839.5 407.6 839.3 408.6 839.1 409.6 839.1 410.6 839.3 411.6 839.6 412.6 840 413.6 840.6 414.6 841.2 415.6 841.9 416.6 842.7 417.6 843.4 418.6 844.2 419.6 844.9 420.6 845.6 421.6 846.3 422.6 846.9 423.6 847.4 424.6 847.8 425.6 848.2 426.6 848.5 427.6 848.8 428.6 849 429.6 849.2 430.6 849.4 L430.6 849.7 429.6 849.6 428.6 849.6 427.6 849.6 426.6 849.5 425.6 849.5 424.6 849.4 423.6 849.4 422.6 849.3 421.6 849.3 420.6 849.3 419.6 849.2 418.6 849.2 417.6 849.1 416.6 849.1 415.6 849.1 414.6 849 413.6 849 412.6 848.9 411.6 848.9 410.6 848.9 409.6 848.8 408.6 848.8 407.6 848.7 406.6 848.7 405.6 848.7 404.6 848.6 403.6 848.6 402.6 848.5 401.6 848.5 400.6 848.5 399.6 848.4 398.6 848.4 397.6 848.3 396.6 848.3 395.6 848.3 394.6 848.2 393.6 848.2 392.6 848.1 391.6 848.1 390.6 848.1 389.6 848 388.6 848 387.6 847.9Z" fill="#1ffcff" stroke="#1ffcff" stroke-width="0.8"/><path d="M374.6 847.1 375.6 847 376.6 847 377.6 846.9 378.6 846.8 379.6 846.7 380.6 846.6 381.6 846.6 382.6 846.5 383.6 846.4 384.6 846.4 385.6 846.3 386.6 846.3 387.6 846.3 388.6 846.4 389.6 846.4 390.6 846.5 391.6 846.7 392.6 846.8 393.6 847 394.6 847.1 395.6 847.3 396.6 847.4 397.6 847.6 398.6 847.8 399.6 847.9 400.6 848 401.6 848.2 L401.6 848.5 400.6 848.5 399.6 848.4 398.6 848.4 397.6 848.3 396.6 848.3 395.6 848.3 394.6 848.2 393.6 848.2 392.6 848.1 391.6 848.1 390.6 848.1 389.6 848 388.6 848 387.6 847.9 386.6 847.9 385.6 847.9 384.6 847.8 383.6 847.8 382.6 847.7 381.6 847.7 380.6 847.6 379.6 847.6 378.6 847.6 377.6 847.5 376.6 847.5 375.6 847.4 374.6 847.4Z" fill="#ff0000" stroke="#ff0000" stroke-width="0.8"/><path d="M258.6 842.7 259.6 842.7 260.6 842.8 261.6 842.8 262.6 842.9 263.6 842.9 264.6 843 265.6 843 266.6 843 267.6 843.1 268.6 843.1 269.6 843.2 270.6 843.2 271.6 843.2 272.6 843.3 273.6 843.3 274.6 843.4 275.6 843.4 276.6 843.4 277.6 843.5 278.6 843.5 279.6 843.6 280.6 843.6 281.6 843.6 282.6 843.7 283.6 843.7 284.6 843.8 285.6 843.8 286.6 843.8 287.6 843.9 288.6 843.9 289.6 844 290.6 844 291.6 844 292.6 844.1 293.6 844.1 294.6 844.2 295.6 844.2 296.6 844.2 297.6 844.3 298.6 844.3 299.6 844.4 300.6 844.4 301.6 844.5 302.6 844.5 303.6 844.5 304.6 844.6 305.6 844.6 306.6 844.7 307.6 844.7 308.6 844.7 309.6 844.8 310.6 844.8 311.6 844.9 312.6 844.9 313.6 844.9 314.6 845 315.6 845 316.6 845.1 317.6 845.1 318.6 845.1 319.6 845.2 320.6 845.2 321.6 845.3 322.6 845.3 323.6 845.3 324.6 845.4 325.6 845.4 326.6 845.5 327.6 845.5 328.6 845.5 329.6 845.6 330.6 845.6 331.6 845.7 332.6 845.7 333.6 845.7 334.6 845.8 335.6 845.8 336.6 845.9 337.6 845.9 338.6 845.9 339.6 846 340.6 846 341.6 846.1 342.6 846.1 343.6 846.2 344.6 846.2 345.6 846.2 346.6 846.3 347.6 846.3 348.6 846.4 349.6 846.4 350.6 846.4 351.6 846.5 352.6 846.5 353.6 846.6 354.6 846.6 355.6 846.6 356.6 846.7 357.6 846.7 358.6 846.8 359.6 846.8 360.6 846.8 361.6 846.9 362.6 846.9 363.6 847 364.6 847 365.6 847 366.6 847.1 367.6 847.1 368.6 847.2 369.6 847.2 370.6 847.2 371.6 847.3 372.6 847.3 373.6 847.4 374.6 847.4 375.6 847.4 376.6 847.5 377.6 847.5 378.6 847.6 379.6 847.6 380.6 847.6 381.6 847.7 382.6 847.7 383.6 847.8 384.6 847.8 385.6 847.9 386.6 847.9 387.6 847.9 388.6 848 389.6 848 390.6 848.1 391.6 848.1 392.6 848.1 393.6 848.2 394.6 848.2 395.6 848.3 396.6 848.3 397.6 848.3 398.6 848.4 399.6 848.4 400.6 848.5 401.6 848.5 402.6 848.5 403.6 848.6 404.6 848.6 405.6 848.7 406.6 848.7 407.6 848.7 408.6 848.8 409.6 848.8 410.6 848.9 411.6 848.9 412.6 848.9 413.6 849 414.6 849 415.6 849.1 416.6 849.1 417.6 849.1 418.6 849.2 419.6 849.2 420.6 849.3 421.6 849.3 422.6 849.3 423.6 849.4 424.6 849.4 425.6 849.5 426.6 849.5 427.6 849.6 428.6 849.6 429.6 849.6 430.6 849.7 431.6 849.7 432.6 849.8 433.6 849.8 434.6 849.8 435.6 849.9 436.6 849.9 437.6 850 438.6 850 439.6 850 440.6 850.1 441.6 850.1 442.6 850.2 443.6 850.2 444.6 850.2 445.6 850.3 446.6 850.3 447.6 850.4 448.6 850.4" fill="none" stroke="#1ffcff" stroke-width="0.8"/></g>
<path d="M258.6 860.3 v-2.4M290.27 860.3 v-2.4M321.93 860.3 v-2.4M353.6 860.3 v-2.4M385.27 860.3 v-2.4M416.93 860.3 v-2.4M448.6 860.3 v-2.4" stroke="#000" stroke-width="0.9" fill="none"/><path d="M274.43 860.3 v-1.4M306.1 860.3 v-1.4M337.77 860.3 v-1.4M369.43 860.3 v-1.4M401.1 860.3 v-1.4M432.77 860.3 v-1.4" stroke="#000" stroke-width="0.8" fill="none"/><rect x="258.6" y="719.6" width="190" height="140.7" fill="none" stroke="#262626" stroke-width="0.95"/><g class="t" font-size="7.8" text-anchor="middle"><text x="258.6" y="869.7">188</text><text x="290.27" y="869.7">186</text><text x="321.93" y="869.7">184</text><text x="353.6" y="869.7">182</text><text x="385.27" y="869.7">180</text><text x="416.93" y="869.7">178</text><text x="448.6" y="869.7">176</text></g><text x="353.4" y="878.3" font-size="8.1" text-anchor="middle" font-family='"Liberation Serif", serif'>Binding Energy(eV)</text><text transform="translate(252.5 785.5) rotate(-90)" font-size="8.5" text-anchor="middle" font-family='"Liberation Serif", serif'>Intensity(a.u)</text><text x="233.4" y="733.2" font-size="13.2">(n)</text><text x="263.4" y="734.6" font-size="10.1">Zr3d</text>
<line x1="359.62" y1="748.01" x2="352.91" y2="754.05" stroke="#000" stroke-width="0.8"/>
<line x1="287.77" y1="778.9" x2="301.2" y2="786.62" stroke="#000" stroke-width="0.8"/><path d="M301.2 786.62 L298.1 785.99 L299.09 784.26 Z" fill="#000"/>
<line x1="379.09" y1="832.62" x2="374.73" y2="839.67" stroke="#000" stroke-width="0.8"/>
<line x1="424.42" y1="837.99" x2="416.03" y2="844.71" stroke="#000" stroke-width="0.8"/>
<text x="358.3" y="744.7" font-size="10.4" text-anchor="start"><tspan dy="0">Zr</tspan><tspan dy="-4.26" font-size="7.07">4+</tspan><tspan dy="4.26"> 3d</tspan><tspan dy="2.5" font-size="7.07">5/2</tspan></text>
<text x="261" y="774.9" font-size="10.4" text-anchor="start"><tspan dy="0">Zr</tspan><tspan dy="-4.26" font-size="7.07">4+</tspan><tspan dy="4.26"> 3d</tspan><tspan dy="2.5" font-size="7.07">3/2</tspan></text>
<text x="368.4" y="827.6" font-size="10.4" text-anchor="start"><tspan dy="0">Zr</tspan><tspan dy="-4.26" font-size="7.07">0</tspan><tspan dy="4.26"> 3d</tspan><tspan dy="2.5" font-size="7.07">3/2</tspan></text>
<text x="409.3" y="834.3" font-size="10.4" text-anchor="start"><tspan dy="0">Zr</tspan><tspan dy="-4.26" font-size="7.07">0</tspan><tspan dy="4.26"> 3d</tspan><tspan dy="2.5" font-size="7.07">5/2</tspan></text>
</g>
<g id="po">
<clipPath id="co"><rect x="488.6" y="718.4" width="190" height="141"/></clipPath><g clip-path="url(#co)"><path d="M488.6 794.1 489.5 794 490.3 794.8 491.2 802 492.1 796.5 492.9 784.5 493.8 798 494.6 795.8 495.5 795.8 496.4 798.9 497.2 800.5 498.1 808.5 499 805.9 499.8 801.2 500.7 794 501.6 791.1 502.4 801 503.3 811.3 504.1 802.9 505 800.4 505.9 805.5 506.7 791.1 507.6 797.8 508.5 805.7 509.3 809.8 510.2 801.9 511.1 805.5 511.9 805.5 512.8 809.5 513.6 796 514.5 806.6 515.4 793.1 516.2 782.6 517.1 796.4 518 796.6 518.8 809.5 519.7 810.1 520.6 796.1 521.4 809 522.3 797.9 523.1 802.4 524 801.9 524.9 804.5 525.7 809.8 526.6 809.1 527.5 806.7 528.3 808.2 529.2 807 530.1 798.8 530.9 796.6 531.8 797.9 532.6 804.3 533.5 799.7 534.4 815.8 535.2 796.6 536.1 790.8 537 802 537.8 807.3 538.7 800.9 539.6 800.8 540.4 803.5 541.3 792.9 542.1 781.4 543 783.7 543.9 791.3 544.7 775.8 545.6 779.7 546.5 779.4 547.3 773.1 548.2 775.2 549.1 771.9 549.9 777.9 550.8 766.7 551.6 755.5 552.5 751.9 553.4 748 554.2 754.8 555.1 746.8 556 746.8 556.8 750.4 557.7 743.2 558.6 744 559.4 736.9 560.3 739.5 561.1 742.7 562 747.9 562.9 752.5 563.7 747.5 564.6 748 565.5 748 566.3 752.5 567.2 735 568.1 750.6 568.9 745.2 569.8 755 570.6 756 571.5 762.1 572.4 759.5 573.2 771.3 574.1 764.8 575 776 575.8 773.7 576.7 772.7 577.6 772.4 578.4 779.8 579.3 791.2 580.1 791.9 581 792.9 581.9 779 582.7 793.8 583.6 796.8 584.5 792 585.3 791.5 586.2 795.3 587.1 805.2 587.9 792.7 588.8 793.9 589.6 803.9 590.5 796.2 591.4 795.3 592.2 797.9 593.1 791.5 594 798.1 594.8 792.1 595.7 801.9 596.6 799.3 597.4 810.5 598.3 802.3 599.1 806.5 600 793.9 600.9 798.1 601.7 801.7 602.6 809.8 603.5 793.7 604.3 805.1 605.2 805.6 606.1 810.6 606.9 807.6 607.8 804 608.6 801.1 609.5 797.4 610.4 804.8 611.2 804.5 612.1 816.1 613 805 613.8 808.2 614.7 799.8 615.6 804.9 616.4 809.8 617.3 813.8 618.1 818 619 811.5 619.9 805.4 620.7 813.1 621.6 815.3 622.5 815.7 623.3 810.2 624.2 819.1 625.1 815.8 625.9 818.7 626.8 822.6 627.6 820.2 628.5 818.5 629.4 828.3 630.2 820.6 631.1 816.8 632 818.9 632.8 826.6 633.7 821.3 634.6 822.7 635.4 826.8 636.3 819.2 637.1 812.1 638 821.7 638.9 823.4 639.7 819.5 640.6 826.6 641.5 826.8 642.3 818.9 643.2 825.5 644.1 823.4 644.9 816.7 645.8 825.7 646.6 825 647.5 821.3 648.4 827.3 649.2 828.4 650.1 823.2 651 827.4 651.8 831.5 652.7 823.4 653.6 827.7 654.4 826.8 655.3 838 656.1 819.2 657 828.9 657.9 826 658.7 826.4 659.6 836.7 660.5 828.8 661.3 838.6 662.2 827.1 663.1 829.1 663.9 825.6 664.8 824 665.6 827.7 666.5 826.7 667.4 828.9 668.2 817.9 669.1 836.6 670 829.2 670.8 837 671.7 825 672.6 829.4 673.4 844.7 674.3 827.1 675.1 820.9 676 825.2 676.9 831.1 677.7 833.1 678.6 836.3" fill="none" stroke="#000" stroke-width="1.08" stroke-linejoin="miter" stroke-miterlimit="3"/></g>
<path d="M488.6 859.4 v-2.4M523.15 859.4 v-2.4M557.69 859.4 v-2.4M592.24 859.4 v-2.4M626.78 859.4 v-2.4M661.33 859.4 v-2.4" stroke="#000" stroke-width="0.9" fill="none"/><path d="M505.87 859.4 v-1.4M540.42 859.4 v-1.4M574.96 859.4 v-1.4M609.51 859.4 v-1.4M644.05 859.4 v-1.4" stroke="#000" stroke-width="0.8" fill="none"/><rect x="488.6" y="718.4" width="190" height="141" fill="none" stroke="#262626" stroke-width="0.95"/><g class="t" font-size="7.8" text-anchor="middle"><text x="488.6" y="868.8">118</text><text x="523.15" y="868.8">116</text><text x="557.69" y="868.8">114</text><text x="592.24" y="868.8">112</text><text x="626.78" y="868.8">110</text><text x="661.33" y="868.8">108</text></g><text x="587.6" y="877.3" font-size="8.8" text-anchor="middle" font-family='"Liberation Serif", serif'>Binding Energy(eV)</text><text transform="translate(480.9 784) rotate(-90)" font-size="8.8" text-anchor="middle" font-family='"Liberation Serif", serif'>Intensity(a.u)</text><text x="466" y="727.4" font-size="13.2">(o)</text><text x="493.4" y="731.6" font-size="11">Be1s</text>
<text x="548.4" y="735.3" font-size="11.4" text-anchor="start"><tspan dy="0">Be</tspan><tspan dy="-4.33" font-size="10.26">2+</tspan><tspan dy="4.33"> 1s</tspan></text>
</g>
</svg>
</body></html>
